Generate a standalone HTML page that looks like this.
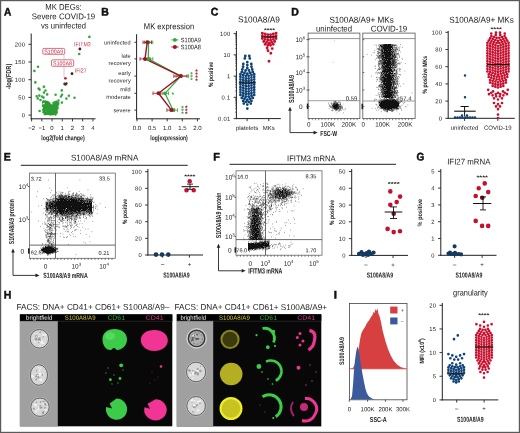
<!DOCTYPE html>
<html><head><meta charset="utf-8"><title>Figure</title>
<style>html,body{margin:0;padding:0;background:#fff;overflow:hidden}svg{display:block}text{font-family:"Liberation Sans",Arial,sans-serif}</style>
</head><body><svg width="520" height="433" viewBox="0 0 520 433" text-rendering="geometricPrecision" font-family="Liberation Sans, Arial, sans-serif" fill="#222"><text x="4" y="15.4" font-size="11" font-weight="bold" fill="#111" textLength="7.3" lengthAdjust="spacingAndGlyphs" transform="rotate(0.05 4 15.4)" stroke="#111" stroke-width="0.5">A</text><text x="63.5" y="9.8" font-size="8.3" text-anchor="middle" textLength="36.5" lengthAdjust="spacingAndGlyphs" transform="rotate(0.05 63.5 9.8)">MK DEGs:</text><text x="63.5" y="19.2" font-size="8.3" text-anchor="middle" textLength="63.5" lengthAdjust="spacingAndGlyphs" transform="rotate(0.05 63.5 19.2)">Severe COVID-19</text><text x="63.5" y="28.6" font-size="8.3" text-anchor="middle" textLength="45" lengthAdjust="spacingAndGlyphs" transform="rotate(0.05 63.5 28.6)">vs uninfected</text><line x1="31.2" y1="33.5" x2="31.2" y2="119.3" stroke="#222" stroke-width="1"/><line x1="28.4" y1="115.1" x2="31.2" y2="115.1" stroke="#222" stroke-width="0.9"/><text x="25.3" y="117.2" font-size="5.8" text-anchor="end" transform="rotate(0.05 25.3 117.2)" letter-spacing="0.3">0</text><line x1="28.4" y1="97.4" x2="31.2" y2="97.4" stroke="#222" stroke-width="0.9"/><text x="25.3" y="99.5" font-size="5.8" text-anchor="end" transform="rotate(0.05 25.3 99.5)" letter-spacing="0.3">50</text><line x1="28.4" y1="79.7" x2="31.2" y2="79.7" stroke="#222" stroke-width="0.9"/><text x="25.3" y="81.8" font-size="5.8" text-anchor="end" transform="rotate(0.05 25.3 81.8)" letter-spacing="0.3">100</text><line x1="28.4" y1="62" x2="31.2" y2="62" stroke="#222" stroke-width="0.9"/><text x="25.3" y="64.1" font-size="5.8" text-anchor="end" transform="rotate(0.05 25.3 64.1)" letter-spacing="0.3">150</text><line x1="28.4" y1="44.3" x2="31.2" y2="44.3" stroke="#222" stroke-width="0.9"/><text x="25.3" y="46.4" font-size="5.8" text-anchor="end" transform="rotate(0.05 25.3 46.4)" letter-spacing="0.3">200</text><line x1="30.7" y1="118.8" x2="95.5" y2="118.8" stroke="#222" stroke-width="1"/><line x1="31.6" y1="118.8" x2="31.6" y2="121.4" stroke="#222" stroke-width="0.9"/><text x="31.6" y="130" font-size="6.0" text-anchor="middle" transform="rotate(0.05 31.6 130)">−2</text><line x1="41.82" y1="118.8" x2="41.82" y2="121.4" stroke="#222" stroke-width="0.9"/><text x="41.82" y="130" font-size="6.0" text-anchor="middle" transform="rotate(0.05 41.82 130)">−1</text><line x1="52.04" y1="118.8" x2="52.04" y2="121.4" stroke="#222" stroke-width="0.9"/><text x="52.04" y="130" font-size="6.0" text-anchor="middle" transform="rotate(0.05 52.04 130)">0</text><line x1="62.26" y1="118.8" x2="62.26" y2="121.4" stroke="#222" stroke-width="0.9"/><text x="62.26" y="130" font-size="6.0" text-anchor="middle" transform="rotate(0.05 62.26 130)">1</text><line x1="72.48" y1="118.8" x2="72.48" y2="121.4" stroke="#222" stroke-width="0.9"/><text x="72.48" y="130" font-size="6.0" text-anchor="middle" transform="rotate(0.05 72.48 130)">2</text><line x1="82.7" y1="118.8" x2="82.7" y2="121.4" stroke="#222" stroke-width="0.9"/><text x="82.7" y="130" font-size="6.0" text-anchor="middle" transform="rotate(0.05 82.7 130)">3</text><line x1="92.92" y1="118.8" x2="92.92" y2="121.4" stroke="#222" stroke-width="0.9"/><text x="92.92" y="130" font-size="6.0" text-anchor="middle" transform="rotate(0.05 92.92 130)">4</text><text x="63" y="140.3" font-size="7.2" text-anchor="middle" font-weight="bold" textLength="43.3" lengthAdjust="spacingAndGlyphs" transform="rotate(0.05 63 140.3)">log2(fold change)</text><text x="11" y="76.5" font-size="7.2" text-anchor="middle" font-weight="bold" textLength="25.5" lengthAdjust="spacingAndGlyphs" transform="rotate(-90 11 76.5)">-log(FDR)</text><polygon points="42.2,100.8 48.3,101 49.6,102.5 51.8,105.5 53.8,102.5 55.2,101.6 58.8,102 58.3,106 57,112.5 55.5,114.6 44.5,114.6 43.3,112 42.6,106" fill="#34aa3a"/><path d="M52.88 114.3h0M55.74 103.22h0M46.7 113.91h0M56.14 107.22h0M46.76 104.09h0M45.84 106.84h0M50.59 108.63h0M45.09 102.14h0M52.96 107.98h0M54.15 102.81h0M56.77 102.05h0M46.08 114.03h0M50.69 113.48h0M53.15 111.74h0M50.65 113.88h0M47.86 109.37h0M47.14 101.98h0M56.51 105.76h0M52.5 110.03h0M49.37 103.45h0M53.76 104.46h0M51.82 105.71h0M48.81 103.45h0M49.89 108.54h0M47.12 111.9h0M49.14 108.14h0M57.58 105.18h0M52.22 110.78h0M47.75 108.07h0M55.54 114.5h0M56.4 101.76h0M48.96 112.95h0M56.07 107.96h0M54.79 103.24h0M44.77 105.49h0M44.41 105.21h0M47.46 103.98h0M50.9 114.29h0M55.11 109.08h0M49.11 113.99h0M45.77 112.8h0M53.85 111.33h0M47.32 106.07h0M52.47 107.41h0M52.3 110.38h0M49.85 109.86h0M55.52 112.95h0M57.68 108.13h0M45.8 103.6h0M44.56 108.86h0M44.15 110.68h0M56.42 110.36h0M47.43 104.75h0M43.14 109.84h0M56.15 104.68h0M43.45 112.15h0M57.77 102.76h0M51.9 110.04h0M53.56 109.93h0M56.65 112.76h0M47.22 111.41h0M48.21 103.67h0M49.67 110.34h0M42.92 105.78h0M43.54 110.43h0M56.78 105.72h0M48.06 108.4h0M45.09 103.58h0M47.27 107.05h0M43.49 101.7h0M58.22 103.94h0M46.82 113.24h0M49.26 114.08h0M48.13 111.23h0M55.75 113.13h0M53.81 105.62h0M55.39 102.65h0M46.06 108.35h0M55.22 114.29h0M43.39 102.54h0M56.19 110.13h0M55.77 106.02h0M55.43 112h0M54.7 106.84h0M48.19 106.43h0M51.31 105.89h0M51.41 111.41h0M48.25 113.21h0M43.62 112.05h0M54.54 113.12h0M43.22 102.42h0M51.92 106.86h0M55.26 102.64h0M58.37 103.08h0M46.96 104.65h0M54.68 107.01h0M45.68 106h0M45.32 101.56h0M43.34 102.41h0M57.35 107.49h0M44.49 110.55h0M46.05 108.19h0M46.38 108.02h0M52.94 108.35h0M48.52 112.55h0M57.6 102.46h0M43.59 101.37h0M44.95 107.86h0M50.45 114.6h0M45.49 107.17h0M56.75 112.06h0M54.45 113.52h0M53.95 111.64h0M46.73 102.27h0M55.37 102.24h0M43.95 107.99h0M51.93 112.76h0M46.36 112.73h0M54.35 110.12h0M48.89 110.92h0M56.87 105.03h0M53.72 102.95h0M51.48 112.19h0M49.9 106.25h0M54.69 108.13h0M51.69 108.71h0M49.6 109.91h0M44.72 114h0M44.76 107h0M55.26 111.17h0M51.52 112.82h0M49.85 109.74h0M56.56 110.69h0M53.19 106.2h0M51.61 106.04h0M55.14 105.78h0M49.87 111.97h0M50.57 105.08h0M56.71 105.79h0M49.5 111.26h0" stroke="#2e9c34" stroke-width="2.4" stroke-linecap="round"/><path d="M43.8 103.6h0" stroke="#fff" stroke-width="1.6" stroke-linecap="round"/><path d="M35.4 82.5h0M38.6 88.6h0M39.6 89.6h0M44 86.8h0M45.5 90.5h0M44 92.6h0M47.2 94.4h0M36.7 96.3h0M39.3 95.6h0M42 96.5h0M43.5 97.6h0M55.6 94.8h0M61.8 90.4h0M62 94.8h0M61 96.5h0M68.9 95.8h0M66.4 98.6h0M74.5 97.8h0M61.9 102.6h0M39.6 111h0M53.6 103h0M38 66.8h0M34.4 70.9h0M35.3 82.4h0M43.9 86.9h0M39 89h0M89.4 36.9h0M79.2 54h0M40.5 100h0M58.5 100.5h0M37.8 98.5h0" stroke="#35a83c" stroke-width="2.6" stroke-linecap="round"/><path d="M79.9 49h0M72 73.7h0" stroke="#5a0f18" stroke-width="2.8" stroke-linecap="round"/><path d="M65.4 78.3h0" stroke="#c0283a" stroke-width="2.8" stroke-linecap="round"/><path d="M64.6 83.9h0M66.4 83.6h0M65.5 84.4h0" stroke="#4a3010" stroke-width="2.6" stroke-linecap="round"/><line x1="64" y1="54.3" x2="64" y2="77" stroke="#aab" stroke-width="0.6"/><rect x="42.8" y="48.4" width="21.9" height="5.9" rx="1.2" fill="#fff" stroke="#c8324b" stroke-width="0.7"/><text x="53.75" y="53.4" font-size="5.6" text-anchor="middle" fill="#c8324b" textLength="19" lengthAdjust="spacingAndGlyphs" transform="rotate(0.05 53.75 53.4)">S100A9</text><rect x="51.5" y="59.8" width="22.2" height="6.5" rx="1.2" fill="#fff" stroke="#c8324b" stroke-width="0.7"/><text x="62.6" y="65.2" font-size="5.6" text-anchor="middle" fill="#c8324b" textLength="19" lengthAdjust="spacingAndGlyphs" transform="rotate(0.05 62.6 65.2)">S100A8</text><text x="74.1" y="46.2" font-size="6" fill="#c8324b" textLength="16.6" lengthAdjust="spacingAndGlyphs" transform="rotate(0.05 74.1 46.2)">IFITM3</text><text x="74.7" y="72.4" font-size="6" fill="#c8324b" textLength="11.9" lengthAdjust="spacingAndGlyphs" transform="rotate(0.05 74.7 72.4)">IFI27</text><text x="101.3" y="15.5" font-size="11" font-weight="bold" fill="#111" textLength="7.6" lengthAdjust="spacingAndGlyphs" transform="rotate(0.05 101.3 15.5)" stroke="#111" stroke-width="0.5">B</text><text x="169" y="29.2" font-size="8.6" text-anchor="middle" textLength="50.3" lengthAdjust="spacingAndGlyphs" transform="rotate(0.05 169 29.2)">MK expression</text><line x1="136.6" y1="34.2" x2="136.6" y2="119.3" stroke="#222" stroke-width="1"/><line x1="134.4" y1="42.3" x2="136.6" y2="42.3" stroke="#222" stroke-width="0.9"/><line x1="134.4" y1="58.9" x2="136.6" y2="58.9" stroke="#222" stroke-width="0.9"/><line x1="134.4" y1="76.1" x2="136.6" y2="76.1" stroke="#222" stroke-width="0.9"/><line x1="134.4" y1="93.3" x2="136.6" y2="93.3" stroke="#222" stroke-width="0.9"/><line x1="134.4" y1="110.1" x2="136.6" y2="110.1" stroke="#222" stroke-width="0.9"/><text x="130.8" y="44.5" font-size="5.6" text-anchor="end" transform="rotate(0.05 130.8 44.5)" letter-spacing="0.1">uninfected</text><text x="130.8" y="57.7" font-size="5.6" text-anchor="end" transform="rotate(0.05 130.8 57.7)" letter-spacing="0.1">late</text><text x="130.8" y="65.1" font-size="5.6" text-anchor="end" transform="rotate(0.05 130.8 65.1)" letter-spacing="0.1">recovery</text><text x="130.8" y="74.9" font-size="5.6" text-anchor="end" transform="rotate(0.05 130.8 74.9)" letter-spacing="0.1">early</text><text x="130.8" y="82.6" font-size="5.6" text-anchor="end" transform="rotate(0.05 130.8 82.6)" letter-spacing="0.1">recovery</text><text x="130.8" y="91.3" font-size="5.6" text-anchor="end" transform="rotate(0.05 130.8 91.3)" letter-spacing="0.1">mild</text><text x="130.8" y="98.9" font-size="5.6" text-anchor="end" transform="rotate(0.05 130.8 98.9)" letter-spacing="0.1">moderate</text><text x="130.8" y="112.3" font-size="5.6" text-anchor="end" transform="rotate(0.05 130.8 112.3)" letter-spacing="0.1">severe</text><line x1="136.1" y1="118.8" x2="200" y2="118.8" stroke="#222" stroke-width="1"/><line x1="137" y1="118.8" x2="137" y2="121.4" stroke="#222" stroke-width="0.9"/><text x="137" y="130" font-size="6.0" text-anchor="middle" transform="rotate(0.05 137 130)">0.0</text><line x1="152.1" y1="118.8" x2="152.1" y2="121.4" stroke="#222" stroke-width="0.9"/><text x="152.1" y="130" font-size="6.0" text-anchor="middle" transform="rotate(0.05 152.1 130)">0.5</text><line x1="167.2" y1="118.8" x2="167.2" y2="121.4" stroke="#222" stroke-width="0.9"/><text x="167.2" y="130" font-size="6.0" text-anchor="middle" transform="rotate(0.05 167.2 130)">1.0</text><line x1="182.3" y1="118.8" x2="182.3" y2="121.4" stroke="#222" stroke-width="0.9"/><text x="182.3" y="130" font-size="6.0" text-anchor="middle" transform="rotate(0.05 182.3 130)">1.5</text><line x1="197.4" y1="118.8" x2="197.4" y2="121.4" stroke="#222" stroke-width="0.9"/><text x="197.4" y="130" font-size="6.0" text-anchor="middle" transform="rotate(0.05 197.4 130)">2.0</text><text x="169" y="140.2" font-size="7.2" text-anchor="middle" font-weight="bold" textLength="37.5" lengthAdjust="spacingAndGlyphs" transform="rotate(0.05 169 140.2)">log(expression)</text><polyline points="148.5,42.3 148.3,58.9 180.8,76.1 165,93.3 173,110.1" fill="none" stroke="#35a83c" stroke-width="1.2"/><polyline points="147.2,42.3 145,58.9 180.8,76.1 158.5,93.3 171.5,110.1" fill="none" stroke="#a01226" stroke-width="1.4"/><line x1="144.5" y1="42.3" x2="152.8" y2="42.3" stroke="#35a83c" stroke-width="0.8"/><line x1="144.5" y1="40.5" x2="144.5" y2="44.1" stroke="#35a83c" stroke-width="0.8"/><line x1="152.8" y1="40.5" x2="152.8" y2="44.1" stroke="#35a83c" stroke-width="0.8"/><line x1="145" y1="58.9" x2="152.8" y2="58.9" stroke="#35a83c" stroke-width="0.8"/><line x1="145" y1="57.1" x2="145" y2="60.7" stroke="#35a83c" stroke-width="0.8"/><line x1="152.8" y1="57.1" x2="152.8" y2="60.7" stroke="#35a83c" stroke-width="0.8"/><line x1="176" y1="76.1" x2="188.5" y2="76.1" stroke="#35a83c" stroke-width="0.8"/><line x1="176" y1="74.3" x2="176" y2="77.9" stroke="#35a83c" stroke-width="0.8"/><line x1="188.5" y1="74.3" x2="188.5" y2="77.9" stroke="#35a83c" stroke-width="0.8"/><line x1="162.3" y1="93.3" x2="168.5" y2="93.3" stroke="#35a83c" stroke-width="0.8"/><line x1="162.3" y1="91.5" x2="162.3" y2="95.1" stroke="#35a83c" stroke-width="0.8"/><line x1="168.5" y1="91.5" x2="168.5" y2="95.1" stroke="#35a83c" stroke-width="0.8"/><line x1="170" y1="110.1" x2="177.5" y2="110.1" stroke="#35a83c" stroke-width="0.8"/><line x1="170" y1="108.3" x2="170" y2="111.9" stroke="#35a83c" stroke-width="0.8"/><line x1="177.5" y1="108.3" x2="177.5" y2="111.9" stroke="#35a83c" stroke-width="0.8"/><line x1="143" y1="42.3" x2="151.5" y2="42.3" stroke="#a01226" stroke-width="0.8"/><line x1="143" y1="40.5" x2="143" y2="44.1" stroke="#a01226" stroke-width="0.8"/><line x1="151.5" y1="40.5" x2="151.5" y2="44.1" stroke="#a01226" stroke-width="0.8"/><line x1="140" y1="58.9" x2="150" y2="58.9" stroke="#a01226" stroke-width="0.8"/><line x1="140" y1="57.1" x2="140" y2="60.7" stroke="#a01226" stroke-width="0.8"/><line x1="150" y1="57.1" x2="150" y2="60.7" stroke="#a01226" stroke-width="0.8"/><line x1="173.8" y1="76.1" x2="187" y2="76.1" stroke="#a01226" stroke-width="0.8"/><line x1="173.8" y1="74.3" x2="173.8" y2="77.9" stroke="#a01226" stroke-width="0.8"/><line x1="187" y1="74.3" x2="187" y2="77.9" stroke="#a01226" stroke-width="0.8"/><line x1="153" y1="93.3" x2="160.8" y2="93.3" stroke="#a01226" stroke-width="0.8"/><line x1="153" y1="91.5" x2="153" y2="95.1" stroke="#a01226" stroke-width="0.8"/><line x1="160.8" y1="91.5" x2="160.8" y2="95.1" stroke="#a01226" stroke-width="0.8"/><line x1="166.9" y1="110.1" x2="174.6" y2="110.1" stroke="#a01226" stroke-width="0.8"/><line x1="166.9" y1="108.3" x2="166.9" y2="111.9" stroke="#a01226" stroke-width="0.8"/><line x1="174.6" y1="108.3" x2="174.6" y2="111.9" stroke="#a01226" stroke-width="0.8"/><circle cx="148.5" cy="42.3" r="1.9" fill="#35a83c"/><circle cx="148.3" cy="58.9" r="1.9" fill="#35a83c"/><circle cx="180.8" cy="76.1" r="1.9" fill="#35a83c"/><circle cx="165" cy="93.3" r="1.9" fill="#35a83c"/><circle cx="173" cy="110.1" r="1.9" fill="#35a83c"/><circle cx="147.2" cy="42.3" r="2" fill="#a01226"/><circle cx="145" cy="58.9" r="2" fill="#a01226"/><circle cx="180.8" cy="76.1" r="2" fill="#a01226"/><circle cx="158.5" cy="93.3" r="2" fill="#a01226"/><circle cx="171.5" cy="110.1" r="2" fill="#a01226"/><text x="191.5" y="76.4" font-size="6.5" text-anchor="middle" font-weight="bold" fill="#35a83c" transform="rotate(0.05 191.5 76.4)">*</text><text x="191.5" y="79.3" font-size="6.5" text-anchor="middle" font-weight="bold" fill="#35a83c" transform="rotate(0.05 191.5 79.3)">*</text><text x="191.5" y="82.2" font-size="6.5" text-anchor="middle" font-weight="bold" fill="#35a83c" transform="rotate(0.05 191.5 82.2)">*</text><text x="196.5" y="73.65" font-size="6.5" text-anchor="middle" font-weight="bold" fill="#a01226" transform="rotate(0.05 196.5 73.65)">*</text><text x="196.5" y="76.75" font-size="6.5" text-anchor="middle" font-weight="bold" fill="#a01226" transform="rotate(0.05 196.5 76.75)">*</text><text x="196.5" y="79.85" font-size="6.5" text-anchor="middle" font-weight="bold" fill="#a01226" transform="rotate(0.05 196.5 79.85)">*</text><text x="196.5" y="82.95" font-size="6.5" text-anchor="middle" font-weight="bold" fill="#a01226" transform="rotate(0.05 196.5 82.95)">*</text><text x="182.4" y="110.2" font-size="6.5" text-anchor="middle" font-weight="bold" fill="#35a83c" transform="rotate(0.05 182.4 110.2)">*</text><text x="182.4" y="113.1" font-size="6.5" text-anchor="middle" font-weight="bold" fill="#35a83c" transform="rotate(0.05 182.4 113.1)">*</text><text x="182.4" y="116" font-size="6.5" text-anchor="middle" font-weight="bold" fill="#35a83c" transform="rotate(0.05 182.4 116)">*</text><text x="186.3" y="110.1" font-size="6.5" text-anchor="middle" font-weight="bold" fill="#a01226" transform="rotate(0.05 186.3 110.1)">*</text><text x="186.3" y="113.1" font-size="6.5" text-anchor="middle" font-weight="bold" fill="#a01226" transform="rotate(0.05 186.3 113.1)">*</text><text x="186.3" y="116.1" font-size="6.5" text-anchor="middle" font-weight="bold" fill="#a01226" transform="rotate(0.05 186.3 116.1)">*</text><text x="172.8" y="96.8" font-size="6.5" text-anchor="middle" font-weight="bold" fill="#35a83c" transform="rotate(0.05 172.8 96.8)">*</text><line x1="171.3" y1="39.9" x2="178.5" y2="39.9" stroke="#35a83c" stroke-width="0.9"/><circle cx="174.9" cy="39.9" r="1.9" fill="#35a83c"/><line x1="171.3" y1="47" x2="178.5" y2="47" stroke="#a01226" stroke-width="0.9"/><circle cx="174.9" cy="47" r="2" fill="#a01226"/><text x="180.8" y="42.2" font-size="6.4" textLength="20" lengthAdjust="spacingAndGlyphs" transform="rotate(0.05 180.8 42.2)">S100A9</text><text x="180.8" y="49.3" font-size="6.4" textLength="20" lengthAdjust="spacingAndGlyphs" transform="rotate(0.05 180.8 49.3)">S100A8</text><text x="210.8" y="15.5" font-size="11" font-weight="bold" fill="#111" textLength="7.6" lengthAdjust="spacingAndGlyphs" transform="rotate(0.05 210.8 15.5)" stroke="#111" stroke-width="0.5">C</text><text x="258.9" y="22.4" font-size="8.6" text-anchor="middle" textLength="42" lengthAdjust="spacingAndGlyphs" transform="rotate(0.05 258.9 22.4)">S100A8/A9</text><line x1="236.4" y1="31" x2="236.4" y2="119.1" stroke="#222" stroke-width="1"/><line x1="233.6" y1="118.6" x2="236.4" y2="118.6" stroke="#222" stroke-width="0.9"/><text x="230.5" y="120.7" font-size="5.8" text-anchor="end" transform="rotate(0.05 230.5 120.7)" letter-spacing="0.3">0.01</text><line x1="233.6" y1="97.35" x2="236.4" y2="97.35" stroke="#222" stroke-width="0.9"/><text x="230.5" y="99.45" font-size="5.8" text-anchor="end" transform="rotate(0.05 230.5 99.45)" letter-spacing="0.3">0.1</text><line x1="233.6" y1="76.1" x2="236.4" y2="76.1" stroke="#222" stroke-width="0.9"/><text x="230.5" y="78.2" font-size="5.8" text-anchor="end" transform="rotate(0.05 230.5 78.2)" letter-spacing="0.3">1</text><line x1="233.6" y1="54.85" x2="236.4" y2="54.85" stroke="#222" stroke-width="0.9"/><text x="230.5" y="56.95" font-size="5.8" text-anchor="end" transform="rotate(0.05 230.5 56.95)" letter-spacing="0.3">10</text><line x1="233.6" y1="33.6" x2="236.4" y2="33.6" stroke="#222" stroke-width="0.9"/><text x="230.5" y="35.7" font-size="5.8" text-anchor="end" transform="rotate(0.05 230.5 35.7)" letter-spacing="0.3">100</text><line x1="235.2" y1="112.2" x2="236.4" y2="112.2" stroke="#222" stroke-width="0.6"/><line x1="235.2" y1="108.46" x2="236.4" y2="108.46" stroke="#222" stroke-width="0.6"/><line x1="235.2" y1="105.81" x2="236.4" y2="105.81" stroke="#222" stroke-width="0.6"/><line x1="235.2" y1="103.75" x2="236.4" y2="103.75" stroke="#222" stroke-width="0.6"/><line x1="235.2" y1="102.06" x2="236.4" y2="102.06" stroke="#222" stroke-width="0.6"/><line x1="235.2" y1="100.64" x2="236.4" y2="100.64" stroke="#222" stroke-width="0.6"/><line x1="235.2" y1="99.41" x2="236.4" y2="99.41" stroke="#222" stroke-width="0.6"/><line x1="235.2" y1="98.32" x2="236.4" y2="98.32" stroke="#222" stroke-width="0.6"/><line x1="235.2" y1="90.95" x2="236.4" y2="90.95" stroke="#222" stroke-width="0.6"/><line x1="235.2" y1="87.21" x2="236.4" y2="87.21" stroke="#222" stroke-width="0.6"/><line x1="235.2" y1="84.56" x2="236.4" y2="84.56" stroke="#222" stroke-width="0.6"/><line x1="235.2" y1="82.5" x2="236.4" y2="82.5" stroke="#222" stroke-width="0.6"/><line x1="235.2" y1="80.81" x2="236.4" y2="80.81" stroke="#222" stroke-width="0.6"/><line x1="235.2" y1="79.39" x2="236.4" y2="79.39" stroke="#222" stroke-width="0.6"/><line x1="235.2" y1="78.16" x2="236.4" y2="78.16" stroke="#222" stroke-width="0.6"/><line x1="235.2" y1="77.07" x2="236.4" y2="77.07" stroke="#222" stroke-width="0.6"/><line x1="235.2" y1="69.7" x2="236.4" y2="69.7" stroke="#222" stroke-width="0.6"/><line x1="235.2" y1="65.96" x2="236.4" y2="65.96" stroke="#222" stroke-width="0.6"/><line x1="235.2" y1="63.31" x2="236.4" y2="63.31" stroke="#222" stroke-width="0.6"/><line x1="235.2" y1="61.25" x2="236.4" y2="61.25" stroke="#222" stroke-width="0.6"/><line x1="235.2" y1="59.56" x2="236.4" y2="59.56" stroke="#222" stroke-width="0.6"/><line x1="235.2" y1="58.14" x2="236.4" y2="58.14" stroke="#222" stroke-width="0.6"/><line x1="235.2" y1="56.91" x2="236.4" y2="56.91" stroke="#222" stroke-width="0.6"/><line x1="235.2" y1="55.82" x2="236.4" y2="55.82" stroke="#222" stroke-width="0.6"/><line x1="235.2" y1="48.45" x2="236.4" y2="48.45" stroke="#222" stroke-width="0.6"/><line x1="235.2" y1="44.71" x2="236.4" y2="44.71" stroke="#222" stroke-width="0.6"/><line x1="235.2" y1="42.06" x2="236.4" y2="42.06" stroke="#222" stroke-width="0.6"/><line x1="235.2" y1="40" x2="236.4" y2="40" stroke="#222" stroke-width="0.6"/><line x1="235.2" y1="38.31" x2="236.4" y2="38.31" stroke="#222" stroke-width="0.6"/><line x1="235.2" y1="36.89" x2="236.4" y2="36.89" stroke="#222" stroke-width="0.6"/><line x1="235.2" y1="35.66" x2="236.4" y2="35.66" stroke="#222" stroke-width="0.6"/><line x1="235.2" y1="34.57" x2="236.4" y2="34.57" stroke="#222" stroke-width="0.6"/><line x1="235.9" y1="118.6" x2="280.8" y2="118.6" stroke="#222" stroke-width="1"/><line x1="247.1" y1="118.6" x2="247.1" y2="121.2" stroke="#222" stroke-width="0.9"/><text x="247.1" y="130" font-size="6.0" text-anchor="middle" transform="rotate(0.05 247.1 130)">platelets</text><line x1="268.8" y1="118.6" x2="268.8" y2="121.2" stroke="#222" stroke-width="0.9"/><text x="268.8" y="130" font-size="6.0" text-anchor="middle" transform="rotate(0.05 268.8 130)">MKs</text><text x="212.8" y="74.4" font-size="6.4" text-anchor="middle" font-weight="bold" textLength="25" lengthAdjust="spacingAndGlyphs" transform="rotate(-90 212.8 74.4)">% positive</text><path d="M245.3 56h0M249.3 56h0M244.8 58.45h0M249.8 58.45h0M247.3 62.2h0M243.3 63.9h0M247.3 65.1h0M251.3 63.9h0M243.1 66.74h0M247.3 68h0M251.5 66.74h0M242.35 69.42h0M245.65 70.41h0M248.95 70.41h0M252.25 69.42h0M241.8 71.95h0M244.55 72.77h0M247.3 73.6h0M250.05 72.77h0M252.8 71.95h0M240.43 74.14h0M243.18 74.96h0M245.93 75.79h0M248.68 75.79h0M251.43 74.96h0M254.18 74.14h0M240.43 76.74h0M243.18 77.56h0M245.93 78.39h0M248.68 78.39h0M251.43 77.56h0M254.18 76.74h0M240.43 79.34h0M243.18 80.16h0M245.93 80.99h0M248.68 80.99h0M251.43 80.16h0M254.18 79.34h0M240.43 81.94h0M243.18 82.76h0M245.93 83.59h0M248.68 83.59h0M251.43 82.76h0M254.18 81.94h0M240.43 84.54h0M243.18 85.36h0M245.93 86.19h0M248.68 86.19h0M251.43 85.36h0M254.18 84.54h0M240.43 87.14h0M243.18 87.96h0M245.93 88.79h0M248.68 88.79h0M251.43 87.96h0M254.18 87.14h0M240.43 89.74h0M243.18 90.56h0M245.93 91.39h0M248.68 91.39h0M251.43 90.56h0M254.18 89.74h0M240.43 92.34h0M243.18 93.16h0M245.93 93.99h0M248.68 93.99h0M251.43 93.16h0M254.18 92.34h0M240.43 94.94h0M243.18 95.76h0M245.93 96.59h0M248.68 96.59h0M251.43 95.76h0M254.18 94.94h0M241.8 97.95h0M244.55 98.77h0M247.3 99.6h0M250.05 98.77h0M252.8 97.95h0M243.18 100.96h0M245.93 101.79h0M248.68 101.79h0M251.43 100.96h0M243.8 103.55h0M247.3 104.6h0M250.8 103.55h0M247.3 108.6h0" stroke="#0f4276" stroke-width="2.8" stroke-linecap="round"/><line x1="238.8" y1="82.9" x2="255.6" y2="82.9" stroke="#111" stroke-width="1.1"/><path d="M262.32 33.14h0M265.07 33.96h0M267.82 34.79h0M270.57 34.79h0M273.32 33.96h0M276.07 33.14h0M262.32 35.84h0M265.07 36.66h0M267.82 37.49h0M270.57 37.49h0M273.32 36.66h0M276.07 35.84h0M262.32 38.54h0M265.07 39.36h0M267.82 40.19h0M270.57 40.19h0M273.32 39.36h0M276.07 38.54h0M263.7 41.55h0M266.45 42.38h0M269.2 43.2h0M271.95 42.38h0M274.7 41.55h0M265.07 44.36h0M267.82 45.19h0M270.57 45.19h0M273.32 44.36h0M267.1 48h0M272.2 48.6h0M268 50.8h0M270.8 53.3h0M269 61.2h0" stroke="#c8102e" stroke-width="2.9" stroke-linecap="round"/><line x1="261.5" y1="36.9" x2="276.8" y2="36.9" stroke="#111" stroke-width="1.1"/><text x="269.4" y="32.2" font-size="6" text-anchor="middle" font-weight="bold" fill="#111" textLength="11" lengthAdjust="spacingAndGlyphs" transform="rotate(0.05 269.4 32.2)">****</text><text x="291.2" y="15.5" font-size="11" font-weight="bold" fill="#111" textLength="7.6" lengthAdjust="spacingAndGlyphs" transform="rotate(0.05 291.2 15.5)" stroke="#111" stroke-width="0.5">D</text><text x="361.6" y="22.8" font-size="8.6" text-anchor="middle" textLength="64.4" lengthAdjust="spacingAndGlyphs" transform="rotate(0.05 361.6 22.8)">S100A8/A9+ MKs</text><text x="334" y="31.6" font-size="8.3" text-anchor="middle" textLength="36" lengthAdjust="spacingAndGlyphs" transform="rotate(0.05 334 31.6)">uninfected</text><text x="389" y="31.6" font-size="8.3" text-anchor="middle" textLength="36.6" lengthAdjust="spacingAndGlyphs" transform="rotate(0.05 389 31.6)">COVID-19</text><rect x="308.1" y="33.1" width="51.8" height="85.5" fill="none" stroke="#555" stroke-width="0.8"/><line x1="308.1" y1="38.6" x2="359.9" y2="38.6" stroke="#777" stroke-width="0.8"/><line x1="308.1" y1="100.7" x2="359.9" y2="100.7" stroke="#888" stroke-width="0.8"/><line x1="308.1" y1="39.6" x2="309.6" y2="39.6" stroke="#333" stroke-width="0.7"/><line x1="308.1" y1="56.8" x2="309.6" y2="56.8" stroke="#333" stroke-width="0.7"/><line x1="308.1" y1="72.5" x2="309.6" y2="72.5" stroke="#333" stroke-width="0.7"/><line x1="308.1" y1="90" x2="309.6" y2="90" stroke="#333" stroke-width="0.7"/><line x1="308.1" y1="106.6" x2="309.6" y2="106.6" stroke="#333" stroke-width="0.7"/><rect x="362.8" y="33.1" width="52.3" height="85.5" fill="none" stroke="#555" stroke-width="0.8"/><line x1="362.8" y1="38.6" x2="415.1" y2="38.6" stroke="#777" stroke-width="0.8"/><line x1="362.8" y1="101" x2="415.1" y2="101" stroke="#888" stroke-width="0.8"/><line x1="362.8" y1="39.6" x2="364.3" y2="39.6" stroke="#333" stroke-width="0.7"/><line x1="362.8" y1="56.8" x2="364.3" y2="56.8" stroke="#333" stroke-width="0.7"/><line x1="362.8" y1="72.5" x2="364.3" y2="72.5" stroke="#333" stroke-width="0.7"/><line x1="362.8" y1="90" x2="364.3" y2="90" stroke="#333" stroke-width="0.7"/><line x1="362.8" y1="106.6" x2="364.3" y2="106.6" stroke="#333" stroke-width="0.7"/><text x="305.2" y="42" font-size="6.5" text-anchor="end" transform="rotate(0.05 305.2 42)">10<tspan dy="-2.7" font-size="4.4">6</tspan></text><line x1="306.5" y1="39.6" x2="308.1" y2="39.6" stroke="#333" stroke-width="0.8"/><text x="305.2" y="59.2" font-size="6.5" text-anchor="end" transform="rotate(0.05 305.2 59.2)">10<tspan dy="-2.7" font-size="4.4">5</tspan></text><line x1="306.5" y1="56.8" x2="308.1" y2="56.8" stroke="#333" stroke-width="0.8"/><text x="305.2" y="74.9" font-size="6.5" text-anchor="end" transform="rotate(0.05 305.2 74.9)">10<tspan dy="-2.7" font-size="4.4">4</tspan></text><line x1="306.5" y1="72.5" x2="308.1" y2="72.5" stroke="#333" stroke-width="0.8"/><text x="305.2" y="92.4" font-size="6.5" text-anchor="end" transform="rotate(0.05 305.2 92.4)">10<tspan dy="-2.7" font-size="4.4">3</tspan></text><line x1="306.5" y1="90" x2="308.1" y2="90" stroke="#333" stroke-width="0.8"/><text x="302.6" y="109" font-size="6.5" text-anchor="end" transform="rotate(0.05 302.6 109)">0</text><line x1="306.5" y1="106.6" x2="308.1" y2="106.6" stroke="#333" stroke-width="0.8"/><text x="308.7" y="126.4" font-size="6.3" text-anchor="middle" transform="rotate(0.05 308.7 126.4)">0</text><text x="327.9" y="126.4" font-size="6.3" text-anchor="middle" transform="rotate(0.05 327.9 126.4)">100K</text><text x="348.8" y="126.4" font-size="6.3" text-anchor="middle" transform="rotate(0.05 348.8 126.4)">200K</text><text x="363.3" y="126.4" font-size="6.3" text-anchor="middle" transform="rotate(0.05 363.3 126.4)">0</text><text x="382.7" y="126.4" font-size="6.3" text-anchor="middle" transform="rotate(0.05 382.7 126.4)">100K</text><text x="405" y="126.4" font-size="6.3" text-anchor="middle" transform="rotate(0.05 405 126.4)">200K</text><text x="351.5" y="100.4" font-size="6" text-anchor="middle" transform="rotate(0.05 351.5 100.4)">0.59</text><text x="405.7" y="100.4" font-size="6" text-anchor="middle" transform="rotate(0.05 405.7 100.4)">57.4</text><path d="M336 104h2v1h-2zM334 105h4v1h-4zM333 106h5v1h-5zM334 107h3v1h-3zM335 108h1v1h-1z" fill="#111"/><path d="M336.3 108.5h0.6M333.0 104.1h0.6M334.8 104.0h0.6M334.3 103.9h0.6M332.4 110.0h0.6M336.5 110.1h0.6M334.1 103.2h0.6M334.2 103.6h0.6M338.0 107.9h0.6M334.3 103.5h0.6M335.6 109.1h0.6M330.2 107.4h0.6M334.0 108.4h0.6M333.1 104.3h0.6M339.4 107.9h0.6M335.5 104.6h0.6M332.2 105.5h0.6M339.2 110.0h0.6M336.0 104.8h0.6M336.4 103.6h0.6M336.5 103.6h0.6M331.8 106.5h0.6M332.7 107.2h0.6M333.1 107.4h0.6M339.0 108.3h0.6M336.9 103.2h0.6M338.5 106.0h0.6M330.8 107.1h0.6M333.1 103.7h0.6M340.2 109.5h0.6M333.6 104.9h0.6M337.3 107.1h0.6M336.6 108.3h0.6M338.0 107.5h0.6M338.8 107.1h0.6M334.2 103.0h0.6M337.1 102.9h0.6M334.5 101.8h0.6M330.3 106.1h0.6M337.6 107.7h0.6M340.1 108.6h0.6M338.1 105.2h0.6M336.3 108.1h0.6M340.7 106.0h0.6M339.4 106.2h0.6M339.6 104.4h0.6M338.1 108.4h0.6M333.1 104.5h0.6M333.1 108.4h0.6M337.5 107.3h0.6M334.4 104.6h0.6M339.1 110.8h0.6M340.8 106.4h0.6M336.9 109.4h0.6M334.6 103.0h0.6M333.2 107.6h0.6M334.1 108.6h0.6M337.9 103.1h0.6M342.0 108.2h0.6M340.9 105.8h0.6M337.5 107.6h0.6M335.3 110.1h0.6M340.2 107.4h0.6M337.9 102.2h0.6M337.4 107.7h0.6M335.6 102.9h0.6M335.6 101.7h0.6M339.1 106.8h0.6M338.8 110.3h0.6M336.4 102.7h0.6M334.4 103.9h0.6M332.0 107.0h0.6M335.1 102.9h0.6M336.3 110.0h0.6M340.8 108.9h0.6M339.6 106.2h0.6M335.6 110.9h0.6M337.6 107.7h0.6M333.9 105.9h0.6M338.4 106.8h0.6M336.7 109.4h0.6M335.3 109.3h0.6M332.1 105.0h0.6M337.7 109.1h0.6M332.9 107.8h0.6M335.8 105.0h0.6M331.8 105.6h0.6M333.1 105.0h0.6M339.9 105.9h0.6M333.0 104.8h0.6M334.4 103.9h0.6M332.0 107.7h0.6M336.5 108.8h0.6M337.3 107.1h0.6M337.3 103.4h0.6M336.9 103.6h0.6M340.0 106.5h0.6M333.7 102.9h0.6M338.6 111.4h0.6M333.9 105.3h0.6M331.8 103.4h0.6M336.0 102.8h0.6M335.1 104.0h0.6M334.6 109.2h0.6M336.9 108.6h0.6M341.9 107.8h0.6M337.1 108.7h0.6M335.3 102.8h0.6M336.6 108.9h0.6M337.1 107.9h0.6M334.0 108.0h0.6M341.0 107.8h0.6M340.3 104.4h0.6M338.0 105.4h0.6M338.3 104.4h0.6M334.1 108.6h0.6M341.5 110.3h0.6M339.8 103.7h0.6M338.7 106.2h0.6M339.5 106.7h0.6M338.0 106.4h0.6M331.7 108.1h0.6M336.6 108.4h0.6M335.4 104.9h0.6M333.3 108.7h0.6M335.0 104.1h0.6M339.2 106.1h0.6M333.5 105.6h0.6M338.4 108.7h0.6M338.8 106.7h0.6M338.3 108.7h0.6M337.7 110.8h0.6M335.7 110.0h0.6M340.1 102.4h0.6M338.1 107.8h0.6M338.7 101.8h0.6M338.5 105.8h0.6M334.4 104.5h0.6M333.0 106.2h0.6M337.5 108.3h0.6M336.1 108.4h0.6M337.7 108.4h0.6M334.4 108.4h0.6M340.8 107.0h0.6M340.3 108.2h0.6M332.4 105.8h0.6M331.5 107.0h0.6M334.8 104.9h0.6M333.2 102.8h0.6M334.1 102.2h0.6M334.3 109.5h0.6M337.7 109.8h0.6M336.3 109.8h0.6M332.0 105.7h0.6M338.3 105.6h0.6M341.8 108.6h0.6M334.0 104.6h0.6M334.6 104.9h0.6M338.3 108.0h0.6M335.6 104.1h0.6M331.1 104.3h0.6M328.8 108.4h0.6M342.8 109.6h0.6M332.5 108.7h0.6M340.3 104.2h0.6M333.2 106.0h0.6M331.0 110.4h0.6M328.2 103.2h0.6M335.7 109.5h0.6M329.1 106.3h0.6M337.2 103.7h0.6M334.2 108.5h0.6M343.3 112.8h0.6M331.4 107.1h0.6M344.9 108.5h0.6M334.5 108.4h0.6M332.3 106.2h0.6M333.4 105.8h0.6M339.9 107.3h0.6M338.1 107.3h0.6M332.7 110.1h0.6M334.7 104.4h0.6M340.3 104.1h0.6M328.7 104.3h0.6M329.6 106.2h0.6M340.0 108.1h0.6M331.9 104.2h0.6M342.4 107.2h0.6M336.4 109.3h0.6M344.7 109.9h0.6M338.5 104.6h0.6M332.8 106.4h0.6M336.7 112.9h0.6M333.5 106.0h0.6M340.0 104.9h0.6M333.6 101.7h0.6M333.3 107.8h0.6M336.6 103.5h0.6M338.1 104.6h0.6M335.5 101.2h0.6M332.5 110.8h0.6M329.0 105.4h0.6M330.0 105.9h0.6M333.5 104.8h0.6M337.2 108.1h0.6M339.4 104.9h0.6M339.5 109.6h0.6M340.3 110.2h0.6M339.2 102.5h0.6M335.1 101.4h0.6M339.4 109.1h0.6M333.6 107.4h0.6M342.4 106.2h0.6M331.3 103.9h0.6M331.4 102.9h0.6M340.8 106.9h0.6" stroke="#111" stroke-width="0.6"/><path d="M334 41h0.6M332.7 62.3h0.6M330 103h0.6M341 108h0.6M343.5 104h0.6" stroke="#555" stroke-width="0.6"/><path d="M385 44h2v1h-2zM388 44h3v1h-3zM380 45h1v1h-1zM383 45h8v1h-8zM381 46h1v1h-1zM384 46h8v1h-8zM383 47h9v1h-9zM383 48h8v1h-8zM392 48h1v1h-1zM384 49h3v1h-3zM388 49h4v1h-4zM382 50h1v1h-1zM384 50h7v1h-7zM382 51h1v1h-1zM384 51h1v1h-1zM386 51h2v1h-2zM389 51h1v1h-1zM391 51h1v1h-1zM383 52h8v1h-8zM382 53h1v1h-1zM384 53h7v1h-7zM385 54h7v1h-7zM394 54h1v1h-1zM382 55h2v1h-2zM385 55h6v1h-6zM383 56h1v1h-1zM385 56h5v1h-5zM383 57h5v1h-5zM389 57h1v1h-1zM382 58h1v1h-1zM385 58h8v1h-8zM382 59h1v1h-1zM384 59h1v1h-1zM386 59h1v1h-1zM388 59h3v1h-3zM385 60h5v1h-5zM384 61h2v1h-2zM387 61h4v1h-4zM383 62h8v1h-8zM384 63h7v1h-7zM384 64h1v1h-1zM386 64h4v1h-4zM391 64h1v1h-1zM382 65h1v1h-1zM385 65h6v1h-6zM393 65h1v1h-1zM383 66h1v1h-1zM385 66h4v1h-4zM390 66h1v1h-1zM384 67h1v1h-1zM386 67h6v1h-6zM385 68h1v1h-1zM387 68h1v1h-1zM389 68h2v1h-2zM385 69h7v1h-7zM384 70h2v1h-2zM387 70h5v1h-5zM382 71h8v1h-8zM391 71h2v1h-2zM384 72h1v1h-1zM386 72h2v1h-2zM389 72h2v1h-2zM383 73h1v1h-1zM386 73h1v1h-1zM388 73h5v1h-5zM394 73h1v1h-1zM385 74h5v1h-5zM385 75h6v1h-6zM392 75h2v1h-2zM383 76h1v1h-1zM385 76h6v1h-6zM382 77h3v1h-3zM387 77h6v1h-6zM384 78h8v1h-8zM393 78h1v1h-1zM384 79h8v1h-8zM384 80h7v1h-7zM383 81h8v1h-8zM384 82h1v1h-1zM386 82h6v1h-6zM383 83h8v1h-8zM384 84h8v1h-8zM385 85h7v1h-7zM384 86h1v1h-1zM386 86h5v1h-5zM384 87h7v1h-7zM383 88h1v1h-1zM386 88h5v1h-5zM392 88h1v1h-1zM384 89h2v1h-2zM387 89h4v1h-4zM387 90h4v1h-4zM384 91h6v1h-6zM385 92h8v1h-8zM384 93h7v1h-7zM385 94h1v1h-1zM387 94h5v1h-5zM385 95h7v1h-7zM383 96h8v1h-8zM385 97h5v1h-5zM391 97h2v1h-2zM387 99h1v1h-1zM385 100h6v1h-6zM392 100h2v1h-2zM395 100h1v1h-1zM381 101h16v1h-16zM379 102h1v1h-1zM381 102h17v1h-17zM380 103h19v1h-19zM380 104h19v1h-19zM379 105h20v1h-20zM380 106h18v1h-18zM381 107h16v1h-16zM384 108h2v1h-2zM387 108h5v1h-5zM388 109h1v1h-1z" fill="#111"/><path d="M386.2 94.4h0.6M393.3 81.7h0.6M394.1 61.2h0.6M394.4 75.8h0.6M392.2 63.6h0.6M377.8 64.7h0.6M386.0 90.4h0.6M383.2 54.9h0.6M395.0 67.5h0.6M392.6 76.3h0.6M395.2 62.9h0.6M382.1 79.4h0.6M394.9 63.3h0.6M383.3 91.8h0.6M382.5 91.7h0.6M393.9 81.4h0.6M384.9 58.1h0.6M383.5 90.5h0.6M396.7 54.7h0.6M392.2 93.7h0.6M394.9 45.3h0.6M383.5 86.2h0.6M390.8 64.2h0.6M394.8 53.0h0.6M393.4 88.1h0.6M383.6 70.4h0.6M400.2 69.0h0.6M383.4 69.9h0.6M378.9 63.6h0.6M396.2 86.2h0.6M394.9 50.6h0.6M397.8 48.9h0.6M383.0 85.2h0.6M395.4 79.3h0.6M399.5 56.0h0.6M380.7 77.6h0.6M391.2 86.5h0.6M390.2 57.0h0.6M396.7 54.7h0.6M390.8 91.4h0.6M381.6 78.2h0.6M400.3 86.3h0.6M388.6 51.8h0.6M395.0 67.5h0.6M392.4 72.7h0.6M396.4 51.7h0.6M383.3 60.4h0.6M380.9 62.8h0.6M393.6 70.2h0.6M397.2 83.6h0.6M379.6 56.5h0.6M381.7 78.2h0.6M383.0 45.9h0.6M378.5 56.0h0.6M395.3 56.9h0.6M384.7 92.2h0.6M382.2 66.7h0.6M379.0 58.2h0.6M388.7 51.7h0.6M382.2 67.4h0.6M383.0 68.8h0.6M390.3 56.1h0.6M383.6 70.9h0.6M384.4 65.6h0.6M379.6 64.9h0.6M393.5 74.8h0.6M379.1 47.1h0.6M378.5 45.0h0.6M381.2 79.9h0.6M384.3 60.1h0.6M397.2 93.9h0.6M393.3 61.2h0.6M381.6 78.6h0.6M384.5 60.9h0.6M382.4 46.2h0.6M393.8 50.8h0.6M392.6 80.3h0.6M393.1 91.4h0.6M392.2 94.8h0.6M392.3 49.4h0.6M385.2 67.4h0.6M396.0 85.3h0.6M397.9 63.2h0.6M379.7 65.8h0.6M384.2 90.6h0.6M396.4 93.1h0.6M397.2 77.3h0.6M384.3 73.4h0.6M391.0 93.5h0.6M392.9 56.2h0.6M396.8 59.0h0.6M394.1 92.9h0.6M392.2 63.0h0.6M390.5 57.9h0.6M381.6 96.8h0.6M381.6 58.7h0.6M392.5 63.1h0.6M394.2 55.2h0.6M381.8 70.6h0.6M391.8 48.4h0.6M395.3 93.7h0.6M383.1 70.0h0.6M391.7 88.5h0.6M382.4 61.9h0.6M395.6 65.5h0.6M382.3 78.5h0.6M378.3 66.6h0.6M396.9 83.0h0.6M385.3 73.9h0.6M395.0 97.4h0.6M394.4 58.2h0.6M382.5 45.3h0.6M383.8 80.0h0.6M381.1 69.7h0.6M395.9 89.3h0.6M395.6 60.3h0.6M383.9 89.7h0.6M379.0 67.6h0.6M392.3 60.8h0.6M381.6 50.8h0.6M392.9 51.4h0.6M382.7 62.3h0.6M380.1 55.7h0.6M382.2 63.6h0.6M396.2 70.1h0.6M382.0 80.4h0.6M381.0 61.5h0.6M384.9 58.6h0.6M393.6 44.8h0.6M383.8 54.7h0.6M384.9 90.2h0.6M381.7 97.0h0.6M398.0 60.6h0.6M382.9 80.8h0.6M394.1 83.2h0.6M381.1 84.8h0.6M385.5 86.8h0.6M397.2 69.1h0.6M394.3 60.6h0.6M392.1 45.2h0.6M391.3 52.3h0.6M382.4 93.7h0.6M386.7 77.9h0.6M393.9 81.5h0.6M372.8 52.5h0.6M381.1 84.1h0.6M393.0 56.6h0.6M394.3 92.1h0.6M390.3 97.8h0.6M382.7 67.5h0.6M384.0 84.4h0.6M392.0 55.5h0.6M392.0 67.9h0.6M375.8 95.5h0.6M391.0 90.4h0.6M394.4 58.0h0.6M383.5 93.3h0.6M385.4 86.2h0.6M385.1 64.3h0.6M390.9 91.1h0.6M394.0 53.3h0.6M396.2 93.4h0.6M392.7 54.7h0.6M380.5 87.0h0.6M380.4 78.6h0.6M394.7 44.9h0.6M393.8 89.5h0.6M396.6 95.4h0.6M381.5 56.9h0.6M383.7 54.6h0.6M381.0 82.6h0.6M393.0 70.2h0.6M391.4 93.4h0.6M396.5 87.4h0.6M382.7 69.0h0.6M393.1 62.9h0.6M392.2 95.0h0.6M393.0 52.9h0.6M394.6 56.0h0.6M393.8 68.4h0.6M376.0 45.2h0.6M392.8 66.1h0.6M383.7 68.2h0.6M381.7 60.4h0.6M392.6 74.8h0.6M385.6 51.2h0.6M384.1 96.0h0.6M382.5 70.8h0.6M398.7 47.6h0.6M393.9 47.9h0.6M391.2 88.3h0.6M392.7 57.4h0.6M397.3 80.2h0.6M382.4 88.8h0.6M383.4 68.0h0.6M391.8 81.5h0.6M383.9 51.7h0.6M392.7 94.0h0.6M384.9 55.4h0.6M392.3 59.7h0.6M396.3 72.9h0.6M383.8 69.0h0.6M385.2 73.8h0.6M380.5 58.2h0.6M382.9 75.6h0.6M393.8 93.3h0.6M383.6 74.3h0.6M379.0 55.5h0.6M384.6 95.2h0.6M383.9 63.9h0.6M396.1 76.8h0.6M393.7 48.5h0.6M393.6 84.5h0.6M391.7 76.2h0.6M382.9 49.0h0.6M392.7 63.0h0.6M377.2 53.6h0.6M384.4 76.3h0.6M390.8 57.1h0.6M383.4 85.7h0.6M393.0 91.9h0.6M379.7 62.7h0.6M394.5 69.5h0.6M384.6 55.6h0.6M394.8 79.4h0.6M379.2 97.5h0.6M400.9 62.6h0.6M392.5 87.2h0.6M393.2 68.2h0.6M394.4 76.6h0.6M393.2 93.6h0.6M381.1 62.8h0.6M396.5 90.8h0.6M392.4 70.3h0.6M390.1 51.9h0.6M381.4 85.2h0.6M382.5 88.4h0.6M380.1 79.1h0.6M386.6 89.0h0.6M384.2 75.4h0.6M392.5 61.0h0.6M391.1 50.5h0.6M392.1 56.3h0.6M391.7 88.5h0.6M379.4 96.6h0.6M397.7 82.1h0.6M391.4 83.6h0.6M383.3 63.1h0.6M392.9 82.5h0.6M388.4 57.4h0.6M378.7 62.0h0.6M382.5 46.8h0.6M390.8 97.2h0.6M392.8 45.8h0.6M392.5 66.1h0.6M377.2 79.1h0.6M377.4 53.9h0.6M392.3 59.8h0.6M382.6 52.9h0.6M383.6 64.2h0.6M384.1 55.7h0.6M393.8 81.9h0.6M384.0 50.3h0.6M392.4 52.5h0.6M393.2 96.1h0.6M395.8 84.8h0.6M383.8 64.1h0.6M391.7 88.9h0.6M382.0 60.5h0.6M393.6 59.9h0.6M381.9 87.5h0.6M382.4 62.2h0.6M393.9 83.0h0.6M394.3 90.5h0.6M395.3 88.3h0.6M385.5 90.0h0.6M397.4 53.7h0.6M392.6 68.8h0.6M394.5 92.7h0.6M379.8 46.8h0.6M382.3 72.6h0.6M379.8 61.5h0.6M381.5 72.6h0.6M381.1 74.9h0.6M396.3 71.6h0.6M379.6 78.2h0.6M394.4 60.3h0.6M381.9 56.6h0.6M384.3 55.0h0.6M392.2 91.1h0.6M396.6 64.6h0.6M393.6 67.4h0.6M384.5 76.3h0.6M380.4 86.5h0.6M393.1 51.2h0.6M382.2 57.0h0.6M394.4 62.0h0.6M387.4 73.7h0.6M401.7 58.3h0.6M377.4 55.6h0.6M381.1 58.2h0.6M391.8 58.0h0.6M383.5 61.2h0.6M385.2 59.4h0.6M393.1 59.3h0.6M394.3 64.7h0.6M392.1 48.0h0.6M397.0 53.8h0.6M399.1 56.3h0.6M394.3 55.5h0.6M388.0 59.5h0.6M393.0 95.3h0.6M397.9 53.7h0.6M392.6 84.3h0.6M383.7 61.8h0.6M383.9 62.0h0.6M381.7 68.0h0.6M383.5 51.2h0.6M384.9 65.6h0.6M386.7 61.9h0.6M378.1 87.9h0.6M395.5 75.4h0.6M384.8 69.3h0.6M381.9 81.2h0.6M392.7 53.5h0.6M395.6 71.1h0.6M381.4 86.8h0.6M383.2 70.4h0.6M381.1 45.0h0.6M393.3 56.3h0.6M384.0 60.6h0.6M383.4 90.2h0.6M394.3 61.5h0.6M381.2 57.9h0.6M383.8 51.4h0.6M393.8 62.1h0.6M380.6 62.0h0.6M380.5 88.4h0.6M379.9 67.2h0.6M385.3 67.0h0.6M384.3 97.0h0.6M383.5 87.5h0.6M392.4 46.4h0.6M382.4 82.0h0.6M384.2 58.6h0.6M397.7 78.2h0.6M379.6 52.6h0.6M393.9 89.0h0.6M382.7 68.5h0.6M394.5 88.8h0.6M393.5 62.0h0.6M383.0 89.7h0.6M395.0 92.1h0.6M391.7 90.7h0.6M392.2 47.2h0.6M382.3 44.6h0.6M392.0 91.8h0.6M379.7 68.9h0.6M383.0 47.0h0.6M378.5 68.8h0.6M393.4 58.7h0.6M391.2 62.5h0.6M385.8 59.2h0.6M381.6 45.5h0.6M381.6 50.8h0.6M380.9 89.7h0.6M379.1 60.6h0.6M392.7 79.2h0.6M393.1 64.2h0.6M376.6 87.2h0.6M379.8 57.9h0.6M391.8 55.5h0.6M383.1 89.3h0.6M384.3 65.7h0.6M384.3 44.6h0.6M395.6 92.0h0.6M380.8 56.4h0.6M392.3 47.1h0.6M391.1 57.1h0.6M383.9 49.5h0.6M383.5 94.0h0.6M393.7 73.4h0.6M383.2 59.0h0.6M397.2 58.4h0.6M383.9 46.5h0.6M391.3 53.3h0.6M394.0 47.3h0.6M381.0 56.8h0.6M392.4 55.5h0.6M396.1 67.1h0.6M392.8 63.0h0.6M397.3 79.8h0.6M379.3 69.0h0.6M397.8 84.2h0.6M381.9 72.1h0.6M384.0 91.3h0.6M381.6 64.3h0.6M380.1 60.5h0.6M378.1 62.2h0.6M396.3 71.4h0.6M383.2 59.5h0.6M392.1 95.0h0.6M396.7 96.9h0.6M379.4 81.1h0.6M378.7 66.3h0.6M392.3 78.8h0.6M381.5 66.1h0.6M395.3 73.3h0.6M380.3 46.7h0.6M395.5 61.9h0.6M385.6 73.2h0.6M379.2 86.9h0.6M381.8 97.5h0.6M384.4 92.9h0.6M379.4 63.5h0.6M395.2 77.6h0.6M383.7 72.2h0.6M383.7 44.6h0.6M382.3 94.1h0.6M394.4 90.0h0.6M392.5 55.2h0.6M383.1 81.0h0.6M385.6 51.2h0.6M391.0 60.4h0.6M383.6 93.0h0.6M391.6 96.9h0.6M391.3 76.3h0.6M386.5 89.7h0.6M385.2 78.0h0.6M382.1 47.5h0.6M391.9 57.4h0.6M392.8 76.8h0.6M382.4 44.8h0.6M380.2 60.9h0.6M382.4 81.9h0.6M391.1 80.9h0.6M379.5 55.7h0.6M396.9 78.5h0.6M394.0 96.1h0.6M397.0 84.8h0.6M383.5 58.1h0.6M380.9 51.6h0.6M391.8 44.6h0.6M398.0 79.2h0.6M382.5 68.8h0.6M394.4 81.8h0.6M392.7 54.9h0.6M391.9 72.0h0.6M385.2 73.0h0.6M395.5 83.6h0.6M395.0 64.0h0.6M383.7 86.4h0.6M380.3 68.6h0.6M392.5 89.8h0.6M384.5 55.4h0.6M379.9 96.2h0.6M391.9 68.7h0.6M390.5 71.5h0.6M384.9 85.8h0.6M394.5 52.3h0.6M390.1 64.5h0.6M395.3 88.1h0.6M391.4 88.3h0.6M394.3 92.4h0.6M391.7 61.6h0.6M395.9 56.6h0.6M395.0 55.6h0.6M388.6 57.5h0.6M394.1 46.3h0.6M397.5 53.6h0.6M392.9 76.1h0.6M393.4 49.6h0.6M385.1 87.0h0.6M386.2 70.6h0.6M383.4 60.1h0.6M392.8 64.9h0.6M389.7 66.3h0.6M393.5 88.9h0.6M375.1 66.0h0.6M382.0 95.6h0.6M394.1 70.0h0.6M384.7 60.4h0.6M396.9 57.5h0.6M392.1 70.9h0.6M393.7 60.8h0.6M385.3 67.7h0.6M384.9 76.7h0.6M393.4 86.6h0.6M383.7 79.4h0.6M383.1 80.5h0.6M383.4 70.8h0.6M378.7 85.6h0.6M383.9 89.2h0.6M390.6 97.0h0.6M382.9 96.2h0.6M397.0 73.5h0.6M381.2 73.9h0.6M380.9 47.8h0.6M394.8 62.4h0.6M381.6 87.2h0.6M386.8 77.7h0.6M392.1 67.0h0.6M391.4 62.3h0.6M382.3 56.9h0.6M378.4 54.2h0.6M387.0 77.5h0.6M395.4 48.8h0.6M376.4 77.6h0.6M395.0 87.5h0.6M378.6 89.5h0.6M391.6 65.9h0.6M396.0 45.1h0.6M390.2 51.0h0.6M382.6 97.8h0.6M380.9 66.9h0.6M394.2 95.5h0.6M382.2 68.9h0.6M382.5 78.8h0.6M393.5 47.4h0.6M397.2 88.1h0.6M383.9 69.5h0.6M383.5 58.3h0.6M394.6 95.8h0.6M391.8 83.8h0.6M379.7 46.0h0.6M379.7 44.6h0.6M381.4 75.9h0.6M392.7 82.2h0.6M379.8 55.4h0.6M381.4 51.9h0.6M395.2 53.4h0.6M383.8 78.4h0.6M381.3 77.7h0.6M394.7 84.3h0.6M392.4 52.9h0.6M381.5 73.3h0.6M379.9 84.5h0.6M380.3 55.2h0.6M393.1 51.6h0.6M384.9 55.3h0.6M395.1 59.6h0.6M394.7 97.7h0.6M395.7 67.3h0.6M395.4 45.2h0.6M390.4 71.9h0.6M382.0 77.2h0.6M380.6 76.2h0.6M381.2 80.6h0.6M394.6 65.3h0.6M395.9 81.2h0.6M391.0 74.9h0.6M383.2 73.0h0.6M387.1 44.9h0.6M383.9 86.3h0.6M397.2 63.5h0.6M382.7 63.4h0.6M379.5 69.7h0.6M395.0 91.7h0.6M393.5 71.4h0.6M392.3 90.1h0.6M384.8 92.9h0.6M395.6 80.5h0.6M397.1 78.1h0.6M393.3 84.7h0.6M391.5 61.9h0.6M384.7 74.6h0.6M394.3 57.3h0.6M375.4 68.5h0.6M392.9 59.8h0.6M391.1 89.9h0.6M382.0 92.4h0.6M384.0 66.4h0.6M395.1 56.8h0.6M391.7 76.8h0.6M393.8 68.7h0.6M392.0 82.4h0.6M395.9 78.3h0.6M379.0 61.3h0.6M375.1 72.9h0.6M381.7 46.0h0.6M383.9 44.7h0.6M384.7 88.8h0.6M392.2 53.7h0.6M382.9 82.5h0.6M393.0 64.2h0.6M395.2 66.2h0.6M382.9 80.0h0.6M391.7 80.6h0.6M393.0 84.4h0.6M392.5 50.8h0.6M378.1 49.7h0.6M397.7 95.8h0.6M393.4 95.0h0.6M391.6 63.1h0.6M378.1 48.5h0.6M393.9 88.4h0.6M383.1 69.9h0.6M393.0 56.3h0.6M395.0 77.2h0.6M376.8 73.9h0.6M382.5 90.8h0.6M383.4 67.4h0.6M383.2 53.8h0.6M382.7 87.4h0.6M396.0 76.0h0.6M384.1 74.7h0.6M378.7 55.6h0.6M380.6 61.8h0.6M397.4 95.2h0.6M391.0 57.3h0.6M382.1 74.6h0.6M394.0 92.9h0.6M386.7 89.5h0.6M383.3 59.0h0.6M381.5 52.6h0.6M381.8 74.9h0.6M394.9 97.1h0.6M385.0 73.1h0.6M387.7 59.2h0.6M378.8 81.6h0.6M392.3 50.4h0.6M381.7 88.0h0.6M390.4 64.4h0.6M384.4 75.7h0.6M391.5 75.6h0.6M392.9 49.4h0.6M384.6 44.9h0.6M394.1 70.4h0.6M394.5 66.3h0.6M381.1 67.6h0.6M380.6 79.6h0.6M382.3 54.6h0.6M380.5 81.8h0.6M391.2 80.2h0.6M394.7 87.3h0.6M392.2 96.2h0.6M383.9 94.0h0.6M393.0 74.6h0.6M383.5 44.8h0.6M381.5 72.6h0.6M392.2 57.0h0.6M395.5 80.0h0.6M393.0 64.2h0.6M395.4 57.4h0.6M382.3 47.1h0.6M384.8 92.4h0.6M383.1 67.0h0.6M380.3 86.1h0.6M381.2 64.3h0.6M380.6 57.0h0.6M379.4 85.0h0.6M379.4 50.2h0.6M382.5 52.5h0.6M384.5 68.8h0.6M399.2 48.9h0.6M392.2 56.5h0.6M382.6 57.2h0.6M395.2 49.5h0.6M393.5 49.2h0.6M380.5 77.1h0.6M379.9 54.8h0.6M379.4 79.4h0.6M386.4 94.1h0.6M392.7 83.8h0.6M382.0 63.2h0.6M393.1 63.4h0.6M382.9 80.8h0.6M396.9 90.9h0.6M381.6 86.4h0.6M390.3 51.6h0.6M383.1 85.2h0.6M399.3 83.6h0.6M393.7 88.8h0.6M382.9 77.0h0.6M391.6 53.4h0.6M380.5 94.2h0.6M386.3 70.8h0.6M386.0 90.0h0.6M382.5 64.6h0.6M388.5 68.7h0.6M383.7 63.1h0.6M394.0 69.7h0.6M383.8 67.8h0.6M393.2 61.4h0.6M384.0 79.0h0.6M383.0 60.7h0.6M385.7 90.7h0.6M394.4 63.4h0.6M393.9 58.9h0.6M394.6 70.4h0.6M394.9 60.2h0.6M379.2 57.5h0.6M395.0 74.1h0.6M381.9 48.9h0.6M387.4 49.8h0.6M392.1 87.5h0.6M394.8 56.8h0.6M386.4 68.2h0.6M391.7 91.4h0.6M394.5 60.7h0.6M380.9 73.3h0.6M381.7 63.4h0.6M384.7 73.1h0.6M377.5 48.6h0.6M393.0 54.1h0.6M382.6 62.2h0.6M391.4 55.2h0.6M377.9 68.7h0.6M394.0 93.8h0.6M390.9 74.5h0.6M381.5 51.8h0.6M387.6 59.3h0.6M394.0 80.9h0.6M382.6 46.5h0.6M392.1 96.3h0.6M382.6 75.2h0.6M382.3 93.6h0.6M381.3 53.7h0.6M393.4 63.7h0.6M385.3 72.6h0.6M381.8 94.7h0.6M383.3 91.4h0.6M384.8 90.2h0.6M383.1 46.5h0.6M380.5 58.0h0.6M384.6 90.8h0.6M384.1 97.4h0.6M394.6 59.2h0.6M385.1 77.1h0.6M383.0 87.8h0.6M382.0 66.4h0.6M378.6 92.3h0.6M382.3 92.2h0.6M395.3 45.2h0.6M379.0 55.4h0.6M390.9 71.2h0.6M398.1 51.0h0.6M385.9 86.6h0.6M383.2 59.7h0.6M392.5 89.1h0.6M381.2 57.0h0.6M387.4 49.5h0.6M392.2 65.2h0.6M395.8 62.4h0.6M384.9 69.7h0.6M383.7 67.6h0.6M394.5 55.6h0.6M381.0 74.7h0.6M385.6 51.7h0.6M384.5 98.0h0.6M380.3 74.6h0.6M397.0 90.8h0.6M384.4 54.0h0.6M392.3 74.7h0.6M384.2 73.1h0.6M383.0 46.0h0.6M391.5 89.6h0.6M390.2 71.0h0.6M391.4 96.3h0.6M391.0 45.0h0.6M379.4 86.7h0.6M395.7 49.4h0.6M391.0 80.6h0.6M393.6 68.0h0.6M381.1 47.1h0.6M393.9 87.7h0.6M394.0 70.0h0.6M394.9 96.8h0.6M395.3 91.6h0.6M383.7 93.8h0.6M393.9 86.7h0.6M383.2 82.8h0.6M392.0 96.9h0.6M383.9 50.8h0.6M394.2 81.8h0.6M381.4 67.8h0.6M385.3 87.0h0.6M395.5 86.8h0.6M391.0 80.7h0.6M399.5 74.5h0.6M378.8 85.7h0.6M380.1 79.1h0.6M381.8 96.8h0.6M383.9 84.5h0.6M383.1 87.6h0.6M395.9 83.2h0.6M394.7 57.6h0.6M382.0 86.6h0.6M392.9 65.0h0.6M392.5 69.1h0.6M378.8 61.2h0.6M382.0 74.5h0.6M393.4 77.9h0.6M392.4 62.0h0.6M383.6 46.2h0.6M393.2 92.8h0.6M393.2 97.7h0.6M392.8 85.9h0.6M392.6 95.0h0.6M395.4 54.6h0.6M390.2 60.4h0.6M393.9 95.1h0.6M393.4 95.4h0.6M385.9 51.0h0.6M388.3 72.8h0.6M395.3 75.9h0.6M397.5 83.9h0.6M381.6 96.4h0.6M391.2 63.8h0.6M382.5 85.0h0.6M394.1 76.4h0.6M392.3 64.6h0.6M394.9 68.0h0.6M397.4 90.9h0.6M392.2 68.3h0.6M392.8 91.9h0.6M394.9 65.1h0.6M394.1 70.0h0.6M385.9 90.9h0.6M392.4 63.5h0.6M402.1 59.4h0.6M394.9 95.7h0.6M393.9 59.2h0.6M382.1 88.9h0.6M392.6 55.9h0.6M392.1 64.1h0.6M390.0 74.8h0.6M380.8 88.3h0.6M381.1 45.0h0.6M383.4 50.2h0.6M391.7 74.1h0.6M385.3 82.6h0.6M382.6 49.3h0.6M379.1 59.3h0.6M392.2 65.5h0.6M381.1 50.8h0.6M392.6 90.5h0.6M383.7 53.2h0.6M377.8 52.1h0.6M383.7 64.1h0.6M382.3 46.1h0.6M382.3 48.9h0.6M381.8 70.1h0.6M385.2 64.7h0.6M391.4 91.7h0.6M383.0 63.6h0.6M393.3 60.8h0.6M384.9 44.7h0.6M382.6 90.8h0.6M377.9 56.5h0.6M393.7 70.7h0.6M381.8 60.6h0.6M391.8 59.7h0.6M383.5 94.8h0.6M382.2 87.7h0.6M391.1 96.5h0.6M396.8 50.7h0.6M382.9 70.0h0.6M382.0 81.2h0.6M391.3 91.0h0.6M389.3 66.4h0.6M378.4 69.3h0.6M392.5 45.4h0.6M377.9 57.3h0.6M395.8 61.6h0.6M381.6 80.1h0.6M382.8 63.0h0.6M379.4 48.0h0.6M382.8 78.3h0.6M378.2 63.5h0.6M395.9 93.1h0.6M396.7 92.4h0.6M381.1 45.6h0.6M393.0 94.6h0.6M386.9 90.6h0.6M393.5 94.3h0.6M381.6 54.5h0.6M398.7 81.2h0.6M393.3 84.2h0.6M379.7 55.3h0.6M383.3 78.4h0.6M393.7 86.7h0.6M396.3 74.5h0.6M388.2 57.6h0.6M381.7 73.8h0.6M383.2 69.0h0.6M383.4 58.0h0.6M376.0 55.4h0.6M392.3 87.8h0.6M392.4 81.3h0.6M381.8 56.3h0.6M382.7 64.9h0.6M382.9 66.4h0.6M394.3 79.6h0.6M402.2 47.4h0.6M387.8 49.7h0.6M382.3 90.1h0.6M390.3 51.8h0.6M383.9 91.1h0.6M386.0 73.4h0.6M383.0 45.2h0.6M382.0 89.5h0.6M374.6 45.0h0.6M382.9 64.0h0.6M385.9 88.0h0.6M391.7 87.3h0.6M382.0 94.1h0.6M379.5 44.8h0.6M393.2 84.5h0.6M382.1 48.4h0.6M376.5 49.2h0.6M394.3 87.6h0.6M393.4 82.1h0.6M399.9 51.9h0.6M383.3 80.2h0.6M393.5 85.6h0.6M381.4 89.7h0.6M383.1 64.1h0.6M382.0 81.0h0.6M393.7 46.9h0.6M382.9 73.4h0.6M392.1 83.7h0.6M386.4 70.2h0.6M382.1 84.4h0.6M378.8 94.8h0.6M382.5 84.4h0.6M381.5 78.8h0.6M382.0 59.1h0.6M381.0 54.1h0.6M382.7 94.6h0.6M391.2 52.9h0.6M391.8 44.7h0.6M384.9 85.2h0.6M384.0 69.3h0.6M392.2 81.1h0.6M386.8 90.4h0.6M394.9 92.0h0.6M394.4 92.9h0.6M384.2 54.0h0.6M393.7 64.2h0.6M382.0 74.2h0.6M381.6 89.4h0.6M381.6 59.5h0.6M379.0 64.2h0.6M391.8 55.1h0.6M385.0 94.6h0.6M392.7 86.9h0.6M380.2 63.9h0.6M383.8 97.0h0.6M393.9 81.8h0.6M383.6 75.7h0.6M392.6 86.1h0.6M391.8 45.5h0.6M383.6 63.6h0.6M395.9 47.7h0.6M394.2 55.4h0.6M396.2 70.5h0.6M395.4 94.7h0.6M385.7 88.8h0.6M400.4 75.0h0.6M382.5 80.4h0.6M378.5 57.9h0.6M381.2 55.6h0.6M380.6 93.1h0.6M383.7 92.7h0.6M393.8 94.5h0.6M392.2 45.3h0.6M392.5 62.0h0.6M399.8 69.4h0.6M384.3 66.5h0.6M394.5 50.6h0.6M380.6 72.5h0.6M384.1 92.7h0.6M384.9 85.2h0.6M380.2 52.7h0.6M380.6 84.6h0.6M394.2 89.6h0.6M392.3 54.7h0.6M395.1 73.7h0.6M390.6 91.4h0.6M383.7 82.3h0.6M396.3 64.0h0.6M384.3 55.1h0.6M392.0 82.5h0.6M380.1 50.7h0.6M395.1 77.8h0.6M392.7 51.5h0.6M394.3 83.4h0.6M383.1 58.9h0.6M391.9 75.9h0.6M396.1 53.1h0.6M383.4 49.2h0.6M381.7 44.9h0.6M398.7 70.4h0.6M393.2 44.8h0.6M394.4 89.6h0.6M394.6 74.9h0.6M394.8 70.3h0.6M392.2 56.0h0.6M394.4 91.2h0.6M383.2 67.4h0.6M380.8 53.9h0.6M396.7 72.6h0.6M383.6 73.0h0.6M397.3 81.8h0.6M385.0 58.1h0.6M384.2 92.9h0.6M392.9 49.8h0.6M393.1 97.7h0.6M384.8 58.6h0.6M394.5 65.6h0.6M381.1 75.2h0.6M394.9 65.1h0.6M397.2 91.1h0.6M382.1 69.1h0.6M394.3 45.5h0.6M393.2 83.2h0.6M390.7 56.5h0.6M392.9 85.5h0.6M384.9 66.7h0.6M383.3 89.9h0.6M398.6 63.0h0.6M383.8 94.3h0.6M394.2 90.8h0.6M382.4 61.9h0.6M392.5 76.3h0.6M394.5 82.4h0.6M386.2 78.0h0.6M397.3 49.3h0.6M377.7 95.1h0.6M396.2 80.0h0.6M391.2 63.0h0.6M381.9 86.5h0.6M396.4 73.0h0.6M383.9 84.1h0.6M379.2 49.8h0.6M384.3 88.1h0.6M388.9 51.8h0.6M394.7 89.8h0.6M396.8 69.9h0.6M386.6 90.9h0.6M391.3 83.4h0.6M378.6 69.5h0.6M395.7 83.4h0.6M393.9 88.5h0.6M392.2 46.4h0.6M391.2 57.3h0.6M379.9 78.8h0.6M381.4 60.5h0.6M390.5 60.1h0.6M380.0 50.3h0.6M378.4 49.1h0.6M380.9 82.0h0.6M392.5 61.8h0.6M397.3 49.3h0.6M391.3 65.6h0.6M382.6 81.5h0.6M392.7 64.9h0.6M378.7 56.9h0.6M392.4 47.4h0.6M383.7 78.6h0.6M380.7 57.4h0.6M386.1 68.2h0.6M391.5 87.1h0.6M393.1 92.6h0.6M384.9 60.3h0.6M381.1 60.4h0.6M381.3 54.9h0.6M381.9 74.8h0.6M381.9 48.0h0.6M383.6 84.4h0.6M379.9 44.9h0.6M387.6 49.1h0.6M381.1 49.7h0.6M393.7 87.3h0.6M383.9 95.1h0.6M381.3 76.4h0.6M383.6 87.5h0.6M390.2 92.0h0.6M390.7 60.7h0.6M394.3 67.7h0.6M395.3 51.1h0.6M394.3 55.9h0.6M381.9 76.4h0.6M395.5 47.6h0.6M393.6 57.1h0.6M391.8 91.2h0.6M391.9 80.4h0.6M395.0 88.1h0.6M383.2 95.1h0.6M381.6 57.8h0.6M393.7 82.3h0.6M378.8 62.1h0.6M393.5 89.7h0.6M383.4 72.1h0.6M392.6 92.0h0.6M394.1 66.8h0.6M393.8 53.2h0.6M395.8 75.3h0.6M381.6 77.7h0.6M380.1 60.0h0.6M381.9 82.1h0.6M394.0 57.1h0.6M381.2 54.6h0.6M394.5 84.7h0.6M382.1 86.1h0.6M383.9 49.6h0.6M383.8 86.0h0.6M378.4 53.7h0.6M392.2 80.4h0.6M404.6 71.1h0.6M395.8 87.7h0.6M392.6 79.4h0.6M382.5 85.4h0.6M396.4 82.8h0.6M385.3 51.4h0.6M383.5 93.4h0.6M399.6 63.0h0.6M385.8 59.5h0.6M395.5 88.1h0.6M379.9 90.3h0.6M381.3 48.3h0.6M380.4 64.0h0.6M386.0 67.3h0.6M383.8 53.6h0.6M396.2 76.2h0.6M381.3 91.5h0.6M393.4 70.3h0.6M393.7 62.7h0.6M384.4 95.4h0.6M391.8 75.9h0.6M391.2 90.2h0.6M388.7 69.0h0.6M393.0 56.2h0.6M381.9 91.7h0.6M392.0 55.6h0.6M398.8 50.3h0.6M395.2 55.4h0.6M379.6 49.9h0.6M382.7 92.2h0.6M399.3 68.4h0.6M383.6 79.7h0.6M388.3 57.5h0.6M381.8 61.9h0.6M397.4 81.9h0.6M379.1 96.3h0.6M393.2 82.4h0.6M390.4 91.9h0.6M381.9 47.3h0.6M385.3 77.8h0.6M383.3 53.7h0.6M392.1 93.8h0.6M388.0 68.3h0.6M395.8 57.6h0.6M393.7 92.2h0.6M382.0 79.7h0.6M396.0 79.5h0.6M392.5 51.4h0.6M392.3 79.9h0.6M380.8 50.3h0.6M390.7 74.2h0.6M392.0 56.0h0.6M385.4 72.1h0.6M383.8 86.9h0.6M374.4 52.9h0.6M393.4 67.1h0.6M394.6 67.2h0.6M379.9 56.8h0.6M392.8 55.0h0.6M391.9 48.9h0.6M392.4 91.3h0.6M384.1 68.5h0.6M392.3 48.0h0.6M392.1 96.7h0.6M382.1 75.8h0.6M383.9 49.2h0.6M394.6 61.9h0.6M399.0 69.7h0.6M383.4 51.8h0.6M386.0 64.1h0.6M394.3 52.8h0.6M383.7 74.6h0.6M394.1 45.2h0.6M396.0 81.5h0.6M380.4 80.4h0.6M395.5 72.8h0.6M379.1 73.0h0.6M391.6 81.6h0.6M381.3 72.9h0.6M386.0 94.6h0.6M391.8 90.8h0.6M383.5 60.5h0.6M390.8 64.6h0.6M382.3 93.6h0.6M393.3 59.2h0.6M380.9 79.9h0.6M386.6 70.6h0.6M392.7 67.3h0.6M396.7 49.0h0.6M385.7 73.5h0.6M379.2 60.0h0.6M380.0 72.1h0.6M377.1 70.3h0.6M382.1 86.4h0.6M381.7 53.8h0.6M379.3 48.8h0.6M383.8 87.0h0.6M391.3 60.2h0.6M382.2 47.3h0.6M382.8 49.2h0.6M376.2 72.1h0.6M393.7 79.3h0.6M383.8 44.9h0.6M396.2 92.3h0.6M390.5 56.4h0.6M383.8 92.7h0.6M382.3 92.9h0.6M383.1 85.4h0.6M385.0 68.3h0.6M382.4 86.5h0.6M380.7 71.7h0.6M392.0 66.0h0.6M393.0 83.6h0.6M382.7 97.1h0.6M396.1 77.8h0.6M385.0 66.7h0.6M390.4 64.9h0.6M392.5 50.3h0.6M393.1 56.1h0.6M385.0 88.6h0.6M393.1 60.7h0.6M380.5 46.0h0.6M378.9 73.6h0.6M395.9 55.1h0.6M395.0 90.8h0.6M391.9 45.5h0.6M383.7 50.5h0.6M390.8 60.9h0.6M382.4 56.5h0.6M388.5 68.3h0.6M395.6 52.0h0.6M382.3 85.0h0.6M381.0 55.2h0.6M383.3 84.6h0.6M384.3 85.9h0.6M392.1 82.4h0.6M394.6 63.1h0.6M394.4 49.3h0.6M384.0 58.2h0.6M382.8 47.6h0.6M381.0 50.8h0.6M391.7 56.1h0.6M380.9 75.9h0.6M390.6 74.1h0.6M386.0 59.6h0.6M383.5 92.6h0.6M383.8 79.6h0.6M383.8 97.1h0.6M382.3 94.3h0.6M382.2 64.8h0.6M398.7 54.9h0.6M383.5 82.3h0.6M391.5 90.4h0.6M383.9 84.3h0.6M392.5 59.9h0.6M382.1 72.6h0.6M381.8 92.5h0.6M393.7 49.8h0.6M391.2 72.9h0.6M378.5 51.6h0.6M393.8 81.1h0.6M393.5 80.9h0.6M392.0 75.8h0.6M392.1 60.3h0.6M383.1 82.6h0.6M392.6 51.5h0.6M381.6 94.7h0.6M378.7 49.5h0.6M380.2 75.8h0.6M378.4 52.6h0.6M381.3 56.6h0.6M393.0 89.9h0.6M392.7 79.7h0.6M378.4 86.5h0.6M384.0 85.5h0.6M395.2 77.6h0.6M384.5 74.5h0.6M395.7 66.3h0.6M394.1 53.7h0.6M378.1 65.3h0.6M394.1 63.9h0.6M383.0 70.3h0.6M391.5 87.1h0.6M380.4 48.5h0.6M380.2 54.1h0.6M395.7 73.2h0.6M384.6 88.1h0.6M381.9 70.8h0.6M397.2 92.6h0.6M379.0 49.0h0.6M383.0 95.5h0.6M384.7 74.9h0.6M382.0 82.8h0.6M380.2 49.8h0.6M383.6 79.4h0.6M378.7 48.1h0.6M382.3 49.2h0.6M392.1 61.2h0.6M379.4 58.4h0.6M381.0 86.5h0.6M379.4 85.4h0.6M393.2 95.4h0.6M391.4 93.2h0.6M395.1 50.6h0.6M379.6 85.7h0.6M386.9 94.8h0.6M394.4 64.5h0.6M392.2 79.5h0.6M391.1 45.9h0.6M395.4 84.5h0.6M382.6 72.8h0.6M381.7 49.0h0.6M390.4 57.7h0.6M383.1 65.1h0.6M394.7 63.0h0.6M395.3 57.6h0.6M382.7 49.7h0.6M382.8 55.0h0.6M394.3 90.8h0.6M381.4 45.9h0.6M382.4 67.6h0.6M381.4 63.7h0.6M379.3 52.7h0.6M376.6 58.5h0.6M376.7 79.6h0.6M381.9 86.0h0.6M382.2 54.1h0.6M392.7 93.8h0.6M383.4 64.7h0.6M381.1 89.8h0.6M397.6 76.7h0.6M396.1 48.7h0.6M397.7 63.9h0.6M394.5 65.3h0.6M394.4 74.6h0.6M382.6 66.3h0.6M392.5 80.3h0.6M381.5 93.0h0.6M392.2 57.5h0.6M387.2 44.5h0.6M396.4 86.7h0.6M386.2 77.5h0.6M391.3 62.2h0.6M382.8 63.0h0.6M381.1 79.6h0.6M395.8 69.8h0.6M398.2 76.4h0.6M393.9 88.6h0.6M385.6 59.6h0.6M391.9 89.0h0.6M382.9 64.0h0.6M383.9 75.9h0.6M384.3 73.9h0.6M394.0 88.5h0.6M383.3 65.1h0.6M388.1 72.5h0.6M393.1 85.7h0.6M392.1 53.0h0.6M384.8 88.8h0.6M379.1 94.9h0.6M396.6 93.4h0.6M382.4 56.3h0.6M391.8 56.3h0.6M395.8 48.8h0.6M394.5 77.0h0.6M382.8 60.8h0.6M383.3 69.0h0.6M392.1 63.8h0.6M384.5 56.5h0.6M385.2 82.7h0.6M380.6 63.7h0.6M391.6 65.2h0.6M391.9 52.5h0.6M386.9 89.3h0.6M393.2 62.1h0.6M383.8 93.8h0.6M381.4 84.9h0.6M395.5 81.1h0.6M391.5 59.4h0.6M396.6 56.2h0.6M398.9 57.5h0.6M392.0 86.8h0.6M391.0 93.3h0.6M391.3 76.5h0.6M391.9 67.0h0.6M392.1 93.1h0.6M396.8 71.4h0.6M378.1 58.3h0.6M386.0 89.0h0.6M392.5 95.9h0.6M385.8 82.7h0.6M392.9 51.4h0.6M392.1 91.5h0.6M383.7 92.7h0.6M388.9 57.7h0.6M381.4 65.1h0.6M390.3 57.5h0.6M395.3 56.6h0.6M395.2 96.8h0.6M382.8 56.4h0.6M381.9 52.1h0.6M383.7 80.3h0.6M392.5 47.7h0.6M386.6 61.1h0.6M383.6 51.2h0.6M379.7 69.3h0.6M381.6 61.4h0.6M391.2 68.1h0.6M393.4 79.3h0.6M390.0 56.3h0.6M385.2 51.7h0.6M383.4 78.8h0.6M391.1 74.1h0.6M390.4 56.4h0.6M381.9 90.5h0.6M391.7 68.7h0.6M381.1 77.3h0.6M382.9 46.5h0.6M380.7 57.4h0.6M393.0 61.4h0.6M393.2 61.2h0.6M386.9 70.1h0.6M390.2 64.6h0.6M394.8 62.8h0.6M391.1 83.2h0.6M381.2 68.1h0.6M385.7 72.2h0.6M393.0 62.8h0.6M387.7 49.8h0.6M395.7 71.0h0.6M387.8 59.9h0.6M386.5 70.6h0.6M393.3 74.8h0.6M394.2 57.4h0.6M377.8 60.9h0.6M392.4 62.9h0.6M394.2 96.3h0.6M384.4 60.6h0.6M378.4 89.4h0.6M378.3 50.1h0.6M392.0 87.4h0.6M382.2 45.9h0.6M383.6 63.2h0.6M381.8 63.1h0.6M380.9 72.8h0.6M385.8 73.7h0.6M396.6 64.1h0.6M391.4 59.4h0.6M384.9 56.6h0.6M392.6 57.2h0.6M388.5 51.7h0.6M392.1 79.6h0.6M393.3 80.9h0.6M383.3 78.7h0.6M379.0 52.7h0.6M392.3 52.5h0.6M396.0 62.2h0.6M394.3 78.9h0.6M393.8 86.5h0.6M382.8 79.8h0.6M395.8 64.6h0.6M394.5 45.6h0.6M389.2 66.2h0.6M377.2 56.2h0.6M393.7 71.5h0.6M390.2 71.8h0.6M381.0 49.2h0.6M381.2 82.3h0.6M383.7 90.8h0.6M393.4 94.5h0.6M380.2 77.0h0.6M383.4 58.8h0.6M392.1 53.0h0.6M381.1 51.8h0.6M396.5 62.0h0.6M392.4 52.4h0.6M382.3 57.6h0.6M385.4 88.4h0.6M390.4 91.1h0.6M383.5 89.3h0.6M393.5 60.6h0.6M380.2 77.1h0.6M380.4 87.0h0.6M380.7 73.7h0.6M384.6 44.5h0.6M389.0 68.8h0.6M392.8 45.5h0.6M377.1 80.1h0.6M384.0 75.7h0.6M395.4 82.1h0.6M383.4 53.0h0.6M396.7 81.2h0.6M396.6 45.6h0.6M392.4 57.8h0.6M395.7 90.8h0.6M392.4 67.5h0.6M384.6 58.9h0.6M395.5 50.8h0.6M394.4 75.9h0.6M393.2 50.9h0.6M392.1 84.7h0.6M383.2 94.8h0.6M381.9 91.1h0.6M381.6 89.7h0.6M377.5 70.4h0.6M393.2 91.8h0.6M391.3 59.3h0.6M397.7 47.6h0.6M392.8 67.3h0.6M392.6 85.7h0.6M383.2 75.2h0.6M381.6 49.7h0.6M381.2 95.2h0.6M393.4 45.8h0.6M394.5 51.4h0.6M392.0 87.8h0.6M386.2 89.6h0.6M377.9 52.0h0.6M393.3 59.4h0.6M392.1 93.1h0.6M392.4 59.8h0.6M393.5 73.2h0.6M391.9 96.5h0.6M387.9 73.2h0.6M380.8 91.2h0.6M392.6 80.9h0.6M392.9 62.7h0.6M391.5 76.4h0.6M381.2 73.4h0.6M391.3 66.1h0.6M392.1 87.5h0.6M390.1 51.4h0.6M381.2 52.2h0.6M379.2 77.7h0.6M394.4 84.8h0.6M392.9 51.9h0.6M392.9 81.8h0.6M392.3 78.7h0.6M380.7 83.3h0.6M393.0 71.7h0.6M391.7 50.8h0.6M392.2 63.0h0.6M396.1 72.9h0.6M393.1 62.5h0.6M382.5 52.7h0.6M391.3 45.2h0.6M390.3 60.3h0.6M380.8 49.9h0.6M395.8 65.6h0.6M385.1 67.5h0.6M392.0 87.5h0.6M379.6 56.6h0.6M382.4 87.5h0.6M399.1 63.9h0.6M376.9 51.5h0.6M390.2 57.7h0.6M381.3 73.3h0.6M394.6 61.0h0.6M385.7 59.6h0.6M393.1 57.5h0.6M383.0 82.5h0.6M397.7 74.4h0.6M382.6 66.8h0.6M385.1 86.9h0.6M381.6 50.0h0.6M381.1 78.5h0.6M396.5 59.4h0.6M395.0 97.2h0.6M383.2 90.3h0.6M382.0 46.5h0.6M381.4 92.5h0.6M384.3 69.5h0.6M396.0 74.6h0.6M392.5 70.3h0.6M395.5 87.2h0.6M380.2 85.8h0.6M384.6 66.3h0.6M396.5 51.0h0.6M394.8 52.2h0.6M387.0 68.7h0.6M393.0 81.8h0.6M392.5 87.7h0.6M392.1 60.8h0.6M382.1 75.9h0.6M381.9 68.7h0.6M389.5 66.7h0.6M393.0 78.0h0.6M396.2 49.5h0.6M392.9 72.6h0.6M391.5 83.5h0.6M384.5 74.8h0.6M383.5 68.4h0.6M383.8 44.6h0.6M392.1 66.8h0.6M391.3 91.3h0.6M391.5 93.3h0.6M384.1 66.5h0.6M379.6 69.4h0.6M383.9 54.2h0.6M393.7 80.0h0.6M381.6 51.1h0.6M380.1 62.3h0.6M383.1 91.2h0.6M395.4 75.2h0.6M382.5 79.9h0.6M382.4 74.8h0.6M376.8 87.4h0.6M377.9 93.8h0.6M394.0 91.3h0.6M383.0 60.6h0.6M381.7 49.9h0.6M381.3 66.9h0.6M379.7 52.8h0.6M379.9 52.0h0.6M376.3 81.6h0.6M393.9 85.3h0.6M383.9 50.3h0.6M382.3 52.6h0.6M378.5 53.9h0.6M380.0 89.9h0.6M386.4 90.8h0.6M393.7 79.9h0.6M380.6 79.7h0.6M393.1 77.5h0.6M395.5 78.0h0.6M384.9 68.9h0.6M397.7 68.5h0.6M376.6 47.0h0.6M382.2 56.3h0.6M382.1 80.7h0.6M388.5 51.5h0.6M391.3 53.8h0.6M383.5 44.6h0.6M393.0 52.6h0.6M380.8 47.3h0.6M392.0 61.6h0.6M390.2 74.6h0.6M396.2 47.3h0.6M384.9 69.0h0.6M398.0 86.0h0.6M383.9 61.2h0.6M393.6 51.6h0.6M381.9 65.6h0.6M384.6 74.9h0.6M394.1 82.8h0.6M391.4 93.9h0.6M384.3 56.9h0.6M386.0 61.5h0.6M394.0 58.6h0.6M384.0 69.2h0.6M384.2 95.8h0.6M383.0 84.6h0.6M385.1 90.3h0.6M381.7 82.1h0.6M384.4 68.7h0.6M392.6 64.4h0.6M383.1 73.0h0.6M387.0 44.7h0.6M380.9 84.5h0.6M395.4 87.3h0.6M395.2 49.6h0.6M381.5 86.3h0.6M384.8 57.0h0.6M383.6 65.4h0.6M394.7 82.5h0.6M380.5 61.1h0.6M379.1 46.8h0.6M377.4 72.9h0.6M398.7 63.9h0.6M387.6 73.7h0.6M395.0 56.3h0.6M380.8 83.8h0.6M379.0 64.3h0.6M395.5 57.8h0.6M391.1 87.6h0.6M391.1 63.4h0.6M383.3 61.1h0.6M392.2 54.2h0.6M383.9 78.7h0.6M394.8 93.3h0.6M392.9 83.6h0.6M385.9 67.7h0.6M391.8 52.5h0.6M391.6 52.5h0.6M392.3 76.0h0.6M392.1 72.2h0.6M395.7 67.9h0.6M385.4 77.6h0.6M387.4 49.3h0.6M381.4 90.3h0.6M387.5 59.1h0.6M393.8 56.8h0.6M386.1 94.3h0.6M396.3 87.5h0.6M393.0 96.9h0.6M393.5 55.8h0.6M380.4 54.0h0.6M381.4 82.4h0.6M384.0 65.0h0.6M393.8 76.9h0.6M378.4 63.9h0.6M395.6 59.7h0.6M393.5 83.4h0.6M395.4 79.6h0.6M379.5 85.3h0.6M384.7 95.4h0.6M399.7 74.6h0.6M393.9 91.5h0.6M381.2 53.5h0.6M386.8 68.7h0.6M396.4 88.3h0.6M394.6 59.3h0.6M399.2 77.3h0.6M394.7 67.0h0.6M383.8 54.5h0.6M398.3 86.0h0.6M392.5 61.8h0.6M386.0 89.4h0.6M393.7 69.3h0.6M394.1 97.2h0.6M384.0 54.5h0.6M391.3 44.7h0.6M390.9 51.2h0.6M380.3 60.6h0.6M378.5 45.9h0.6M392.4 56.1h0.6M387.5 44.6h0.6M391.8 72.6h0.6M382.6 66.8h0.6M393.0 76.7h0.6M394.8 90.1h0.6M392.1 45.0h0.6M381.9 87.6h0.6M393.7 79.6h0.6M382.3 88.5h0.6M399.0 50.3h0.6M382.0 50.3h0.6M392.6 86.5h0.6M385.9 82.5h0.6M381.6 55.6h0.6M381.9 86.2h0.6M391.0 86.6h0.6M393.3 63.9h0.6M392.2 75.0h0.6M383.9 63.4h0.6M383.2 70.9h0.6M393.8 59.6h0.6M388.5 51.6h0.6M381.7 49.0h0.6M391.6 48.3h0.6M388.2 68.8h0.6M381.9 63.7h0.6M383.3 80.4h0.6M382.8 95.9h0.6M386.2 77.3h0.6M394.8 83.2h0.6M376.6 77.1h0.6M380.5 46.7h0.6M382.5 54.6h0.6M391.1 55.8h0.6M377.9 57.5h0.6M381.7 47.5h0.6M395.2 61.3h0.6M397.0 84.1h0.6M388.3 72.9h0.6M383.3 53.6h0.6M381.3 75.5h0.6M398.3 92.5h0.6M391.5 83.4h0.6M393.8 63.8h0.6M399.7 71.6h0.6M377.5 57.7h0.6M400.1 44.5h0.6M396.7 60.0h0.6M378.1 72.7h0.6M398.0 54.8h0.6M382.9 67.6h0.6M391.2 75.7h0.6M394.2 70.2h0.6M377.9 77.7h0.6M380.5 92.6h0.6M395.7 54.4h0.6M395.0 93.4h0.6M404.8 63.5h0.6M392.7 54.0h0.6M396.0 53.5h0.6M377.5 49.0h0.6M398.2 53.1h0.6M381.0 91.2h0.6M371.3 76.2h0.6M397.0 65.9h0.6M396.8 80.8h0.6M396.5 66.0h0.6M411.7 93.0h0.6M381.2 79.9h0.6M391.7 63.3h0.6M403.6 83.9h0.6M380.6 62.6h0.6M396.8 60.4h0.6M378.6 65.1h0.6M391.6 57.9h0.6M381.5 87.3h0.6M381.1 95.9h0.6M399.8 63.9h0.6M392.2 96.2h0.6M383.2 93.0h0.6M374.2 50.6h0.6M375.1 59.7h0.6M379.4 67.7h0.6M383.3 60.9h0.6M395.7 84.2h0.6M382.0 88.7h0.6M386.0 68.3h0.6M371.4 55.1h0.6M396.7 95.4h0.6M387.6 59.4h0.6M378.6 72.7h0.6M376.3 58.1h0.6M377.0 51.8h0.6M395.1 47.3h0.6M392.7 61.8h0.6M396.1 66.8h0.6M396.7 46.5h0.6M393.2 83.2h0.6M394.4 92.6h0.6M399.7 46.9h0.6M374.6 66.2h0.6M396.3 94.4h0.6M395.1 84.0h0.6M392.2 86.6h0.6M366.8 54.4h0.6M383.7 74.1h0.6M377.8 56.7h0.6M392.3 72.5h0.6M383.3 108.5h0.6M389.5 109.2h0.6M398.4 97.2h0.6M386.3 99.9h0.6M397.5 108.8h0.6M389.7 109.3h0.6M396.0 108.5h0.6M384.7 100.3h0.6M382.4 100.3h0.6M388.5 100.0h0.6M396.6 110.9h0.6M386.2 108.8h0.6M379.4 101.3h0.6M380.9 103.0h0.6M385.4 109.1h0.6M393.9 108.4h0.6M389.6 110.2h0.6M390.9 109.3h0.6M388.6 99.3h0.6M380.2 102.5h0.6M381.6 99.5h0.6M392.4 109.3h0.6M391.5 110.3h0.6M394.6 100.1h0.6M392.7 99.1h0.6M383.4 108.0h0.6M392.7 108.6h0.6M397.0 107.2h0.6M394.3 100.0h0.6M384.7 110.5h0.6M396.4 109.6h0.6M392.2 110.9h0.6M394.3 100.6h0.6M391.9 98.8h0.6M385.0 109.1h0.6M386.5 111.8h0.6M391.1 99.2h0.6M398.9 107.3h0.6M396.1 108.1h0.6M389.6 98.3h0.6M392.4 99.4h0.6M398.3 101.2h0.6M389.0 99.2h0.6M395.8 108.6h0.6M397.9 107.1h0.6M397.6 108.3h0.6M386.3 108.5h0.6M398.6 106.7h0.6M396.4 108.1h0.6M391.4 100.7h0.6M392.0 100.5h0.6M379.6 104.7h0.6M386.8 99.4h0.6M385.5 99.3h0.6M397.9 99.5h0.6M388.0 109.2h0.6M398.0 102.3h0.6M386.4 109.3h0.6M379.9 103.5h0.6M390.3 110.5h0.6M395.9 99.0h0.6M383.0 108.1h0.6M386.8 108.2h0.6M382.8 100.8h0.6M387.2 111.2h0.6M390.5 110.2h0.6M389.3 109.1h0.6M381.8 108.4h0.6M383.3 108.4h0.6M387.1 109.2h0.6M391.9 100.5h0.6M388.3 99.7h0.6M395.7 99.5h0.6M393.7 110.4h0.6M384.1 110.9h0.6M391.5 111.5h0.6M397.2 98.5h0.6M387.4 109.1h0.6M397.3 99.7h0.6M380.1 107.1h0.6M396.1 100.5h0.6M391.4 109.4h0.6M384.4 100.6h0.6M397.7 102.0h0.6M380.1 108.3h0.6M397.2 107.1h0.6M392.4 110.8h0.6M389.6 98.8h0.6M380.5 108.2h0.6M390.9 99.0h0.6M390.0 99.5h0.6M385.5 109.4h0.6M398.2 102.6h0.6M384.1 100.4h0.6M380.7 102.0h0.6M381.0 108.9h0.6M393.4 99.8h0.6M394.5 99.6h0.6M392.9 108.6h0.6M381.4 108.0h0.6M379.6 104.0h0.6M393.7 98.1h0.6M398.6 108.6h0.6M391.9 111.2h0.6M388.3 100.0h0.6M385.5 99.5h0.6M391.0 109.2h0.6M390.6 98.4h0.6M381.9 101.0h0.6M386.2 99.9h0.6M379.3 104.0h0.6M395.8 108.2h0.6M392.9 110.2h0.6M381.6 108.5h0.6M394.4 108.5h0.6M394.4 108.7h0.6M393.2 108.2h0.6M397.4 101.6h0.6M392.9 109.2h0.6M379.4 107.7h0.6M391.7 111.3h0.6M387.0 109.4h0.6M391.1 110.5h0.6M384.9 100.6h0.6M386.7 109.0h0.6M394.1 109.0h0.6M382.6 108.6h0.6M390.2 99.1h0.6M386.4 100.0h0.6M394.5 100.3h0.6M393.8 99.7h0.6M391.5 100.5h0.6M386.4 99.6h0.6M392.5 98.6h0.6M393.7 99.0h0.6M387.5 109.3h0.6M386.3 108.2h0.6M389.0 110.2h0.6M389.4 98.1h0.6M382.9 110.1h0.6M379.9 106.7h0.6M398.1 106.6h0.6M390.7 97.5h0.6M389.6 99.1h0.6M383.0 99.2h0.6M388.3 99.1h0.6M382.9 108.1h0.6M380.5 101.5h0.6M395.2 109.0h0.6M381.4 100.0h0.6M391.2 99.4h0.6M392.0 99.5h0.6M382.8 109.3h0.6M383.8 100.4h0.6M398.7 102.2h0.6M380.6 102.9h0.6M394.5 100.8h0.6M386.3 98.7h0.6M382.7 108.2h0.6M386.6 109.7h0.6M382.0 108.2h0.6M380.9 101.9h0.6M380.8 101.7h0.6M392.5 98.1h0.6M397.3 108.0h0.6M393.5 108.9h0.6M393.7 108.0h0.6M392.9 110.4h0.6M382.2 100.1h0.6M379.9 107.1h0.6M397.7 108.9h0.6M391.1 109.1h0.6M379.6 104.9h0.6M381.0 101.6h0.6M389.7 109.5h0.6M396.2 99.9h0.6M394.3 99.9h0.6M390.8 109.0h0.6M379.3 104.3h0.6M382.9 100.5h0.6M398.1 106.2h0.6M393.5 108.1h0.6M383.9 100.6h0.6M385.6 98.4h0.6M386.7 110.6h0.6M398.0 102.8h0.6M382.0 108.1h0.6M386.9 110.1h0.6M385.2 99.6h0.6M389.2 99.9h0.6M388.6 110.1h0.6M395.4 108.4h0.6M399.1 102.5h0.6M399.1 103.3h0.6M380.5 102.5h0.6M398.8 101.3h0.6M384.9 109.5h0.6M386.1 110.8h0.6M394.1 108.8h0.6M398.8 99.4h0.6M384.5 109.3h0.6M380.5 102.5h0.6M387.7 110.3h0.6M383.1 109.3h0.6M397.7 108.5h0.6M382.7 100.7h0.6M386.4 98.7h0.6M380.0 100.7h0.6M395.3 109.1h0.6M386.4 108.2h0.6M383.7 110.2h0.6M389.3 110.1h0.6M397.3 101.3h0.6M396.8 99.7h0.6M397.3 108.2h0.6M381.3 100.9h0.6M390.5 110.5h0.6M386.2 109.5h0.6M395.7 108.1h0.6M391.2 100.2h0.6M378.3 103.0h0.6M405.5 106.4h0.6M391.3 98.6h0.6M391.7 99.5h0.6M378.9 100.6h0.6M379.6 108.9h0.6M386.0 109.3h0.6M389.2 110.0h0.6M399.3 106.5h0.6M397.0 100.1h0.6M378.6 104.0h0.6M376.3 99.5h0.6M390.2 99.4h0.6M392.3 95.9h0.6M379.9 99.1h0.6M376.1 110.2h0.6M400.5 108.4h0.6M387.0 109.2h0.6M392.7 110.7h0.6M394.3 99.9h0.6M375.3 108.4h0.6M396.4 108.5h0.6M399.1 103.6h0.6M377.8 106.5h0.6M400.3 107.7h0.6M392.5 108.1h0.6M396.0 108.8h0.6M394.6 99.6h0.6M381.0 108.1h0.6M398.2 98.8h0.6M397.2 107.3h0.6M383.1 100.6h0.6M403.7 102.8h0.6M379.0 101.3h0.6M384.1 99.7h0.6M396.7 97.8h0.6M377.6 107.7h0.6M385.4 110.0h0.6M400.8 101.1h0.6M405.7 106.9h0.6M391.8 99.6h0.6M397.2 108.4h0.6M378.5 106.2h0.6M387.6 110.6h0.6M374.1 99.7h0.6M384.1 98.9h0.6M376.1 105.0h0.6M401.7 105.1h0.6M397.5 109.4h0.6M388.8 98.8h0.6M401.5 100.1h0.6M384.7 110.6h0.6M403.0 103.8h0.6M389.4 98.9h0.6M399.2 114.0h0.6M384.3 109.4h0.6M389.0 98.2h0.6M399.2 105.6h0.6M387.4 111.9h0.6M380.4 98.7h0.6M392.8 99.1h0.6M392.2 108.5h0.6M387.7 110.0h0.6M397.3 100.7h0.6M381.3 100.4h0.6M393.4 99.5h0.6M391.3 98.3h0.6M379.2 104.3h0.6M377.5 108.1h0.6M383.2 99.4h0.6M393.7 109.2h0.6M384.3 100.5h0.6M398.4 101.5h0.6M392.1 109.1h0.6M391.2 109.4h0.6M392.8 99.8h0.6M401.1 110.4h0.6M400.4 102.4h0.6M379.2 103.8h0.6M378.1 110.2h0.6M399.7 101.8h0.6M378.4 101.6h0.6M378.0 102.3h0.6M376.8 104.9h0.6M396.0 108.8h0.6M381.8 100.0h0.6M401.8 97.7h0.6M384.2 99.6h0.6M398.8 97.6h0.6M401.8 101.9h0.6M379.9 106.1h0.6M387.3 111.0h0.6M383.5 109.5h0.6M383.4 100.5h0.6M398.6 98.1h0.6M400.6 106.0h0.6M407.6 104.9h0.6M383.7 99.2h0.6M373.9 100.6h0.6M391.0 99.3h0.6M384.0 98.8h0.6M401.3 101.5h0.6M398.6 108.6h0.6M391.3 100.7h0.6M398.5 102.2h0.6M378.0 107.2h0.6M380.9 111.6h0.6M380.4 100.9h0.6M387.0 111.7h0.6M398.4 109.1h0.6M389.8 98.9h0.6M371.8 108.2h0.6M401.1 109.1h0.6M378.8 99.6h0.6M400.6 101.7h0.6M385.5 111.1h0.6M390.7 98.1h0.6M375.1 99.0h0.6M393.7 99.9h0.6M404.4 102.3h0.6M392.3 109.8h0.6M399.9 106.8h0.6M375.7 104.3h0.6M386.5 111.4h0.6M384.9 109.5h0.6" stroke="#111" stroke-width="0.6"/><line x1="290" y1="109.8" x2="290" y2="132.6" stroke="#222" stroke-width="0.9"/><line x1="290" y1="132.6" x2="314.6" y2="132.6" stroke="#222" stroke-width="0.9"/><path d="M290 106.8l-1.8 4h3.6zM317.6 132.6l-4 -1.8v3.6z" fill="#222"/><text x="328.7" y="136.1" font-size="7.2" text-anchor="middle" font-weight="bold" textLength="16.9" lengthAdjust="spacingAndGlyphs" transform="rotate(0.05 328.7 136.1)">FSC-W</text><text x="293.8" y="89" font-size="7.4" text-anchor="middle" font-weight="bold" textLength="28.2" lengthAdjust="spacingAndGlyphs" transform="rotate(-90 293.8 89)">S100A8/A9</text><line x1="448.2" y1="31" x2="448.2" y2="118.8" stroke="#222" stroke-width="1"/><line x1="445.4" y1="118.3" x2="448.2" y2="118.3" stroke="#222" stroke-width="0.9"/><text x="442.3" y="120.4" font-size="5.8" text-anchor="end" transform="rotate(0.05 442.3 120.4)" letter-spacing="0.3">0</text><line x1="445.4" y1="101.1" x2="448.2" y2="101.1" stroke="#222" stroke-width="0.9"/><text x="442.3" y="103.2" font-size="5.8" text-anchor="end" transform="rotate(0.05 442.3 103.2)" letter-spacing="0.3">20</text><line x1="445.4" y1="83.9" x2="448.2" y2="83.9" stroke="#222" stroke-width="0.9"/><text x="442.3" y="86" font-size="5.8" text-anchor="end" transform="rotate(0.05 442.3 86)" letter-spacing="0.3">40</text><line x1="445.4" y1="66.7" x2="448.2" y2="66.7" stroke="#222" stroke-width="0.9"/><text x="442.3" y="68.8" font-size="5.8" text-anchor="end" transform="rotate(0.05 442.3 68.8)" letter-spacing="0.3">60</text><line x1="445.4" y1="49.5" x2="448.2" y2="49.5" stroke="#222" stroke-width="0.9"/><text x="442.3" y="51.6" font-size="5.8" text-anchor="end" transform="rotate(0.05 442.3 51.6)" letter-spacing="0.3">80</text><line x1="445.4" y1="32.3" x2="448.2" y2="32.3" stroke="#222" stroke-width="0.9"/><text x="442.3" y="34.4" font-size="5.8" text-anchor="end" transform="rotate(0.05 442.3 34.4)" letter-spacing="0.3">100</text><line x1="447.7" y1="118.3" x2="514.8" y2="118.3" stroke="#222" stroke-width="1"/><line x1="464.6" y1="118.3" x2="464.6" y2="120.9" stroke="#222" stroke-width="0.9"/><text x="464.6" y="129.8" font-size="6.0" text-anchor="middle" transform="rotate(0.05 464.6 129.8)">uninfected</text><line x1="497.8" y1="118.3" x2="497.8" y2="120.9" stroke="#222" stroke-width="0.9"/><text x="497.8" y="129.8" font-size="6.0" text-anchor="middle" transform="rotate(0.05 497.8 129.8)">COVID-19</text><text x="481.6" y="22.7" font-size="8.6" text-anchor="middle" textLength="64.5" lengthAdjust="spacingAndGlyphs" transform="rotate(0.05 481.6 22.7)">S100A8/A9+ MKs</text><text x="427" y="74.7" font-size="6.4" text-anchor="middle" font-weight="bold" textLength="37.5" lengthAdjust="spacingAndGlyphs" transform="rotate(-90 427 74.7)">% positive MKs</text><path d="M496 32.6h0M500 32.6h0M491.25 33.58h0M495.75 34.93h0M500.25 34.93h0M504.75 33.58h0M491.38 36.21h0M494.02 37.01h0M496.68 37.8h0M499.32 37.8h0M501.98 37.01h0M504.62 36.21h0M490.05 38.41h0M492.7 39.21h0M495.35 40h0M498 40.8h0M500.65 40h0M503.3 39.21h0M505.95 38.41h0M488.73 40.62h0M491.38 41.41h0M494.02 42.21h0M496.68 43h0M499.32 43h0M501.98 42.21h0M504.62 41.41h0M507.27 40.62h0M487.4 42.82h0M490.05 43.62h0M492.7 44.41h0M495.35 45.2h0M498 46h0M500.65 45.2h0M503.3 44.41h0M505.95 43.62h0M508.6 42.82h0M487.4 45.42h0M490.05 46.22h0M492.7 47.01h0M495.35 47.8h0M498 48.6h0M500.65 47.8h0M503.3 47.01h0M505.95 46.22h0M508.6 45.42h0M487.4 48.02h0M490.05 48.82h0M492.7 49.61h0M495.35 50.41h0M498 51.2h0M500.65 50.41h0M503.3 49.61h0M505.95 48.82h0M508.6 48.02h0M487.4 50.62h0M490.05 51.41h0M492.7 52.21h0M495.35 53h0M498 53.8h0M500.65 53h0M503.3 52.21h0M505.95 51.41h0M508.6 50.62h0M487.4 53.22h0M490.05 54.02h0M492.7 54.81h0M495.35 55.6h0M498 56.4h0M500.65 55.6h0M503.3 54.81h0M505.95 54.02h0M508.6 53.22h0M487.4 55.82h0M490.05 56.62h0M492.7 57.41h0M495.35 58.2h0M498 59h0M500.65 58.2h0M503.3 57.41h0M505.95 56.62h0M508.6 55.82h0M487.4 58.42h0M490.05 59.22h0M492.7 60.01h0M495.35 60.8h0M498 61.6h0M500.65 60.8h0M503.3 60.01h0M505.95 59.22h0M508.6 58.42h0M487.4 61.02h0M490.05 61.82h0M492.7 62.61h0M495.35 63.41h0M498 64.2h0M500.65 63.41h0M503.3 62.61h0M505.95 61.82h0M508.6 61.02h0M487.4 63.62h0M490.05 64.41h0M492.7 65.21h0M495.35 66h0M498 66.8h0M500.65 66h0M503.3 65.21h0M505.95 64.41h0M508.6 63.62h0M487.4 66.22h0M490.05 67.02h0M492.7 67.81h0M495.35 68.61h0M498 69.4h0M500.65 68.61h0M503.3 67.81h0M505.95 67.02h0M508.6 66.22h0M487.4 68.82h0M490.05 69.61h0M492.7 70.41h0M495.35 71.2h0M498 72h0M500.65 71.2h0M503.3 70.41h0M505.95 69.61h0M508.6 68.82h0M487.4 71.42h0M490.05 72.21h0M492.7 73.01h0M495.35 73.8h0M498 74.6h0M500.65 73.8h0M503.3 73.01h0M505.95 72.21h0M508.6 71.42h0M488.73 74.42h0M491.38 75.21h0M494.02 76.01h0M496.68 76.8h0M499.32 76.8h0M501.98 76.01h0M504.62 75.21h0M507.27 74.42h0M488.73 77.02h0M491.38 77.81h0M494.02 78.61h0M496.68 79.4h0M499.32 79.4h0M501.98 78.61h0M504.62 77.81h0M507.27 77.02h0M490.05 80.02h0M492.7 80.81h0M495.35 81.61h0M498 82.4h0M500.65 81.61h0M503.3 80.81h0M505.95 80.02h0M490.05 82.61h0M492.7 83.41h0M495.35 84.2h0M498 85h0M500.65 84.2h0M503.3 83.41h0M505.95 82.61h0M492.7 85.91h0M495.35 86.7h0M498 87.5h0M500.65 86.7h0M503.3 85.91h0M488.2 89.86h0M493.1 91.33h0M498 92.8h0M502.9 91.33h0M507.8 89.86h0M491.25 92.77h0M495.75 94.12h0M500.25 94.12h0M504.75 92.77h0M489 94.2h0M492.6 95.28h0M496.2 96.36h0M499.8 96.36h0M503.4 95.28h0M507 94.2h0M494 98.3h0M498 99.5h0M502 98.3h0M494 103h0M498 104.2h0M502 103h0M496 106.4h0M500 106.4h0M498 109.2h0M498 114.6h0M498 118h0" stroke="#c8102e" stroke-width="2.7" stroke-linecap="round"/><line x1="487" y1="64.5" x2="509.6" y2="64.5" stroke="#111" stroke-width="1.2"/><text x="496.2" y="31.2" font-size="6" text-anchor="middle" font-weight="bold" fill="#111" textLength="11.3" lengthAdjust="spacingAndGlyphs" transform="rotate(0.05 496.2 31.2)">****</text><line x1="454.2" y1="111.2" x2="475.7" y2="111.2" stroke="#111" stroke-width="1.1"/><line x1="464.6" y1="106.5" x2="464.6" y2="116" stroke="#111" stroke-width="1"/><line x1="460.5" y1="106.5" x2="468.7" y2="106.5" stroke="#111" stroke-width="1"/><path d="M465 75.6h0M465 97.2h0M455 117.6h0M457.5 117.6h0M460 117.6h0M462.5 117.6h0M465 117.6h0M467.5 117.6h0M470 117.6h0M472.5 117.6h0M475 117.6h0M462 115.6h0M467 115.6h0" stroke="#0f4276" stroke-width="2.5" stroke-linecap="round"/><text x="3.7" y="160.5" font-size="11" font-weight="bold" fill="#111" textLength="7" lengthAdjust="spacingAndGlyphs" transform="rotate(0.05 3.7 160.5)" stroke="#111" stroke-width="0.5">E</text><text x="104.7" y="160.6" font-size="8.3" text-anchor="middle" textLength="67.5" lengthAdjust="spacingAndGlyphs" transform="rotate(0.05 104.7 160.6)">S100A8/A9 mRNA</text><line x1="20.8" y1="165.3" x2="187.7" y2="165.3" stroke="#222" stroke-width="1"/><rect x="29.4" y="173.1" width="85.9" height="85.2" fill="none" stroke="#666" stroke-width="0.8"/><line x1="55.5" y1="173.1" x2="55.5" y2="258.3" stroke="#444" stroke-width="0.8"/><line x1="29.4" y1="245.1" x2="115.3" y2="245.1" stroke="#444" stroke-width="0.8"/><text x="36.3" y="180.8" font-size="5.6" text-anchor="middle" transform="rotate(0.05 36.3 180.8)">3.72</text><text x="104.4" y="180.6" font-size="5.6" text-anchor="middle" transform="rotate(0.05 104.4 180.6)">33.5</text><text x="36.3" y="254.6" font-size="5.6" text-anchor="middle" transform="rotate(0.05 36.3 254.6)">62.6</text><text x="104" y="255" font-size="5.6" text-anchor="middle" transform="rotate(0.05 104 255)">0.21</text><text x="28.3" y="188.9" font-size="6.5" text-anchor="end" transform="rotate(0.05 28.3 188.9)">10<tspan dy="-2.7" font-size="4.4">4</tspan></text><line x1="28" y1="186.5" x2="29.4" y2="186.5" stroke="#333" stroke-width="0.8"/><text x="28.3" y="221.9" font-size="6.5" text-anchor="end" transform="rotate(0.05 28.3 221.9)">10<tspan dy="-2.7" font-size="4.4">3</tspan></text><line x1="28" y1="219.5" x2="29.4" y2="219.5" stroke="#333" stroke-width="0.8"/><text x="24" y="253.4" font-size="6.5" text-anchor="end" transform="rotate(0.05 24 253.4)">0</text><line x1="28" y1="251" x2="29.4" y2="251" stroke="#333" stroke-width="0.8"/><text x="45.5" y="268.5" font-size="6.5" text-anchor="middle" transform="rotate(0.05 45.5 268.5)">0</text><text x="76.3" y="268.5" font-size="6.5" text-anchor="middle" transform="rotate(0.05 76.3 268.5)">10<tspan dy="-2.7" font-size="4.4">3</tspan></text><text x="104" y="268.5" font-size="6.5" text-anchor="middle" transform="rotate(0.05 104 268.5)">10<tspan dy="-2.7" font-size="4.4">4</tspan></text><line x1="13" y1="251.5" x2="13" y2="275.4" stroke="#222" stroke-width="0.9"/><line x1="13" y1="275.4" x2="36.5" y2="275.4" stroke="#222" stroke-width="0.9"/><path d="M13 248.5l-1.8 4h3.6zM39.5 275.4l-4 -1.8v3.6z" fill="#222"/><text x="65.5" y="277.9" font-size="7.2" text-anchor="middle" font-weight="bold" textLength="44.3" lengthAdjust="spacingAndGlyphs" transform="rotate(0.05 65.5 277.9)">S100A8/A9 mRNA</text><text x="14.4" y="221.7" font-size="7.2" text-anchor="middle" font-weight="bold" textLength="45" lengthAdjust="spacingAndGlyphs" transform="rotate(-90 14.4 221.7)">S100A8/A9 protein</text><path d="M68 196h2v1h-2zM60 198h4v1h-4zM71 198h1v1h-1zM57 199h9v1h-9zM67 199h1v1h-1zM70 199h5v1h-5zM76 199h1v1h-1zM79 199h1v1h-1zM55 200h1v1h-1zM58 200h1v1h-1zM60 200h3v1h-3zM64 200h3v1h-3zM69 200h1v1h-1zM71 200h6v1h-6zM78 200h1v1h-1zM80 200h3v1h-3zM53 201h1v1h-1zM57 201h21v1h-21zM81 201h1v1h-1zM83 201h1v1h-1zM87 201h1v1h-1zM89 201h2v1h-2zM54 202h1v1h-1zM56 202h27v1h-27zM84 202h1v1h-1zM89 202h1v1h-1zM91 202h1v1h-1zM47 203h1v1h-1zM51 203h2v1h-2zM56 203h26v1h-26zM83 203h9v1h-9zM46 204h1v1h-1zM51 204h2v1h-2zM55 204h34v1h-34zM90 204h2v1h-2zM49 205h2v1h-2zM52 205h1v1h-1zM54 205h30v1h-30zM85 205h2v1h-2zM88 205h1v1h-1zM90 205h2v1h-2zM50 206h3v1h-3zM54 206h2v1h-2zM57 206h14v1h-14zM72 206h9v1h-9zM82 206h5v1h-5zM88 206h4v1h-4zM50 207h1v1h-1zM55 207h1v1h-1zM57 207h35v1h-35zM47 208h1v1h-1zM50 208h1v1h-1zM54 208h2v1h-2zM57 208h9v1h-9zM67 208h21v1h-21zM89 208h3v1h-3zM47 209h1v1h-1zM55 209h1v1h-1zM58 209h5v1h-5zM64 209h1v1h-1zM66 209h2v1h-2zM69 209h4v1h-4zM74 209h7v1h-7zM83 209h4v1h-4zM88 209h4v1h-4zM54 210h1v1h-1zM58 210h7v1h-7zM66 210h3v1h-3zM70 210h6v1h-6zM77 210h3v1h-3zM81 210h5v1h-5zM90 210h2v1h-2zM57 211h1v1h-1zM59 211h5v1h-5zM65 211h3v1h-3zM71 211h1v1h-1zM74 211h2v1h-2zM78 211h2v1h-2zM86 211h1v1h-1zM91 211h1v1h-1zM60 212h2v1h-2zM63 212h1v1h-1zM66 212h1v1h-1zM68 212h1v1h-1zM72 212h1v1h-1zM76 212h1v1h-1zM56 213h1v1h-1zM60 213h2v1h-2zM63 213h1v1h-1zM65 213h1v1h-1zM71 213h1v1h-1zM89 213h1v1h-1zM77 214h1v1h-1zM45 247h7v1h-7zM43 248h11v1h-11zM41 249h14v1h-14zM42 250h14v1h-14zM43 251h11v1h-11zM45 252h8v1h-8zM48 253h1v1h-1z" fill="#111"/><path d="M62.7 212.0h0.6M75.2 213.5h0.6M66.7 198.7h0.6M52.8 214.8h0.6M80.1 210.2h0.6M47.5 211.3h0.6M50.4 192.7h0.6M88.6 211.3h0.6M88.4 210.2h0.6M49.0 204.4h0.6M80.0 198.8h0.6M46.8 203.0h0.6M85.7 200.0h0.6M60.3 193.7h0.6M88.8 202.6h0.6M91.8 212.7h0.6M54.6 198.5h0.6M49.9 203.4h0.6M71.0 212.3h0.6M79.1 212.3h0.6M86.4 202.5h0.6M89.9 200.6h0.6M63.0 200.4h0.6M91.6 213.7h0.6M59.4 213.6h0.6M69.5 211.7h0.6M45.7 203.4h0.6M56.7 198.5h0.6M69.4 210.3h0.6M91.4 201.2h0.6M90.1 199.5h0.6M81.3 206.2h0.6M49.1 202.2h0.6M59.8 200.7h0.6M83.7 199.2h0.6M60.0 200.2h0.6M76.1 193.8h0.6M83.7 214.4h0.6M89.6 205.9h0.6M57.9 198.4h0.6M57.3 200.7h0.6M53.2 211.9h0.6M85.2 200.6h0.6M57.1 210.7h0.6M89.9 200.0h0.6M50.2 212.6h0.6M87.5 203.0h0.6M83.8 199.1h0.6M83.9 200.6h0.6M52.9 209.8h0.6M50.1 209.2h0.6M87.1 202.1h0.6M46.3 209.2h0.6M63.5 197.6h0.6M65.0 211.1h0.6M71.3 216.2h0.6M56.4 198.8h0.6M49.2 204.4h0.6M75.1 217.0h0.6M75.8 215.9h0.6M66.7 197.1h0.6M87.4 206.9h0.6M52.9 209.1h0.6M31.5 211.8h0.6M64.9 195.9h0.6M71.4 217.1h0.6M70.2 200.0h0.6M48.5 206.3h0.6M68.6 200.8h0.6M64.4 211.8h0.6M79.7 201.9h0.6M49.1 207.1h0.6M65.6 195.0h0.6M78.0 215.6h0.6M73.7 214.3h0.6M87.2 200.2h0.6M68.1 200.1h0.6M56.8 199.0h0.6M51.0 202.0h0.6M89.8 204.4h0.6M53.5 207.4h0.6M73.1 209.7h0.6M60.2 197.2h0.6M59.9 215.0h0.6M88.9 201.2h0.6M88.2 211.5h0.6M71.0 198.9h0.6M52.4 199.6h0.6M77.8 198.2h0.6M86.6 199.0h0.6M54.9 203.2h0.6M84.1 205.4h0.6M51.6 202.2h0.6M93.0 209.0h0.6M79.3 200.5h0.6M89.1 211.1h0.6M66.4 196.1h0.6M86.8 202.1h0.6M89.0 204.3h0.6M85.2 212.7h0.6M71.0 197.8h0.6M47.0 202.5h0.6M92.9 209.1h0.6M82.8 213.5h0.6M54.4 201.7h0.6M49.4 204.6h0.6M70.4 212.0h0.6M79.1 197.2h0.6M64.8 212.4h0.6M56.8 211.8h0.6M87.0 200.6h0.6M81.7 211.7h0.6M45.8 214.8h0.6M50.5 211.7h0.6M61.7 196.1h0.6M71.5 215.9h0.6M83.0 213.1h0.6M85.0 198.1h0.6M84.0 202.5h0.6M75.2 212.9h0.6M80.6 213.4h0.6M77.2 200.6h0.6M89.6 204.2h0.6M74.8 197.5h0.6M56.0 192.3h0.6M61.3 197.0h0.6M60.8 197.3h0.6M56.7 199.8h0.6M83.6 199.4h0.6M88.3 199.6h0.6M65.7 196.1h0.6M81.1 198.2h0.6M92.4 207.4h0.6M51.9 208.1h0.6M79.0 198.6h0.6M53.1 204.3h0.6M76.7 196.5h0.6M55.7 199.4h0.6M48.5 206.2h0.6M91.7 199.5h0.6M88.0 211.0h0.6M88.9 202.7h0.6M85.8 200.8h0.6M49.9 205.0h0.6M73.2 198.9h0.6M80.9 199.4h0.6M63.4 197.1h0.6M91.9 212.4h0.6M69.3 199.4h0.6M78.0 195.3h0.6M56.4 198.5h0.6M50.6 204.7h0.6M85.2 201.6h0.6M53.3 203.5h0.6M74.4 212.1h0.6M68.3 199.8h0.6M76.6 198.0h0.6M61.6 214.1h0.6M45.4 206.0h0.6M71.0 196.4h0.6M58.9 195.9h0.6M73.7 197.1h0.6M83.4 198.6h0.6M82.7 212.0h0.6M51.6 210.2h0.6M89.8 210.7h0.6M62.7 195.9h0.6M69.5 198.8h0.6M53.6 205.5h0.6M87.3 205.0h0.6M71.2 206.8h0.6M47.5 210.2h0.6M48.7 206.9h0.6M64.6 196.3h0.6M61.7 219.4h0.6M61.1 196.7h0.6M74.1 197.9h0.6M77.8 197.2h0.6M74.8 195.8h0.6M51.8 210.3h0.6M105.4 207.6h0.6M91.5 212.3h0.6M46.2 207.5h0.6M78.4 199.8h0.6M63.2 209.2h0.6M55.7 211.3h0.6M48.7 208.9h0.6M65.8 209.6h0.6M84.4 214.2h0.6M60.4 197.4h0.6M54.3 213.3h0.6M56.2 208.3h0.6M56.4 197.8h0.6M53.8 204.7h0.6M89.1 212.2h0.6M53.3 209.6h0.6M53.4 211.5h0.6M46.8 203.9h0.6M88.4 200.5h0.6M50.1 197.7h0.6M48.7 200.8h0.6M68.4 211.9h0.6M50.2 212.1h0.6M69.9 197.9h0.6M81.7 199.4h0.6M83.4 214.7h0.6M49.0 206.5h0.6M81.9 198.3h0.6M77.2 199.9h0.6M64.0 197.4h0.6M59.0 214.1h0.6M73.2 195.7h0.6M52.7 201.2h0.6M46.3 207.9h0.6M46.1 206.1h0.6M80.0 197.9h0.6M84.7 195.4h0.6M89.9 217.0h0.6M53.9 211.5h0.6M79.2 212.2h0.6M66.1 199.1h0.6M54.4 204.4h0.6M65.7 198.6h0.6M80.4 196.4h0.6M61.0 214.5h0.6M57.5 198.0h0.6M48.9 208.5h0.6M69.5 211.5h0.6M75.7 194.6h0.6M87.0 212.2h0.6M76.3 210.3h0.6M56.0 202.7h0.6M83.5 213.6h0.6M75.4 198.0h0.6M79.0 198.7h0.6M81.9 197.8h0.6M51.8 210.4h0.6M80.2 210.3h0.6M74.9 212.7h0.6M62.1 215.7h0.6M87.1 210.6h0.6M51.3 208.6h0.6M89.2 215.4h0.6M56.2 196.1h0.6M81.7 198.0h0.6M55.7 210.0h0.6M54.9 204.3h0.6M62.4 196.1h0.6M70.4 211.9h0.6M76.1 192.8h0.6M45.7 204.1h0.6M47.6 204.5h0.6M82.7 203.2h0.6M76.6 211.0h0.6M83.3 211.8h0.6M57.4 213.7h0.6M47.9 214.1h0.6M51.1 209.0h0.6M78.5 198.3h0.6M83.0 198.5h0.6M68.3 211.5h0.6M53.2 203.1h0.6M52.0 202.7h0.6M53.4 209.7h0.6M51.3 199.6h0.6M48.2 208.7h0.6M88.8 211.0h0.6M50.0 202.3h0.6M66.2 213.2h0.6M52.3 209.1h0.6M53.8 207.7h0.6M92.0 207.6h0.6M78.3 212.9h0.6M56.2 212.8h0.6M75.8 199.4h0.6M50.9 203.0h0.6M72.9 213.1h0.6M49.2 212.9h0.6M67.5 200.3h0.6M59.0 195.7h0.6M85.5 202.6h0.6M87.3 198.9h0.6M82.3 198.6h0.6M64.2 196.0h0.6M49.5 207.7h0.6M49.8 206.7h0.6M78.9 191.6h0.6M93.1 210.8h0.6M46.4 210.1h0.6M82.8 214.8h0.6M70.4 214.9h0.6M56.9 209.8h0.6M67.4 198.5h0.6M52.8 209.6h0.6M61.9 192.8h0.6M75.5 199.1h0.6M47.6 205.0h0.6M52.1 210.4h0.6M78.1 199.7h0.6M66.6 199.7h0.6M72.5 193.7h0.6M66.1 195.7h0.6M76.1 211.0h0.6M59.1 197.0h0.6M60.4 195.2h0.6M68.6 210.0h0.6M48.8 203.1h0.6M83.0 195.8h0.6M51.1 205.5h0.6M54.7 203.3h0.6M73.6 209.9h0.6M80.0 198.5h0.6M52.5 202.6h0.6M65.4 212.1h0.6M75.0 212.8h0.6M80.1 211.9h0.6M79.3 200.0h0.6M55.4 211.7h0.6M64.4 212.1h0.6M82.8 212.1h0.6M56.4 209.4h0.6M85.5 201.4h0.6M45.8 201.3h0.6M50.2 201.3h0.6M77.4 193.8h0.6M55.3 197.0h0.6M68.9 198.5h0.6M72.1 213.1h0.6M76.4 193.8h0.6M64.6 213.2h0.6M80.8 213.2h0.6M95.3 208.7h0.6M62.4 197.7h0.6M81.4 195.0h0.6M68.3 209.1h0.6M62.2 212.5h0.6M69.5 199.7h0.6M86.9 215.0h0.6M65.7 210.7h0.6M83.3 200.8h0.6M50.1 209.9h0.6M72.4 194.3h0.6M49.9 208.1h0.6M66.5 198.7h0.6M53.2 205.8h0.6M68.6 198.9h0.6M53.7 200.7h0.6M64.1 215.3h0.6M83.4 199.1h0.6M68.5 194.9h0.6M93.1 206.0h0.6M58.7 191.8h0.6M87.9 211.1h0.6M80.2 198.0h0.6M55.4 198.1h0.6M70.0 213.7h0.6M51.4 196.8h0.6M53.0 206.1h0.6M57.2 213.3h0.6M62.2 196.8h0.6M46.0 202.3h0.6M75.8 200.0h0.6M83.2 216.7h0.6M88.8 212.1h0.6M47.1 211.0h0.6M62.6 214.3h0.6M48.2 207.3h0.6M68.4 197.7h0.6M86.7 212.1h0.6M50.4 203.2h0.6M68.0 197.5h0.6M52.9 199.2h0.6M52.6 207.5h0.6M90.5 211.4h0.6M53.9 205.2h0.6M48.1 209.1h0.6M51.5 207.6h0.6M82.0 201.5h0.6M55.4 215.4h0.6M54.8 207.2h0.6M88.4 199.5h0.6M53.0 212.7h0.6M60.1 196.4h0.6M89.2 205.1h0.6M62.5 197.6h0.6M59.4 196.7h0.6M80.4 212.9h0.6M81.5 198.6h0.6M77.0 211.6h0.6M87.9 205.6h0.6M47.5 207.5h0.6M56.2 206.3h0.6M67.9 200.7h0.6M67.7 218.1h0.6M47.0 210.7h0.6M76.1 211.3h0.6M70.9 200.3h0.6M65.8 197.2h0.6M77.7 197.2h0.6M86.6 199.3h0.6M80.4 201.6h0.6M53.7 194.5h0.6M45.6 206.8h0.6M71.5 212.2h0.6M56.9 215.1h0.6M87.3 206.8h0.6M61.3 194.9h0.6M78.9 201.4h0.6M52.4 207.5h0.6M46.9 209.5h0.6M62.1 213.8h0.6M85.1 200.7h0.6M88.4 201.1h0.6M58.0 212.2h0.6M68.2 197.1h0.6M79.4 194.8h0.6M81.5 213.2h0.6M83.2 214.3h0.6M54.9 213.6h0.6M83.2 214.4h0.6M88.0 199.3h0.6M82.7 201.9h0.6M92.5 212.2h0.6M81.0 201.1h0.6M87.2 209.1h0.6M72.0 211.7h0.6M89.6 210.7h0.6M83.7 200.3h0.6M89.1 205.2h0.6M53.2 218.7h0.6M55.9 199.0h0.6M56.3 208.7h0.6M56.3 211.6h0.6M78.1 199.5h0.6M90.6 202.9h0.6M88.7 213.1h0.6M45.7 207.7h0.6M55.8 204.0h0.6M56.6 209.5h0.6M52.0 202.9h0.6M69.0 210.0h0.6M53.7 195.8h0.6M86.7 210.3h0.6M71.8 196.3h0.6M77.4 198.6h0.6M51.2 212.0h0.6M68.3 199.8h0.6M57.8 197.2h0.6M90.0 211.0h0.6M73.3 211.2h0.6M48.8 210.2h0.6M53.6 197.3h0.6M83.0 200.7h0.6M65.7 209.6h0.6M66.2 198.7h0.6M91.5 212.8h0.6M46.9 206.2h0.6M71.0 200.9h0.6M65.3 217.8h0.6M67.8 213.5h0.6M61.3 195.5h0.6M85.4 201.3h0.6M55.5 201.4h0.6M59.0 196.0h0.6M82.0 213.6h0.6M48.8 204.9h0.6M41.3 205.6h0.6M65.5 215.8h0.6M88.2 201.8h0.6M85.6 201.1h0.6M87.2 206.3h0.6M53.8 206.9h0.6M51.9 208.2h0.6M62.9 214.3h0.6M53.4 202.5h0.6M89.5 205.1h0.6M86.5 199.1h0.6M46.1 203.6h0.6M78.2 196.9h0.6M86.8 198.3h0.6M86.8 202.8h0.6M52.9 200.3h0.6M64.7 197.3h0.6M90.9 212.6h0.6M81.3 199.3h0.6M52.2 207.4h0.6M70.7 200.7h0.6M56.4 206.6h0.6M46.1 205.8h0.6M58.6 212.9h0.6M50.4 202.5h0.6M52.9 210.5h0.6M57.9 197.9h0.6M72.0 198.8h0.6M57.1 214.1h0.6M67.6 200.4h0.6M60.1 196.5h0.6M54.0 208.3h0.6M64.4 198.8h0.6M46.8 202.5h0.6M91.8 198.3h0.6M75.6 196.2h0.6M73.7 213.9h0.6M87.7 205.1h0.6M46.2 209.7h0.6M82.0 200.0h0.6M85.3 200.9h0.6M74.0 212.4h0.6M65.6 198.8h0.6M56.4 200.7h0.6M50.0 199.2h0.6M51.2 209.1h0.6M73.1 197.9h0.6M50.0 204.6h0.6M45.8 209.7h0.6M87.2 206.1h0.6M78.4 201.9h0.6M52.3 207.5h0.6M87.8 209.4h0.6M56.4 206.7h0.6M77.5 213.6h0.6M46.3 205.7h0.6M72.3 214.0h0.6M81.4 206.2h0.6M86.5 200.2h0.6M77.2 196.1h0.6M84.9 216.4h0.6M95.2 207.9h0.6M85.1 212.0h0.6M91.8 214.9h0.6M99.7 203.7h0.6M69.5 193.9h0.6M86.7 201.4h0.6M53.0 210.9h0.6M85.8 211.2h0.6M53.8 202.5h0.6M54.9 208.0h0.6M70.5 196.2h0.6M51.5 202.6h0.6M84.1 201.2h0.6M86.7 201.1h0.6M48.9 203.0h0.6M62.7 212.6h0.6M84.8 211.9h0.6M88.9 210.3h0.6M90.4 202.9h0.6M43.7 208.6h0.6M86.8 210.8h0.6M57.5 213.6h0.6M49.6 206.2h0.6M62.4 192.7h0.6M70.7 211.2h0.6M65.2 198.2h0.6M69.4 198.9h0.6M72.3 197.1h0.6M61.3 197.7h0.6M58.2 194.1h0.6M56.4 201.8h0.6M67.7 200.3h0.6M79.2 198.6h0.6M85.5 198.6h0.6M68.1 197.2h0.6M51.6 208.4h0.6M49.6 200.1h0.6M75.5 195.8h0.6M89.7 204.4h0.6M47.0 203.5h0.6M82.3 209.8h0.6M68.0 200.4h0.6M49.0 213.2h0.6M51.9 207.1h0.6M69.2 199.8h0.6M52.2 202.6h0.6M56.6 207.7h0.6M52.9 198.9h0.6M70.7 197.8h0.6M72.3 211.2h0.6M59.9 197.6h0.6M49.1 208.2h0.6M88.9 200.7h0.6M87.6 209.7h0.6M56.1 207.8h0.6M56.7 211.0h0.6M55.6 203.8h0.6M91.5 213.5h0.6M65.6 214.9h0.6M76.8 213.1h0.6M66.3 199.3h0.6M85.4 199.8h0.6M74.5 198.0h0.6M56.1 208.1h0.6M68.4 209.7h0.6M90.9 212.8h0.6M69.2 213.2h0.6M55.3 202.9h0.6M68.2 193.3h0.6M53.2 206.0h0.6M46.4 203.3h0.6M47.8 201.9h0.6M82.1 199.0h0.6M59.3 196.2h0.6M56.0 201.5h0.6M70.5 212.8h0.6M57.1 195.6h0.6M57.7 212.5h0.6M79.6 201.8h0.6M47.6 205.5h0.6M65.7 209.6h0.6M76.6 194.7h0.6M60.9 195.9h0.6M56.2 206.5h0.6M54.8 207.9h0.6M79.0 213.0h0.6M84.5 201.5h0.6M49.2 206.5h0.6M68.6 198.4h0.6M90.4 213.9h0.6M64.5 197.8h0.6M70.9 196.2h0.6M46.6 198.5h0.6M87.4 197.3h0.6M84.2 205.4h0.6M70.1 198.1h0.6M70.4 196.4h0.6M54.0 202.2h0.6M88.6 211.0h0.6M71.2 212.7h0.6M71.5 197.7h0.6M57.6 215.1h0.6M52.8 208.5h0.6M57.0 198.6h0.6M71.8 206.7h0.6M56.8 199.6h0.6M80.9 199.8h0.6M46.8 206.8h0.6M71.9 215.3h0.6M65.7 215.1h0.6M81.1 207.0h0.6M64.2 212.8h0.6M57.5 209.8h0.6M47.2 200.2h0.6M88.0 212.7h0.6M76.2 216.4h0.6M80.6 214.7h0.6M45.7 211.2h0.6M55.3 216.1h0.6M55.3 203.6h0.6M90.4 194.8h0.6M76.0 198.7h0.6M46.3 208.9h0.6M78.9 198.3h0.6M90.9 202.9h0.6M55.7 210.4h0.6M50.1 200.9h0.6M89.6 199.0h0.6M91.6 201.6h0.6M87.8 206.9h0.6M75.4 197.6h0.6M83.8 212.3h0.6M87.2 210.6h0.6M68.3 200.6h0.6M50.3 203.0h0.6M47.1 199.8h0.6M48.8 206.4h0.6M72.0 195.1h0.6M55.9 198.8h0.6M58.7 213.2h0.6M77.9 215.6h0.6M61.7 197.5h0.6M72.8 198.8h0.6M59.9 213.9h0.6M52.8 201.5h0.6M73.1 215.4h0.6M91.4 199.5h0.6M69.7 210.1h0.6M75.4 197.6h0.6M78.8 201.5h0.6M92.0 198.3h0.6M77.1 197.9h0.6M62.5 218.5h0.6M62.3 214.4h0.6M59.3 200.4h0.6M54.6 209.5h0.6M78.0 198.7h0.6M91.1 200.9h0.6M66.2 214.9h0.6M94.9 206.5h0.6M57.4 212.5h0.6M76.5 195.4h0.6M57.7 210.3h0.6M65.5 196.7h0.6M91.9 199.4h0.6M67.5 212.2h0.6M75.2 199.4h0.6M71.3 215.1h0.6M56.4 208.3h0.6M84.2 212.2h0.6M78.6 199.6h0.6M67.9 214.7h0.6M87.5 206.0h0.6M59.5 200.7h0.6M53.8 200.1h0.6M60.6 216.1h0.6M53.3 207.2h0.6M88.1 208.7h0.6M50.7 202.5h0.6M81.4 196.3h0.6M87.9 210.2h0.6M79.5 217.7h0.6M70.3 212.6h0.6M53.1 203.9h0.6M83.3 200.6h0.6M52.2 212.5h0.6M56.3 198.6h0.6M65.6 196.5h0.6M53.9 204.4h0.6M58.7 195.9h0.6M52.7 196.0h0.6M54.7 201.8h0.6M87.9 211.5h0.6M49.2 203.7h0.6M55.1 202.1h0.6M66.4 197.3h0.6M51.4 207.5h0.6M89.5 199.4h0.6M62.8 192.8h0.6M53.8 208.1h0.6M71.3 197.1h0.6M48.3 203.7h0.6M45.8 208.5h0.6M88.9 200.2h0.6M90.8 200.8h0.6M51.6 208.0h0.6M89.0 214.2h0.6M61.5 216.4h0.6M72.2 215.7h0.6M75.4 199.9h0.6M90.0 211.2h0.6M53.5 205.5h0.6M46.0 203.1h0.6M46.4 208.2h0.6M81.2 206.4h0.6M69.1 199.4h0.6M46.6 210.3h0.6M82.3 201.6h0.6M80.6 211.6h0.6M81.2 211.3h0.6M85.6 215.0h0.6M45.5 214.4h0.6M59.3 197.6h0.6M66.0 215.1h0.6M87.2 211.2h0.6M73.1 193.0h0.6M55.5 202.9h0.6M73.4 195.3h0.6M76.3 197.6h0.6M74.3 197.0h0.6M47.2 202.2h0.6M60.1 214.4h0.6M88.0 202.6h0.6M56.9 208.8h0.6M81.1 194.1h0.6M87.2 210.8h0.6M79.2 200.0h0.6M81.0 214.5h0.6M63.4 197.4h0.6M70.3 200.8h0.6M91.5 213.5h0.6M62.6 215.6h0.6M76.9 198.9h0.6M85.3 202.9h0.6M58.5 196.8h0.6M82.0 198.5h0.6M44.6 208.5h0.6M71.1 196.8h0.6M78.1 199.0h0.6M47.1 204.8h0.6M50.3 209.1h0.6M54.2 212.8h0.6M88.9 211.5h0.6M48.7 202.9h0.6M63.7 200.2h0.6M72.0 212.8h0.6M50.3 211.8h0.6M46.5 206.8h0.6M45.5 210.8h0.6M80.3 215.7h0.6M48.7 208.9h0.6M60.8 196.5h0.6M81.4 209.2h0.6M84.2 201.8h0.6M86.5 212.3h0.6M88.6 214.4h0.6M59.8 212.9h0.6M47.8 210.2h0.6M66.3 196.1h0.6M55.6 201.9h0.6M56.7 201.1h0.6M80.0 193.7h0.6M67.4 215.1h0.6M75.8 214.5h0.6M49.8 204.1h0.6M56.5 210.3h0.6M65.2 193.2h0.6M64.6 195.9h0.6M52.9 209.8h0.6M65.6 198.5h0.6M86.5 201.1h0.6M81.2 211.6h0.6M53.8 205.6h0.6M45.6 206.5h0.6M49.4 203.0h0.6M82.1 212.9h0.6M70.1 212.4h0.6M73.7 197.2h0.6M46.7 208.8h0.6M91.1 197.2h0.6M71.0 198.5h0.6M85.7 213.4h0.6M78.2 201.7h0.6M46.0 202.5h0.6M75.7 198.3h0.6M67.3 212.7h0.6M56.1 212.6h0.6M66.9 187.8h0.6M46.4 205.9h0.6M68.8 199.9h0.6M63.2 214.0h0.6M87.6 212.9h0.6M57.1 210.8h0.6M69.1 197.4h0.6M84.7 206.0h0.6M54.4 199.1h0.6M82.3 201.8h0.6M86.8 201.6h0.6M49.2 200.8h0.6M77.1 200.7h0.6M79.7 198.0h0.6M87.2 212.8h0.6M53.9 206.3h0.6M63.8 215.5h0.6M67.4 197.4h0.6M56.7 209.9h0.6M65.5 210.6h0.6M51.7 201.1h0.6M47.5 207.6h0.6M67.5 214.4h0.6M72.3 195.9h0.6M86.8 202.4h0.6M55.7 213.4h0.6M56.1 206.9h0.6M84.2 200.5h0.6M78.8 213.0h0.6M81.9 211.0h0.6M81.3 199.0h0.6M89.2 212.5h0.6M46.9 202.0h0.6M66.9 217.6h0.6M78.3 198.5h0.6M49.0 203.2h0.6M66.4 199.2h0.6M92.1 213.0h0.6M80.5 201.4h0.6M51.9 205.9h0.6M82.4 214.1h0.6M81.8 209.2h0.6M90.8 201.0h0.6M53.7 202.3h0.6M55.2 198.1h0.6M82.1 209.7h0.6M49.3 203.5h0.6M74.2 198.1h0.6M89.7 211.0h0.6M66.6 213.6h0.6M69.2 212.3h0.6M89.5 200.4h0.6M77.2 212.5h0.6M49.3 206.1h0.6M51.5 207.0h0.6M45.6 210.9h0.6M51.5 205.0h0.6M76.0 213.4h0.6M71.8 197.7h0.6M76.6 210.2h0.6M87.2 200.5h0.6M84.3 205.5h0.6M68.6 199.1h0.6M49.5 203.8h0.6M49.6 211.2h0.6M79.9 201.7h0.6M82.2 203.0h0.6M70.5 212.7h0.6M49.2 204.6h0.6M68.3 194.5h0.6M54.4 211.4h0.6M54.9 199.9h0.6M87.6 214.0h0.6M75.1 195.3h0.6M54.7 207.1h0.6M58.3 197.7h0.6M52.3 208.2h0.6M89.9 199.6h0.6M46.7 199.8h0.6M88.0 214.5h0.6M60.3 195.6h0.6M73.6 198.9h0.6M63.6 197.1h0.6M60.5 196.8h0.6M59.4 198.6h0.6M86.9 210.8h0.6M56.9 199.7h0.6M64.8 198.2h0.6M67.7 216.2h0.6M68.1 199.0h0.6M84.0 201.8h0.6M71.9 214.3h0.6M59.9 200.5h0.6M50.7 203.7h0.6M57.3 211.0h0.6M91.2 200.3h0.6M53.2 198.5h0.6M53.9 201.0h0.6M60.6 197.8h0.6M54.9 212.8h0.6M81.9 210.0h0.6M81.8 209.9h0.6M83.3 202.5h0.6M56.7 209.9h0.6M69.7 214.3h0.6M77.3 216.3h0.6M57.0 215.6h0.6M69.8 214.1h0.6M63.2 209.2h0.6M87.6 209.8h0.6M88.9 202.8h0.6M72.9 198.6h0.6M63.6 196.6h0.6M80.2 210.7h0.6M93.4 206.7h0.6M85.7 202.1h0.6M52.9 201.3h0.6M65.4 197.9h0.6M86.4 213.1h0.6M48.6 213.3h0.6M81.1 206.3h0.6M90.9 215.2h0.6M45.7 203.9h0.6M95.5 204.5h0.6M73.3 195.1h0.6M90.4 202.9h0.6M52.3 208.6h0.6M52.7 211.6h0.6M61.2 198.0h0.6M48.7 199.8h0.6M62.0 196.8h0.6M63.7 209.1h0.6M96.8 205.6h0.6M52.7 209.6h0.6M73.4 213.1h0.6M70.3 200.2h0.6M65.6 196.2h0.6M81.1 197.4h0.6M88.7 201.0h0.6M90.4 214.4h0.6M49.5 209.1h0.6M56.0 206.4h0.6M51.0 205.1h0.6M72.0 197.3h0.6M72.4 197.6h0.6M46.7 206.1h0.6M83.4 202.9h0.6M94.0 202.0h0.6M78.6 195.2h0.6M78.6 201.7h0.6M51.9 207.0h0.6M69.0 216.3h0.6M53.3 212.1h0.6M83.9 211.6h0.6M68.4 209.8h0.6M76.2 198.1h0.6M85.8 212.5h0.6M48.6 207.0h0.6M81.2 199.3h0.6M74.3 213.7h0.6M53.9 213.0h0.6M48.9 208.4h0.6M83.3 212.5h0.6M51.0 211.0h0.6M90.5 212.7h0.6M69.6 198.5h0.6M68.0 197.3h0.6M89.4 210.3h0.6M82.1 209.8h0.6M92.0 201.7h0.6M71.6 206.3h0.6M69.7 199.1h0.6M50.9 210.7h0.6M88.0 210.2h0.6M74.5 198.1h0.6M53.1 206.3h0.6M61.8 218.9h0.6M53.5 207.0h0.6M86.2 210.6h0.6M52.3 198.7h0.6M72.1 197.9h0.6M80.7 215.6h0.6M88.8 212.7h0.6M47.9 207.9h0.6M66.5 198.5h0.6M90.0 199.3h0.6M82.8 198.6h0.6M68.7 191.6h0.6M80.4 213.5h0.6M66.9 195.0h0.6M84.8 205.4h0.6M54.6 207.7h0.6M68.5 211.9h0.6M46.5 212.2h0.6M79.9 214.5h0.6M53.3 204.5h0.6M56.2 208.4h0.6M76.7 198.9h0.6M78.0 201.0h0.6M75.0 195.6h0.6M61.5 195.4h0.6M68.4 211.9h0.6M83.3 195.2h0.6M65.2 198.4h0.6M54.7 209.9h0.6M58.2 212.5h0.6M48.5 199.6h0.6M78.1 212.0h0.6M61.2 221.3h0.6M45.7 205.0h0.6M80.1 196.8h0.6M64.0 209.4h0.6M47.7 210.4h0.6M49.2 200.5h0.6M68.4 195.6h0.6M84.5 200.6h0.6M91.0 213.5h0.6M48.0 205.2h0.6M83.2 215.3h0.6M73.5 213.9h0.6M60.8 195.6h0.6M89.4 199.4h0.6M47.0 205.0h0.6M68.9 214.1h0.6M45.8 206.5h0.6M50.9 204.4h0.6M64.5 214.5h0.6M66.3 198.4h0.6M67.1 198.8h0.6M92.8 206.8h0.6M75.6 199.7h0.6M57.2 212.1h0.6M58.9 196.9h0.6M51.9 201.3h0.6M47.3 205.1h0.6M49.6 214.3h0.6M50.6 210.3h0.6M87.7 198.2h0.6M68.1 197.7h0.6M66.7 199.3h0.6M90.5 199.9h0.6M72.9 198.1h0.6M83.9 198.7h0.6M48.2 205.2h0.6M79.5 200.0h0.6M83.6 202.8h0.6M47.3 207.6h0.6M56.7 212.9h0.6M51.5 213.2h0.6M69.4 210.0h0.6M55.7 211.2h0.6M80.0 200.0h0.6M46.8 202.6h0.6M81.2 198.8h0.6M47.5 204.9h0.6M67.6 200.6h0.6M64.5 211.2h0.6M90.8 211.6h0.6M50.7 204.7h0.6M54.1 204.2h0.6M81.3 196.5h0.6M56.3 210.4h0.6M78.0 214.6h0.6M48.4 200.8h0.6M68.7 199.6h0.6M68.7 200.3h0.6M74.8 198.7h0.6M76.9 195.8h0.6M59.7 197.0h0.6M46.2 207.9h0.6M71.1 206.3h0.6M55.5 210.2h0.6M67.4 214.3h0.6M52.5 211.8h0.6M91.8 212.7h0.6M63.4 200.9h0.6M52.3 208.9h0.6M75.1 194.3h0.6M66.7 198.9h0.6M76.2 195.6h0.6M70.9 213.2h0.6M46.8 209.1h0.6M56.8 201.1h0.6M67.2 195.4h0.6M76.7 213.3h0.6M65.6 210.1h0.6M50.9 199.4h0.6M76.6 213.3h0.6M70.1 198.9h0.6M68.0 198.6h0.6M56.6 214.3h0.6M50.9 212.2h0.6M63.1 209.4h0.6M59.9 197.3h0.6M64.8 195.1h0.6M86.4 200.3h0.6M62.0 214.6h0.6M88.8 208.8h0.6M74.8 198.8h0.6M56.9 208.0h0.6M68.9 200.7h0.6M73.5 192.8h0.6M64.8 218.1h0.6M50.8 201.1h0.6M84.3 211.8h0.6M77.6 217.7h0.6M70.1 214.8h0.6M69.1 197.7h0.6M57.8 200.3h0.6M66.2 208.1h0.6M46.2 208.3h0.6M62.0 196.0h0.6M50.6 211.3h0.6M53.4 203.7h0.6M65.2 212.7h0.6M82.6 203.0h0.6M92.9 198.0h0.6M72.1 197.2h0.6M84.2 201.0h0.6M68.1 209.3h0.6M56.7 193.2h0.6M73.3 209.3h0.6M58.6 196.3h0.6M75.1 212.1h0.6M91.6 199.9h0.6M59.9 192.9h0.6M88.8 208.2h0.6M86.6 210.0h0.6M79.2 217.7h0.6M57.9 198.8h0.6M86.2 213.7h0.6M52.7 201.6h0.6M86.5 199.3h0.6M48.7 205.6h0.6M58.8 211.0h0.6M53.5 211.6h0.6M53.4 204.9h0.6M87.2 200.2h0.6M82.8 199.8h0.6M76.7 211.3h0.6M87.3 198.6h0.6M73.2 209.8h0.6M48.4 213.1h0.6M55.3 201.2h0.6M63.5 197.4h0.6M79.6 200.3h0.6M81.4 209.3h0.6M78.2 197.0h0.6M53.4 211.4h0.6M47.2 212.3h0.6M59.2 212.4h0.6M87.5 206.1h0.6M57.9 210.9h0.6M89.6 204.4h0.6M48.6 199.9h0.6M51.1 201.4h0.6M54.9 210.0h0.6M50.2 210.9h0.6M89.0 205.3h0.6M49.2 212.8h0.6M67.8 216.2h0.6M64.5 213.9h0.6M76.1 211.2h0.6M59.7 198.9h0.6M63.7 200.2h0.6M70.7 199.0h0.6M71.3 195.1h0.6M67.0 216.6h0.6M59.1 195.0h0.6M58.2 195.9h0.6M64.5 212.0h0.6M59.4 198.5h0.6M89.8 205.8h0.6M90.9 213.9h0.6M97.1 209.4h0.6M82.5 201.1h0.6M52.8 208.4h0.6M53.1 210.6h0.6M53.6 205.9h0.6M48.6 210.4h0.6M55.6 211.1h0.6M59.4 212.6h0.6M93.2 210.9h0.6M89.1 199.7h0.6M93.3 202.5h0.6M45.5 202.3h0.6M53.4 206.0h0.6M86.3 198.6h0.6M71.8 206.9h0.6M66.7 214.8h0.6M62.3 217.5h0.6M66.3 199.2h0.6M80.0 200.9h0.6M83.3 211.0h0.6M69.2 210.2h0.6M91.7 201.1h0.6M80.5 211.9h0.6M73.4 197.8h0.6M83.2 197.9h0.6M66.7 197.9h0.6M55.5 197.0h0.6M58.4 212.1h0.6M84.0 212.9h0.6M82.7 194.2h0.6M87.3 199.5h0.6M78.3 212.8h0.6M47.8 207.3h0.6M76.6 211.1h0.6M50.4 202.9h0.6M79.1 213.4h0.6M46.5 212.6h0.6M58.2 214.9h0.6M66.5 195.9h0.6M71.6 206.3h0.6M69.8 198.3h0.6M69.0 200.9h0.6M73.1 198.4h0.6M81.7 196.8h0.6M46.7 209.9h0.6M64.5 197.8h0.6M89.8 216.1h0.6M87.9 215.6h0.6M90.0 198.0h0.6M61.4 192.2h0.6M70.7 214.2h0.6M56.7 214.1h0.6M54.1 204.3h0.6M51.4 209.4h0.6M73.3 212.0h0.6M82.1 209.8h0.6M63.3 196.9h0.6M80.4 201.7h0.6M56.4 200.8h0.6M56.6 211.3h0.6M68.2 209.7h0.6M46.5 206.2h0.6M65.8 197.9h0.6M84.4 205.9h0.6M65.4 209.1h0.6M46.1 207.1h0.6M80.9 201.3h0.6M80.1 199.7h0.6M88.8 212.5h0.6M46.9 209.4h0.6M56.6 199.8h0.6M62.3 195.2h0.6M84.8 200.7h0.6M80.6 196.9h0.6M52.9 208.1h0.6M77.2 200.5h0.6M93.1 205.2h0.6M59.8 198.1h0.6M82.9 203.2h0.6M64.6 198.7h0.6M51.6 209.5h0.6M50.5 202.3h0.6M64.1 197.6h0.6M62.7 218.1h0.6M66.3 197.4h0.6M65.8 209.2h0.6M56.9 211.1h0.6M87.5 202.4h0.6M55.6 198.5h0.6M55.7 200.0h0.6M58.6 211.8h0.6M55.5 211.7h0.6M71.3 215.2h0.6M87.9 212.1h0.6M78.9 195.0h0.6M77.5 213.6h0.6M76.3 210.8h0.6M57.3 200.9h0.6M78.6 201.7h0.6M77.5 215.2h0.6M81.9 211.2h0.6M72.4 198.2h0.6M79.4 198.9h0.6M52.1 195.1h0.6M96.6 206.8h0.6M42.9 213.2h0.6M54.2 201.9h0.6M79.1 212.8h0.6M68.3 197.6h0.6M49.6 208.0h0.6M48.6 205.9h0.6M82.8 203.6h0.6M88.4 202.7h0.6M82.2 212.8h0.6M49.8 210.3h0.6M87.8 205.4h0.6M63.8 209.3h0.6M63.4 200.3h0.6M93.1 207.7h0.6M80.3 198.9h0.6M61.6 196.7h0.6M46.4 207.9h0.6M53.4 209.0h0.6M75.9 196.5h0.6M81.1 199.3h0.6M49.0 212.8h0.6M47.2 199.4h0.6M63.5 197.0h0.6M83.5 213.5h0.6M49.4 202.0h0.6M85.7 214.0h0.6M54.6 201.4h0.6M69.0 196.0h0.6M50.3 201.6h0.6M90.3 202.1h0.6M60.5 194.5h0.6M82.6 199.5h0.6M55.0 209.3h0.6M91.8 201.1h0.6M53.8 207.9h0.6M51.3 214.9h0.6M61.4 194.2h0.6M90.8 212.7h0.6M70.8 197.1h0.6M82.6 203.1h0.6M77.9 195.4h0.6M76.1 210.3h0.6M50.1 203.7h0.6M73.7 198.5h0.6M82.8 201.6h0.6M51.7 213.0h0.6M59.1 197.7h0.6M49.8 199.5h0.6M48.3 212.1h0.6M79.8 196.0h0.6M49.9 211.9h0.6M55.7 204.0h0.6M90.1 211.6h0.6M52.1 201.0h0.6M69.5 210.6h0.6M67.3 197.5h0.6M81.8 206.6h0.6M49.9 205.0h0.6M53.3 203.6h0.6M75.0 197.7h0.6M69.2 194.5h0.6M50.9 214.0h0.6M77.5 199.3h0.6M77.6 199.8h0.6M75.1 212.3h0.6M87.9 209.1h0.6M50.3 211.7h0.6M51.1 210.5h0.6M53.3 202.7h0.6M88.3 208.4h0.6M53.7 204.2h0.6M47.0 204.8h0.6M52.3 200.6h0.6M62.4 195.9h0.6M73.7 195.4h0.6M68.1 192.2h0.6M82.1 209.7h0.6M91.6 199.7h0.6M47.0 208.5h0.6M72.8 193.7h0.6M65.0 196.4h0.6M89.9 197.1h0.6M90.2 211.2h0.6M82.3 195.5h0.6M48.2 205.2h0.6M73.2 213.6h0.6M53.4 207.3h0.6M59.2 212.1h0.6M48.2 202.8h0.6M51.3 208.7h0.6M69.5 214.8h0.6M84.3 196.3h0.6M73.6 211.5h0.6M88.7 200.1h0.6M62.1 219.3h0.6M67.1 197.3h0.6M48.5 208.8h0.6M53.2 208.2h0.6M89.5 212.1h0.6M80.5 212.1h0.6M83.8 211.3h0.6M88.5 198.9h0.6M64.0 196.5h0.6M58.7 212.1h0.6M53.8 210.7h0.6M52.8 201.1h0.6M90.1 212.6h0.6M96.8 213.7h0.6M54.5 203.4h0.6M48.9 207.1h0.6M48.5 201.8h0.6M64.8 195.1h0.6M77.8 199.1h0.6M62.6 195.0h0.6M73.5 209.6h0.6M49.6 210.7h0.6M75.4 198.3h0.6M78.0 199.0h0.6M89.4 215.9h0.6M49.7 201.7h0.6M70.5 198.5h0.6M55.2 203.1h0.6M93.3 207.6h0.6M56.7 196.2h0.6M56.9 201.9h0.6M49.9 216.2h0.6M62.6 195.8h0.6M92.0 216.3h0.6M56.7 207.8h0.6M54.2 201.4h0.6M86.7 202.8h0.6M73.5 216.0h0.6M63.0 200.6h0.6M84.6 214.4h0.6M90.9 202.2h0.6M54.7 204.5h0.6M81.7 198.0h0.6M57.0 213.3h0.6M49.4 207.4h0.6M56.3 215.2h0.6M54.8 201.8h0.6M61.9 215.0h0.6M62.7 213.1h0.6M46.4 198.5h0.6M57.0 200.0h0.6M75.6 198.4h0.6M70.0 213.2h0.6M45.7 215.7h0.6M54.3 211.2h0.6M65.8 216.9h0.6M66.7 217.6h0.6M74.5 223.6h0.6M64.1 216.3h0.6M66.5 215.6h0.6M67.8 213.0h0.6M71.1 218.5h0.6M50.7 212.3h0.6M67.5 225.5h0.6M79.2 216.3h0.6M68.8 219.2h0.6M53.4 213.2h0.6M75.8 219.2h0.6M69.9 225.8h0.6M84.4 213.8h0.6M56.3 211.5h0.6M76.2 216.0h0.6M73.4 212.1h0.6M87.2 212.0h0.6M59.3 218.6h0.6M65.8 217.9h0.6M69.7 211.4h0.6M75.6 215.9h0.6M68.0 225.8h0.6M74.7 221.6h0.6M70.7 222.1h0.6M74.4 218.2h0.6M65.3 226.6h0.6M63.6 228.9h0.6M66.8 226.8h0.6M57.4 224.8h0.6M61.6 215.3h0.6M78.7 227.2h0.6M72.1 214.5h0.6M64.2 215.3h0.6M82.9 214.1h0.6M72.6 234.0h0.6M74.1 213.1h0.6M63.8 214.0h0.6M74.7 220.1h0.6M64.3 214.8h0.6M73.2 220.1h0.6M70.6 223.0h0.6M69.2 222.7h0.6M58.7 219.6h0.6M69.5 216.6h0.6M76.9 215.0h0.6M71.2 220.8h0.6M57.9 215.2h0.6M58.9 217.0h0.6M57.7 212.6h0.6M58.6 224.7h0.6M75.2 236.6h0.6M65.7 215.5h0.6M60.3 233.4h0.6M69.0 214.0h0.6M58.7 226.9h0.6M62.4 223.2h0.6M73.4 211.6h0.6M54.9 211.2h0.6M74.7 221.6h0.6M65.1 227.2h0.6M53.7 226.4h0.6M72.1 225.2h0.6M70.0 235.5h0.6M66.6 216.5h0.6M49.8 217.4h0.6M59.0 218.4h0.6M59.3 222.7h0.6M73.8 223.0h0.6M59.0 211.1h0.6M65.4 217.1h0.6M62.2 219.5h0.6M66.8 237.1h0.6M68.5 214.0h0.6M68.7 217.0h0.6M85.8 211.5h0.6M63.4 226.1h0.6M62.2 217.9h0.6M67.1 214.4h0.6M62.5 215.1h0.6M75.2 221.5h0.6M76.4 224.5h0.6M69.3 217.9h0.6M70.1 222.5h0.6M75.4 220.9h0.6M77.9 213.5h0.6M69.5 217.9h0.6M51.7 220.3h0.6M68.0 217.1h0.6M69.0 213.8h0.6M79.4 213.3h0.6M59.7 217.6h0.6M67.7 232.2h0.6M67.3 220.5h0.6M62.4 217.4h0.6M67.5 219.8h0.6M75.9 215.2h0.6M86.5 219.0h0.6M66.8 217.7h0.6M75.8 222.2h0.6M62.1 212.2h0.6M69.8 218.4h0.6M66.5 230.0h0.6M57.7 217.7h0.6M76.4 217.1h0.6M54.4 228.4h0.6M53.7 211.3h0.6M66.3 213.6h0.6M67.7 212.9h0.6M78.7 212.8h0.6M73.4 211.2h0.6M58.0 216.7h0.6M51.3 213.3h0.6M79.3 215.0h0.6M71.3 219.8h0.6M76.3 215.5h0.6M81.3 213.8h0.6M63.4 216.0h0.6M75.8 215.1h0.6M62.2 212.1h0.6M74.6 219.3h0.6M62.2 213.7h0.6M64.9 216.0h0.6M68.6 213.7h0.6M68.4 213.4h0.6M70.5 225.3h0.6M61.9 220.6h0.6M62.9 218.5h0.6M67.9 229.7h0.6M51.9 213.1h0.6M59.0 212.5h0.6M74.2 219.1h0.6M71.4 214.5h0.6M58.8 224.0h0.6M66.3 216.1h0.6M69.1 211.6h0.6M65.0 217.2h0.6M54.6 211.9h0.6M62.2 226.0h0.6M71.8 213.0h0.6M76.6 217.8h0.6M57.4 212.8h0.6M56.7 214.8h0.6M57.7 216.9h0.6M67.4 216.5h0.6M53.2 217.9h0.6M82.2 227.3h0.6M67.3 216.5h0.6M73.0 218.1h0.6M67.3 236.5h0.6M63.9 214.0h0.6M72.5 219.4h0.6M68.9 211.6h0.6M70.2 216.8h0.6M53.7 224.4h0.6M76.4 215.8h0.6M45.0 214.1h0.6M56.8 215.7h0.6M65.1 218.1h0.6M72.7 211.4h0.6M70.9 212.7h0.6M77.9 213.1h0.6M75.4 222.4h0.6M66.9 231.5h0.6M74.2 218.0h0.6M67.5 212.6h0.6M73.4 213.2h0.6M66.9 214.3h0.6M77.5 217.9h0.6M64.9 225.6h0.6M72.7 211.2h0.6M90.2 212.2h0.6M66.4 213.4h0.6M65.6 218.5h0.6M64.0 214.0h0.6M76.3 215.7h0.6M80.4 212.2h0.6M56.2 214.0h0.6M74.9 229.3h0.6M71.4 219.2h0.6M66.9 223.4h0.6M63.2 220.6h0.6M83.4 217.5h0.6M67.0 219.9h0.6M63.9 229.5h0.6M63.7 227.0h0.6M83.4 214.8h0.6M60.6 216.4h0.6M51.7 214.4h0.6M68.1 214.2h0.6M67.5 216.4h0.6M84.8 218.5h0.6M67.0 213.8h0.6M70.6 211.3h0.6M79.5 223.9h0.6M58.6 222.4h0.6M62.0 217.8h0.6M76.4 217.0h0.6M83.2 211.9h0.6M59.7 218.3h0.6M74.4 216.2h0.6M71.4 225.8h0.6M81.8 223.6h0.6M62.4 214.9h0.6M60.5 215.9h0.6M86.2 217.5h0.6M70.8 212.9h0.6M68.5 213.3h0.6M61.4 214.4h0.6M59.4 212.8h0.6M58.5 211.3h0.6M59.9 219.6h0.6M86.0 218.1h0.6M71.2 227.4h0.6M74.5 212.6h0.6M75.5 218.9h0.6M92.2 221.5h0.6M77.4 226.5h0.6M70.1 225.7h0.6M52.9 212.2h0.6M67.9 231.5h0.6M91.6 231.7h0.6M63.4 237.1h0.6M69.8 211.5h0.6M64.3 211.1h0.6M62.0 219.8h0.6M70.4 213.1h0.6M66.3 226.3h0.6M61.4 221.3h0.6M62.7 216.1h0.6M75.9 215.5h0.6M65.4 217.6h0.6M88.6 211.6h0.6M64.3 212.3h0.6M49.8 218.7h0.6M77.2 212.8h0.6M62.7 213.0h0.6M62.8 213.1h0.6M71.3 223.1h0.6M47.0 221.1h0.6M79.8 213.5h0.6M59.9 236.3h0.6M56.2 216.8h0.6M73.4 213.8h0.6M62.5 214.4h0.6M64.6 212.4h0.6M64.3 220.2h0.6M84.0 221.2h0.6M72.7 211.6h0.6M74.9 216.9h0.6M53.8 215.3h0.6M61.5 214.3h0.6M66.2 237.4h0.6M75.6 223.4h0.6M78.9 213.7h0.6M64.1 214.0h0.6M73.2 227.6h0.6M68.3 219.1h0.6M60.7 214.6h0.6M74.2 215.1h0.6M71.4 216.9h0.6M67.8 212.4h0.6M75.7 254.7h0.6M74.9 213.1h0.6M60.3 220.9h0.6M73.0 214.3h0.6M62.5 212.8h0.6M72.6 215.1h0.6M66.1 227.3h0.6M58.7 219.5h0.6M67.2 222.1h0.6M77.7 212.3h0.6M63.2 222.9h0.6M79.6 213.0h0.6M71.7 219.3h0.6M69.2 215.9h0.6M62.7 219.2h0.6M70.1 211.2h0.6M63.0 218.9h0.6M59.0 214.3h0.6M70.7 227.2h0.6M66.4 214.7h0.6M75.5 225.4h0.6M56.4 213.0h0.6M73.2 216.8h0.6M75.8 212.1h0.6M70.2 218.4h0.6M74.2 217.0h0.6M69.4 212.4h0.6M71.3 218.8h0.6M68.7 216.8h0.6M69.6 214.2h0.6M80.2 233.5h0.6M76.1 219.7h0.6M72.1 231.5h0.6M47.0 231.0h0.6M72.1 215.2h0.6M64.2 214.3h0.6M80.1 218.0h0.6M78.5 213.1h0.6M77.4 224.2h0.6M67.1 217.6h0.6M74.6 222.9h0.6M65.2 214.1h0.6M60.9 217.7h0.6M75.4 215.7h0.6M64.3 237.5h0.6M80.1 218.0h0.6M75.4 213.6h0.6M72.7 213.5h0.6M75.3 216.9h0.6M60.8 220.5h0.6M69.7 218.3h0.6M67.0 214.9h0.6M65.4 222.6h0.6M69.4 234.2h0.6M69.5 220.5h0.6M67.0 220.1h0.6M68.9 219.8h0.6M74.0 230.3h0.6M55.7 212.9h0.6M67.1 228.9h0.6M52.0 213.4h0.6M69.2 224.2h0.6M57.2 221.2h0.6M61.4 215.0h0.6M76.2 219.0h0.6M66.8 219.9h0.6M65.1 212.9h0.6M66.9 218.1h0.6M77.1 212.6h0.6M69.1 214.6h0.6M73.7 221.8h0.6M72.6 211.2h0.6M69.0 211.7h0.6M71.9 212.8h0.6M72.6 216.4h0.6M58.8 215.6h0.6M65.7 221.1h0.6M68.8 214.1h0.6M68.4 215.6h0.6M80.4 220.8h0.6M64.2 211.5h0.6M69.8 213.3h0.6M67.6 213.2h0.6M69.6 213.6h0.6M79.5 215.8h0.6M56.9 212.6h0.6M75.4 221.4h0.6M84.9 229.0h0.6M53.0 211.4h0.6M76.9 212.0h0.6M80.5 211.3h0.6M51.9 211.2h0.6M75.2 230.4h0.6M68.5 215.1h0.6M56.5 214.5h0.6M76.0 229.5h0.6M79.5 212.0h0.6M68.8 221.6h0.6M65.4 215.3h0.6M84.2 214.0h0.6M56.8 212.8h0.6M45.3 214.8h0.6M78.4 221.2h0.6M80.1 214.8h0.6M67.0 224.8h0.6M71.9 215.3h0.6M66.6 227.0h0.6M50.8 212.8h0.6M79.6 213.3h0.6M70.4 216.9h0.6M64.6 211.4h0.6M80.3 211.5h0.6M52.0 214.2h0.6M62.0 221.5h0.6M63.8 226.4h0.6M58.3 211.2h0.6M56.1 216.3h0.6M74.3 226.7h0.6M76.3 225.6h0.6M64.9 231.4h0.6M71.4 232.5h0.6M59.3 227.4h0.6M74.0 220.2h0.6M71.5 224.8h0.6M72.4 218.0h0.6M71.0 220.0h0.6M84.6 214.9h0.6M65.1 212.8h0.6M63.1 215.6h0.6M55.4 215.7h0.6M71.6 216.3h0.6M78.8 218.3h0.6M75.1 219.2h0.6M62.4 214.4h0.6M70.9 216.7h0.6M51.4 220.9h0.6M72.3 213.1h0.6M73.1 211.3h0.6M57.2 217.1h0.6M71.5 218.0h0.6M49.8 231.0h0.6M51.5 233.2h0.6M50.6 214.4h0.6M50.7 234.8h0.6M51.6 237.7h0.6M49.5 238.2h0.6M50.9 218.2h0.6M45.5 223.9h0.6M48.3 236.5h0.6M51.0 217.7h0.6M50.9 230.8h0.6M51.2 244.5h0.6M50.1 224.2h0.6M50.2 228.2h0.6M51.1 234.3h0.6M49.0 228.8h0.6M55.1 233.8h0.6M47.2 244.8h0.6M49.5 226.1h0.6M50.3 223.1h0.6M45.6 224.0h0.6M51.9 217.2h0.6M51.1 232.6h0.6M45.7 234.5h0.6M51.4 220.7h0.6M45.5 229.5h0.6M45.6 236.1h0.6M48.2 245.1h0.6M49.6 238.0h0.6M53.9 233.4h0.6M54.9 235.0h0.6M51.3 230.0h0.6M50.0 236.2h0.6M51.0 239.4h0.6M53.5 245.0h0.6M47.4 234.9h0.6M51.4 219.0h0.6M47.1 233.8h0.6M53.7 216.2h0.6M48.2 229.3h0.6M48.6 235.9h0.6M47.7 219.0h0.6M49.2 242.7h0.6M49.7 238.0h0.6M51.4 226.2h0.6M49.5 236.7h0.6M48.1 233.1h0.6M49.5 240.2h0.6M49.2 218.5h0.6M50.6 225.5h0.6M49.6 224.9h0.6M46.9 232.7h0.6M47.9 218.9h0.6M51.0 232.4h0.6M52.9 224.4h0.6M50.6 243.8h0.6M48.7 219.2h0.6M50.8 217.5h0.6M54.8 229.1h0.6M45.9 217.1h0.6M59.0 219.7h0.6M49.2 230.7h0.6M48.9 242.9h0.6M48.9 224.7h0.6M48.5 239.1h0.6M49.8 217.4h0.6M54.1 234.2h0.6M51.8 236.4h0.6M46.8 233.4h0.6M48.6 241.5h0.6M46.3 237.8h0.6M45.8 230.5h0.6M48.6 240.5h0.6M50.1 242.6h0.6M51.1 222.2h0.6M48.0 240.1h0.6M48.2 246.0h0.6M42.5 243.7h0.6M47.0 241.4h0.6M51.7 226.1h0.6M55.4 215.1h0.6M47.1 241.5h0.6M53.3 242.4h0.6M51.2 241.1h0.6M43.6 228.7h0.6M51.8 230.9h0.6M50.8 228.6h0.6M53.3 225.0h0.6M49.1 227.5h0.6M50.1 224.5h0.6M47.1 220.3h0.6M50.2 235.0h0.6M49.1 228.3h0.6M49.6 243.6h0.6M47.4 224.0h0.6M48.4 241.6h0.6M47.4 226.1h0.6M46.2 232.5h0.6M50.7 243.2h0.6M56.2 226.0h0.6M47.1 226.7h0.6M52.6 244.8h0.6M49.8 225.0h0.6M53.6 216.0h0.6M49.4 224.6h0.6M55.5 222.2h0.6M54.4 220.7h0.6M49.5 242.0h0.6M50.1 227.6h0.6M48.9 227.1h0.6M49.5 228.8h0.6M48.3 233.3h0.6M52.9 238.7h0.6M45.7 243.2h0.6M46.8 227.4h0.6M51.0 224.8h0.6M47.7 236.7h0.6M49.9 229.6h0.6M52.3 236.1h0.6M47.0 233.1h0.6M47.3 229.7h0.6M50.3 220.2h0.6M42.1 223.8h0.6M49.1 219.7h0.6M49.7 225.0h0.6M50.6 238.2h0.6M51.6 236.2h0.6M48.4 226.7h0.6M46.7 240.9h0.6M44.7 224.7h0.6M47.2 240.3h0.6M54.3 235.0h0.6M53.7 220.8h0.6M44.1 222.1h0.6M49.0 220.2h0.6M47.6 239.3h0.6M50.1 233.0h0.6M48.5 214.2h0.6M53.2 233.8h0.6M51.7 234.4h0.6M48.0 226.5h0.6M54.0 217.7h0.6M50.5 235.1h0.6M52.9 226.0h0.6M53.2 234.3h0.6M51.3 244.7h0.6M47.6 240.2h0.6M50.5 225.6h0.6M48.2 226.7h0.6M48.3 223.5h0.6M49.6 236.8h0.6M50.0 233.8h0.6M52.1 220.2h0.6M55.1 236.1h0.6M49.8 231.0h0.6M47.5 233.5h0.6M51.7 226.9h0.6M53.0 236.7h0.6M54.7 233.5h0.6M52.4 228.2h0.6M50.9 223.0h0.6M52.3 245.8h0.6M50.1 233.8h0.6M48.2 240.2h0.6M45.4 218.7h0.6M47.8 232.0h0.6M47.7 240.1h0.6M54.0 215.5h0.6M52.1 229.8h0.6M53.6 220.7h0.6M50.4 227.4h0.6M46.8 216.0h0.6M56.1 230.1h0.6M52.1 244.4h0.6M48.5 241.2h0.6M45.9 236.4h0.6M50.8 225.4h0.6M52.9 240.5h0.6M53.0 222.7h0.6M45.3 244.7h0.6M45.8 237.3h0.6M51.7 225.6h0.6M51.9 223.6h0.6M46.8 214.4h0.6M51.8 233.0h0.6M54.2 227.4h0.6M45.6 235.3h0.6M50.9 225.1h0.6M52.7 230.4h0.6M48.8 222.1h0.6M44.1 230.8h0.6M47.1 225.6h0.6M53.6 224.5h0.6M47.5 237.3h0.6M46.1 235.0h0.6M45.1 232.2h0.6M48.1 220.6h0.6M50.5 216.6h0.6M45.8 244.8h0.6M48.7 221.0h0.6M50.7 233.6h0.6M46.7 235.0h0.6M56.4 224.4h0.6M53.7 243.6h0.6M52.2 233.5h0.6M48.8 217.5h0.6M52.1 241.9h0.6M51.8 222.4h0.6M53.7 234.4h0.6M46.8 225.7h0.6M49.2 233.7h0.6M49.4 236.7h0.6M49.3 233.2h0.6M53.0 242.2h0.6M48.4 242.9h0.6M46.6 227.6h0.6M45.2 231.7h0.6M49.7 234.4h0.6M56.3 226.8h0.6M54.1 237.1h0.6M46.2 225.1h0.6M54.9 244.3h0.6M52.5 243.3h0.6M53.3 216.3h0.6M48.3 238.8h0.6M44.6 223.1h0.6M52.1 233.6h0.6M54.2 238.1h0.6M46.6 237.9h0.6M50.3 241.4h0.6M47.5 217.3h0.6M49.3 224.5h0.6M48.8 229.7h0.6M49.4 236.4h0.6M50.1 227.4h0.6M48.0 244.8h0.6M49.8 229.1h0.6M51.5 234.2h0.6M51.0 237.9h0.6M50.1 236.0h0.6M49.3 243.6h0.6M53.2 239.9h0.6M47.5 222.0h0.6M50.4 236.5h0.6M48.2 223.7h0.6M57.4 226.4h0.6M51.3 232.7h0.6M48.1 234.7h0.6M47.2 216.0h0.6M54.6 224.2h0.6M49.8 236.5h0.6M48.9 233.9h0.6M51.2 228.0h0.6M52.7 224.0h0.6M48.6 240.3h0.6M51.1 243.8h0.6M47.7 242.7h0.6M51.3 244.0h0.6M51.7 234.5h0.6M50.6 233.2h0.6M43.4 253.1h0.6M42.1 252.9h0.6M48.2 254.9h0.6M42.9 248.6h0.6M44.4 252.0h0.6M47.9 254.0h0.6M52.2 247.1h0.6M51.9 245.7h0.6M46.9 253.2h0.6M42.8 251.7h0.6M50.0 246.8h0.6M51.2 246.8h0.6M57.3 249.4h0.6M51.4 244.3h0.6M42.6 251.7h0.6M49.1 245.2h0.6M53.9 248.0h0.6M43.0 247.6h0.6M47.0 253.5h0.6M44.7 252.4h0.6M41.2 250.4h0.6M56.3 248.1h0.6M50.3 246.3h0.6M56.6 251.5h0.6M52.1 247.7h0.6M52.4 247.6h0.6M42.1 248.8h0.6M56.8 248.9h0.6M47.8 246.5h0.6M40.7 248.5h0.6M54.4 247.5h0.6M49.4 246.3h0.6M38.9 250.9h0.6M54.3 251.1h0.6M46.7 246.7h0.6M52.5 247.7h0.6M56.1 252.4h0.6M56.6 248.7h0.6M57.0 251.5h0.6M49.5 253.0h0.6M53.3 246.3h0.6M51.8 253.4h0.6M42.4 252.6h0.6M43.9 248.0h0.6M56.9 248.8h0.6M47.9 253.9h0.6M54.2 251.4h0.6M49.2 254.0h0.6M49.3 253.1h0.6M47.1 253.7h0.6M45.1 246.7h0.6M54.7 251.2h0.6M47.2 253.5h0.6M54.3 247.8h0.6M55.5 249.1h0.6M52.1 253.6h0.6M49.0 246.5h0.6M42.2 253.7h0.6M47.9 253.6h0.6M55.1 249.5h0.6M47.6 246.6h0.6M51.7 246.9h0.6M55.0 251.1h0.6M54.0 252.0h0.6M48.2 245.8h0.6M53.1 252.2h0.6M40.6 247.9h0.6M48.8 246.9h0.6M49.1 253.1h0.6M43.9 247.4h0.6M41.8 248.8h0.6M47.3 246.9h0.6M50.7 246.9h0.6M43.8 247.3h0.6M56.4 248.4h0.6M54.5 252.4h0.6M47.5 255.2h0.6M51.7 246.6h0.6M55.8 252.2h0.6M44.7 252.2h0.6M52.1 246.4h0.6M47.5 253.3h0.6M41.1 250.7h0.6M44.9 247.8h0.6M43.0 252.1h0.6M55.1 251.9h0.6M47.2 254.0h0.6M54.7 247.4h0.6M50.1 246.5h0.6M54.9 248.8h0.6M43.4 248.0h0.6M46.8 253.4h0.6M43.6 247.7h0.6M55.2 247.9h0.6M53.8 246.8h0.6M41.8 250.3h0.6M42.7 251.7h0.6M45.2 246.8h0.6M45.2 246.9h0.6M51.3 245.9h0.6M51.3 253.0h0.6M42.8 248.9h0.6M46.7 253.1h0.6M51.2 246.7h0.6M53.6 247.9h0.6M50.5 245.7h0.6M54.4 248.2h0.6M54.0 247.9h0.6M49.9 253.7h0.6M47.1 254.9h0.6M44.9 252.2h0.6M56.6 249.7h0.6M55.6 248.9h0.6M48.5 246.3h0.6M48.5 246.2h0.6M56.1 249.1h0.6M45.8 253.5h0.6M47.6 254.0h0.6M55.3 249.0h0.6M50.4 253.8h0.6M49.4 253.1h0.6M44.7 252.1h0.6M55.1 248.2h0.6M53.8 252.0h0.6M49.2 246.9h0.6M46.8 246.8h0.6M57.2 248.5h0.6M58.0 251.4h0.6M52.8 253.0h0.6M53.9 252.1h0.6M46.0 246.0h0.6M42.5 247.8h0.6M43.5 246.6h0.6M48.7 246.7h0.6M54.1 251.1h0.6M42.7 252.6h0.6M55.4 249.8h0.6M42.1 247.6h0.6M57.1 251.4h0.6M46.0 253.2h0.6M55.2 252.4h0.6M52.2 246.7h0.6M56.3 249.4h0.6M55.0 251.4h0.6M53.8 247.0h0.6M47.8 246.7h0.6M54.1 251.4h0.6M56.6 250.8h0.6M45.5 246.9h0.6M46.0 253.5h0.6M40.9 245.9h0.6M55.5 249.0h0.6M52.8 247.8h0.6M55.3 251.3h0.6M43.4 252.0h0.6M49.7 246.8h0.6M45.3 246.3h0.6M45.5 246.6h0.6M53.1 253.0h0.6M44.2 253.1h0.6M53.4 246.2h0.6M46.5 246.8h0.6M42.7 248.8h0.6M57.8 248.2h0.6M49.9 254.0h0.6M47.9 245.5h0.6M43.7 252.5h0.6M49.5 246.3h0.6M42.8 251.5h0.6M41.6 250.9h0.6M53.1 252.7h0.6M42.9 248.3h0.6M50.4 253.3h0.6M52.9 247.9h0.6M41.0 250.6h0.6M62.7 234.1h0.6M56.8 233.8h0.6M79.6 180.1h0.6M42.1 244.2h0.6M38.5 206.0h0.6M85.9 234.3h0.6M87.8 228.8h0.6M70.0 228.7h0.6M83.6 242.1h0.6M69.7 191.2h0.6M48.3 218.0h0.6M60.4 220.8h0.6M68.3 244.5h0.6M58.5 227.1h0.6M37.0 191.7h0.6M48.0 180.1h0.6M36.5 196.5h0.6M43.4 198.8h0.6M38.3 221.1h0.6M85.0 243.1h0.6M55.1 196.9h0.6M89.0 236.7h0.6M49.5 188.2h0.6M51.1 190.3h0.6M54.0 195.3h0.6M80.0 230.4h0.6M73.5 236.6h0.6M87.7 189.9h0.6M40.0 226.6h0.6M50.2 239.2h0.6M51.1 214.3h0.6M89.7 200.6h0.6M64.9 196.1h0.6M89.6 241.9h0.6" stroke="#111" stroke-width="0.6"/><line x1="147.9" y1="169" x2="147.9" y2="255.5" stroke="#222" stroke-width="1"/><line x1="145.1" y1="255" x2="147.9" y2="255" stroke="#222" stroke-width="0.9"/><text x="142" y="257.1" font-size="5.8" text-anchor="end" transform="rotate(0.05 142 257.1)" letter-spacing="0.3">0</text><line x1="145.1" y1="238.34" x2="147.9" y2="238.34" stroke="#222" stroke-width="0.9"/><text x="142" y="240.44" font-size="5.8" text-anchor="end" transform="rotate(0.05 142 240.44)" letter-spacing="0.3">20</text><line x1="145.1" y1="221.68" x2="147.9" y2="221.68" stroke="#222" stroke-width="0.9"/><text x="142" y="223.78" font-size="5.8" text-anchor="end" transform="rotate(0.05 142 223.78)" letter-spacing="0.3">40</text><line x1="145.1" y1="205.02" x2="147.9" y2="205.02" stroke="#222" stroke-width="0.9"/><text x="142" y="207.12" font-size="5.8" text-anchor="end" transform="rotate(0.05 142 207.12)" letter-spacing="0.3">60</text><line x1="145.1" y1="188.36" x2="147.9" y2="188.36" stroke="#222" stroke-width="0.9"/><text x="142" y="190.46" font-size="5.8" text-anchor="end" transform="rotate(0.05 142 190.46)" letter-spacing="0.3">80</text><line x1="145.1" y1="171.7" x2="147.9" y2="171.7" stroke="#222" stroke-width="0.9"/><text x="142" y="173.8" font-size="5.8" text-anchor="end" transform="rotate(0.05 142 173.8)" letter-spacing="0.3">100</text><line x1="147.4" y1="255" x2="203" y2="255" stroke="#222" stroke-width="1"/><line x1="162.6" y1="255" x2="162.6" y2="257.6" stroke="#222" stroke-width="0.9"/><line x1="189.4" y1="255" x2="189.4" y2="257.6" stroke="#222" stroke-width="0.9"/><text x="162.6" y="266.2" font-size="6" text-anchor="middle" transform="rotate(0.05 162.6 266.2)">–</text><text x="189.4" y="266.6" font-size="6" text-anchor="middle" transform="rotate(0.05 189.4 266.6)">+</text><text x="176.4" y="277.6" font-size="7.2" text-anchor="middle" font-weight="bold" textLength="26.5" lengthAdjust="spacingAndGlyphs" transform="rotate(0.05 176.4 277.6)">S100A8/A9</text><text x="127.1" y="211.5" font-size="6.4" text-anchor="middle" font-weight="bold" textLength="25" lengthAdjust="spacingAndGlyphs" transform="rotate(-90 127.1 211.5)">% positive</text><path d="M189.7 181.2h0M186.5 190.2h0M193.7 190.2h0" stroke="#c8102e" stroke-width="4.6" stroke-linecap="round"/><line x1="181.6" y1="186.7" x2="198.9" y2="186.7" stroke="#111" stroke-width="1"/><line x1="190" y1="184.1" x2="190" y2="189.3" stroke="#111" stroke-width="0.9"/><line x1="187" y1="184.1" x2="193" y2="184.1" stroke="#111" stroke-width="0.9"/><line x1="187" y1="189.3" x2="193" y2="189.3" stroke="#111" stroke-width="0.9"/><text x="189.8" y="178.5" font-size="6" text-anchor="middle" font-weight="bold" fill="#111" textLength="11.2" lengthAdjust="spacingAndGlyphs" transform="rotate(0.05 189.8 178.5)">****</text><path d="M156 254.6h0M162 254.6h0M168.3 254.6h0" stroke="#143a60" stroke-width="4.6" stroke-linecap="round"/><text x="213.3" y="160.4" font-size="11" font-weight="bold" fill="#111" textLength="6.6" lengthAdjust="spacingAndGlyphs" transform="rotate(0.05 213.3 160.4)" stroke="#111" stroke-width="0.5">F</text><text x="311.3" y="161.2" font-size="8.3" text-anchor="middle" textLength="48.5" lengthAdjust="spacingAndGlyphs" transform="rotate(0.05 311.3 161.2)">IFITM3 mRNA</text><line x1="229.6" y1="164.3" x2="396" y2="164.3" stroke="#222" stroke-width="1"/><rect x="236" y="170.8" width="86" height="84.4" fill="none" stroke="#666" stroke-width="0.8"/><line x1="265.5" y1="170.8" x2="265.5" y2="255.2" stroke="#444" stroke-width="0.8"/><line x1="236" y1="239.6" x2="322" y2="239.6" stroke="#444" stroke-width="0.8"/><text x="242.6" y="178.8" font-size="5.6" text-anchor="middle" transform="rotate(0.05 242.6 178.8)">16.0</text><text x="311" y="178.2" font-size="5.6" text-anchor="middle" transform="rotate(0.05 311 178.2)">8.35</text><text x="241.8" y="252.2" font-size="5.6" text-anchor="middle" transform="rotate(0.05 241.8 252.2)">76.0</text><text x="311" y="252.2" font-size="5.6" text-anchor="middle" transform="rotate(0.05 311 252.2)">1.70</text><text x="234.8" y="179.4" font-size="6.5" text-anchor="end" transform="rotate(0.05 234.8 179.4)">10<tspan dy="-2.7" font-size="4.4">6</tspan></text><line x1="234.5" y1="177" x2="236" y2="177" stroke="#333" stroke-width="0.8"/><text x="234.8" y="199.7" font-size="6.5" text-anchor="end" transform="rotate(0.05 234.8 199.7)">10<tspan dy="-2.7" font-size="4.4">5</tspan></text><line x1="234.5" y1="197.3" x2="236" y2="197.3" stroke="#333" stroke-width="0.8"/><text x="234.8" y="219.4" font-size="6.5" text-anchor="end" transform="rotate(0.05 234.8 219.4)">10<tspan dy="-2.7" font-size="4.4">4</tspan></text><line x1="234.5" y1="217" x2="236" y2="217" stroke="#333" stroke-width="0.8"/><text x="234.8" y="239" font-size="6.5" text-anchor="end" transform="rotate(0.05 234.8 239)">10<tspan dy="-2.7" font-size="4.4">3</tspan></text><line x1="234.5" y1="236.6" x2="236" y2="236.6" stroke="#333" stroke-width="0.8"/><text x="231.6" y="252.4" font-size="6.5" text-anchor="end" transform="rotate(0.05 231.6 252.4)">0</text><line x1="234.5" y1="250" x2="236" y2="250" stroke="#333" stroke-width="0.8"/><text x="250.4" y="265.8" font-size="6.5" text-anchor="middle" transform="rotate(0.05 250.4 265.8)">0</text><text x="265.4" y="265.8" font-size="6.5" text-anchor="middle" transform="rotate(0.05 265.4 265.8)">10<tspan dy="-2.7" font-size="4.4">3</tspan></text><text x="288.5" y="265.8" font-size="6.5" text-anchor="middle" transform="rotate(0.05 288.5 265.8)">10<tspan dy="-2.7" font-size="4.4">4</tspan></text><text x="313.9" y="265.8" font-size="6.5" text-anchor="middle" transform="rotate(0.05 313.9 265.8)">10<tspan dy="-2.7" font-size="4.4">5</tspan></text><line x1="218.5" y1="246.8" x2="218.5" y2="270.8" stroke="#222" stroke-width="0.9"/><line x1="218.5" y1="270.8" x2="242.7" y2="270.8" stroke="#222" stroke-width="0.9"/><path d="M218.5 243.8l-1.8 4h3.6zM245.7 270.8l-4 -1.8v3.6z" fill="#222"/><text x="265.3" y="273.6" font-size="7.6" text-anchor="middle" font-weight="bold" textLength="34.1" lengthAdjust="spacingAndGlyphs" transform="rotate(0.05 265.3 273.6)">IFITM3 mRNA</text><text x="221.5" y="215.4" font-size="7.2" text-anchor="middle" font-weight="bold" textLength="45.8" lengthAdjust="spacingAndGlyphs" transform="rotate(-90 221.5 215.4)">S100A8/A9 protein</text><path d="M279 190h1v1h-1zM282 190h1v1h-1zM285 190h1v1h-1zM280 191h1v1h-1zM282 191h1v1h-1zM281 192h2v1h-2zM278 193h1v1h-1zM280 193h1v1h-1zM282 193h1v1h-1zM279 194h1v1h-1zM286 195h1v1h-1zM275 196h1v1h-1zM279 196h1v1h-1zM254 209h1v1h-1zM257 211h1v1h-1zM255 212h1v1h-1zM254 214h1v1h-1zM252 215h2v1h-2zM255 215h1v1h-1zM258 215h1v1h-1zM255 216h2v1h-2zM253 218h2v1h-2zM257 218h1v1h-1zM256 219h1v1h-1zM252 220h1v1h-1zM254 220h2v1h-2zM254 221h1v1h-1zM256 221h1v1h-1zM259 221h1v1h-1zM254 222h2v1h-2zM251 223h2v1h-2zM254 223h2v1h-2zM254 224h1v1h-1zM256 224h3v1h-3zM252 225h3v1h-3zM257 225h1v1h-1zM252 226h2v1h-2zM257 226h1v1h-1zM253 227h1v1h-1zM255 227h1v1h-1zM257 227h1v1h-1zM252 228h1v1h-1zM254 228h5v1h-5zM254 229h3v1h-3zM255 230h2v1h-2zM253 231h1v1h-1zM258 231h1v1h-1zM254 232h1v1h-1zM256 232h3v1h-3zM253 233h1v1h-1zM255 233h2v1h-2zM252 234h1v1h-1zM254 234h5v1h-5zM253 235h1v1h-1zM255 235h3v1h-3zM251 236h1v1h-1zM254 236h4v1h-4zM252 237h5v1h-5zM251 238h1v1h-1zM253 238h1v1h-1zM255 238h2v1h-2zM253 239h2v1h-2zM256 239h2v1h-2zM263 242h1v1h-1zM248 243h2v1h-2zM252 243h2v1h-2zM255 243h1v1h-1zM257 243h3v1h-3zM262 243h5v1h-5zM268 243h1v1h-1zM248 244h16v1h-16zM265 244h4v1h-4zM248 245h21v1h-21zM248 246h15v1h-15zM265 246h2v1h-2zM248 247h11v1h-11zM261 247h3v1h-3zM248 248h6v1h-6zM248 249h1v1h-1z" fill="#111"/><path d="M258.0 235.9h0.6M250.6 225.5h0.6M259.1 214.6h0.6M255.1 225.1h0.6M252.2 232.4h0.6M259.4 221.0h0.6M257.4 222.4h0.6M257.0 238.5h0.6M250.3 225.7h0.6M252.9 219.4h0.6M250.7 219.0h0.6M248.6 224.3h0.6M254.2 216.8h0.6M252.3 219.3h0.6M253.7 229.1h0.6M251.0 210.4h0.6M251.6 213.3h0.6M259.9 238.3h0.6M258.1 216.4h0.6M257.5 223.6h0.6M254.2 231.2h0.6M252.2 209.0h0.6M257.2 219.7h0.6M256.7 213.0h0.6M257.7 212.6h0.6M259.1 235.9h0.6M257.7 216.2h0.6M251.9 225.0h0.6M253.5 211.9h0.6M261.5 237.9h0.6M252.6 230.8h0.6M252.4 216.5h0.6M254.8 226.4h0.6M252.3 213.2h0.6M254.3 216.6h0.6M253.8 210.4h0.6M253.6 210.2h0.6M256.8 227.8h0.6M255.2 210.2h0.6M253.1 224.9h0.6M257.7 237.6h0.6M258.8 213.6h0.6M252.1 224.7h0.6M251.8 214.8h0.6M260.1 217.2h0.6M253.0 229.9h0.6M260.1 231.3h0.6M256.3 213.1h0.6M249.2 233.8h0.6M253.0 219.4h0.6M253.5 217.0h0.6M260.4 212.3h0.6M244.1 239.7h0.6M254.3 216.1h0.6M254.4 235.4h0.6M250.4 213.1h0.6M258.6 223.2h0.6M253.3 219.1h0.6M257.6 237.6h0.6M251.9 214.7h0.6M261.1 236.4h0.6M258.5 209.9h0.6M260.1 237.5h0.6M252.3 213.4h0.6M258.3 216.9h0.6M260.6 210.9h0.6M258.1 235.4h0.6M257.7 231.6h0.6M258.7 218.9h0.6M259.5 231.4h0.6M259.5 224.2h0.6M255.0 239.7h0.6M252.8 221.5h0.6M260.5 218.9h0.6M250.4 237.3h0.6M261.0 217.1h0.6M259.3 211.0h0.6M250.5 219.8h0.6M260.0 237.0h0.6M257.3 219.6h0.6M253.5 236.0h0.6M253.4 217.8h0.6M263.0 212.9h0.6M247.6 227.8h0.6M244.6 230.7h0.6M250.0 212.5h0.6M251.9 221.3h0.6M249.5 225.5h0.6M254.6 233.2h0.6M259.3 232.0h0.6M253.6 222.2h0.6M259.4 219.5h0.6M255.4 218.8h0.6M252.9 221.0h0.6M254.4 213.3h0.6M255.1 226.5h0.6M261.3 210.7h0.6M259.0 237.2h0.6M258.3 211.0h0.6M256.5 212.9h0.6M253.3 236.1h0.6M257.0 207.8h0.6M259.6 229.2h0.6M250.5 235.1h0.6M249.3 210.1h0.6M253.9 208.5h0.6M259.1 237.6h0.6M258.4 225.2h0.6M257.0 215.3h0.6M258.0 233.2h0.6M252.7 231.9h0.6M254.2 219.3h0.6M248.7 227.3h0.6M251.4 232.1h0.6M254.2 231.5h0.6M254.3 213.8h0.6M261.4 226.5h0.6M251.2 214.2h0.6M250.5 229.3h0.6M256.3 209.2h0.6M248.0 238.5h0.6M254.3 226.2h0.6M264.0 230.3h0.6M252.9 222.2h0.6M248.8 214.4h0.6M258.5 221.5h0.6M251.4 233.9h0.6M249.1 217.5h0.6M254.6 230.8h0.6M250.4 235.0h0.6M259.8 220.0h0.6M253.8 232.1h0.6M255.3 226.7h0.6M251.2 234.5h0.6M250.1 238.8h0.6M258.4 219.0h0.6M263.8 225.5h0.6M255.2 219.8h0.6M258.7 236.8h0.6M260.5 212.4h0.6M255.9 213.3h0.6M249.6 238.4h0.6M257.1 210.2h0.6M254.9 230.9h0.6M251.8 226.9h0.6M260.0 228.2h0.6M257.1 230.4h0.6M259.8 234.9h0.6M252.0 210.5h0.6M252.7 239.4h0.6M251.6 217.4h0.6M255.5 211.3h0.6M255.5 209.1h0.6M259.0 212.8h0.6M253.9 222.2h0.6M259.6 226.5h0.6M250.7 218.2h0.6M260.5 232.7h0.6M256.8 215.8h0.6M256.3 225.7h0.6M258.9 217.4h0.6M252.0 229.7h0.6M257.7 208.0h0.6M263.7 222.1h0.6M253.6 219.4h0.6M258.5 221.5h0.6M247.0 226.9h0.6M256.4 212.9h0.6M251.4 224.1h0.6M252.3 216.9h0.6M249.7 220.7h0.6M252.2 232.9h0.6M258.7 229.2h0.6M250.1 225.4h0.6M254.5 235.7h0.6M261.1 216.4h0.6M260.9 212.5h0.6M255.4 222.0h0.6M259.6 239.4h0.6M255.3 231.7h0.6M253.4 223.4h0.6M254.9 230.3h0.6M253.4 211.4h0.6M254.1 213.5h0.6M260.2 238.3h0.6M260.8 230.3h0.6M258.8 208.9h0.6M250.3 212.2h0.6M257.9 223.3h0.6M247.3 224.6h0.6M252.9 227.9h0.6M259.7 212.9h0.6M256.4 214.9h0.6M252.9 217.1h0.6M252.7 230.4h0.6M259.0 235.5h0.6M253.3 223.9h0.6M249.4 232.6h0.6M251.8 218.3h0.6M250.3 227.6h0.6M254.1 212.5h0.6M249.9 226.5h0.6M254.3 219.2h0.6M259.4 217.9h0.6M261.3 216.2h0.6M261.9 222.6h0.6M259.1 235.6h0.6M256.4 218.7h0.6M250.1 223.9h0.6M255.3 213.1h0.6M250.1 229.6h0.6M250.1 210.4h0.6M253.9 210.4h0.6M261.1 212.3h0.6M258.8 237.5h0.6M253.8 228.1h0.6M252.0 238.9h0.6M260.4 236.8h0.6M249.5 223.6h0.6M252.8 216.8h0.6M259.2 223.7h0.6M251.3 232.6h0.6M261.4 238.2h0.6M251.8 219.4h0.6M257.2 237.6h0.6M256.8 218.7h0.6M249.4 217.2h0.6M251.4 230.0h0.6M257.5 210.5h0.6M258.2 229.6h0.6M250.9 236.6h0.6M248.5 209.5h0.6M257.2 210.1h0.6M250.4 237.5h0.6M263.9 239.0h0.6M260.9 218.2h0.6M259.4 218.3h0.6M252.7 222.0h0.6M255.8 221.2h0.6M252.8 227.2h0.6M248.5 216.9h0.6M251.5 220.9h0.6M251.9 209.0h0.6M256.8 209.6h0.6M258.8 239.8h0.6M247.2 231.1h0.6M260.6 215.7h0.6M254.0 211.2h0.6M250.8 222.2h0.6M250.5 229.8h0.6M259.2 239.6h0.6M250.2 236.8h0.6M255.7 225.5h0.6M256.9 212.0h0.6M250.8 238.4h0.6M254.9 217.0h0.6M263.3 218.8h0.6M261.4 220.6h0.6M256.3 223.5h0.6M260.9 223.7h0.6M258.9 234.0h0.6M258.2 238.6h0.6M255.1 218.1h0.6M255.5 209.4h0.6M257.6 213.5h0.6M255.2 214.6h0.6M251.4 229.5h0.6M251.8 224.2h0.6M252.6 213.1h0.6M250.0 224.8h0.6M260.5 214.4h0.6M257.5 212.7h0.6M261.5 238.2h0.6M257.9 215.0h0.6M250.1 233.3h0.6M250.9 224.5h0.6M258.1 217.7h0.6M256.5 215.7h0.6M248.9 231.8h0.6M251.1 230.8h0.6M255.9 221.8h0.6M252.3 216.3h0.6M255.6 232.4h0.6M248.0 223.4h0.6M251.6 230.8h0.6M252.0 231.3h0.6M256.5 220.9h0.6M251.6 231.8h0.6M260.4 224.3h0.6M249.0 237.8h0.6M260.0 239.1h0.6M253.9 220.0h0.6M252.9 212.5h0.6M256.7 227.8h0.6M258.5 217.1h0.6M255.6 226.7h0.6M258.0 235.8h0.6M247.8 217.5h0.6M258.4 213.5h0.6M257.4 216.6h0.6M255.6 226.0h0.6M259.5 214.0h0.6M259.3 226.1h0.6M262.2 215.5h0.6M261.3 236.2h0.6M258.0 223.2h0.6M253.6 208.0h0.6M256.1 214.6h0.6M248.8 239.5h0.6M250.7 223.2h0.6M261.4 236.8h0.6M251.4 222.7h0.6M252.2 219.0h0.6M255.3 217.4h0.6M251.5 212.1h0.6M262.1 214.8h0.6M254.4 231.7h0.6M259.3 229.4h0.6M247.6 222.5h0.6M250.3 237.6h0.6M256.1 210.0h0.6M260.6 219.7h0.6M250.3 235.0h0.6M260.3 238.2h0.6M257.1 214.9h0.6M260.5 223.4h0.6M249.5 209.6h0.6M251.6 209.6h0.6M250.4 239.1h0.6M258.1 212.0h0.6M252.1 227.4h0.6M260.6 226.8h0.6M254.5 235.4h0.6M252.1 233.0h0.6M253.4 224.7h0.6M260.4 222.6h0.6M251.9 233.3h0.6M252.8 233.6h0.6M249.2 235.8h0.6M255.1 221.8h0.6M260.2 213.8h0.6M259.2 228.5h0.6M261.1 209.6h0.6M259.3 223.6h0.6M252.1 235.9h0.6M257.1 231.1h0.6M251.6 228.1h0.6M261.4 235.1h0.6M263.4 234.4h0.6M247.9 231.6h0.6M249.5 211.5h0.6M250.0 226.9h0.6M261.3 216.1h0.6M258.0 211.7h0.6M255.8 208.0h0.6M253.3 220.6h0.6M258.6 233.4h0.6M256.5 208.7h0.6M259.5 226.1h0.6M259.8 231.9h0.6M257.3 221.2h0.6M252.5 230.9h0.6M258.9 239.8h0.6M262.7 214.7h0.6M260.1 236.0h0.6M256.1 210.7h0.6M258.9 220.3h0.6M255.4 210.0h0.6M251.8 234.0h0.6M255.8 225.7h0.6M257.3 220.9h0.6M255.9 219.0h0.6M253.5 220.6h0.6M262.5 238.5h0.6M251.2 239.2h0.6M254.1 238.0h0.6M254.1 227.1h0.6M253.1 229.7h0.6M252.2 214.9h0.6M250.9 219.3h0.6M251.3 227.3h0.6M254.7 210.2h0.6M249.7 231.0h0.6M259.8 216.6h0.6M258.3 225.0h0.6M258.3 217.4h0.6M247.9 235.3h0.6M257.1 212.5h0.6M253.1 212.1h0.6M257.6 229.3h0.6M253.5 208.3h0.6M251.6 226.8h0.6M256.4 227.1h0.6M251.5 221.5h0.6M250.0 223.8h0.6M255.1 226.7h0.6M248.8 233.7h0.6M259.4 222.9h0.6M258.7 219.8h0.6M258.4 219.8h0.6M249.6 239.8h0.6M251.5 220.7h0.6M257.5 215.6h0.6M261.4 223.9h0.6M261.3 213.4h0.6M254.9 226.7h0.6M256.5 215.5h0.6M254.4 212.5h0.6M254.0 216.4h0.6M252.4 230.9h0.6M266.0 214.3h0.6M253.0 212.3h0.6M253.4 209.6h0.6M253.9 222.3h0.6M259.1 213.2h0.6M253.8 221.9h0.6M254.9 233.7h0.6M259.0 210.2h0.6M261.6 238.4h0.6M263.5 223.4h0.6M255.0 232.5h0.6M256.5 227.2h0.6M254.6 215.8h0.6M251.6 221.3h0.6M252.9 238.3h0.6M251.8 231.4h0.6M250.0 239.0h0.6M252.9 218.3h0.6M253.4 217.2h0.6M253.0 219.4h0.6M260.9 219.0h0.6M253.1 234.8h0.6M258.4 235.6h0.6M253.6 228.0h0.6M264.7 213.9h0.6M254.4 215.0h0.6M250.7 211.7h0.6M260.1 224.6h0.6M258.5 234.0h0.6M248.0 223.6h0.6M262.5 218.4h0.6M254.0 235.4h0.6M259.4 232.3h0.6M253.4 212.9h0.6M257.2 221.9h0.6M256.8 226.3h0.6M259.4 223.3h0.6M251.8 233.3h0.6M256.1 220.8h0.6M258.3 217.9h0.6M258.9 236.6h0.6M257.7 216.8h0.6M259.2 229.5h0.6M254.6 227.1h0.6M245.7 230.5h0.6M259.3 223.9h0.6M253.0 229.3h0.6M255.6 232.2h0.6M251.0 229.1h0.6M255.9 225.8h0.6M255.5 221.2h0.6M260.0 215.6h0.6M259.0 230.9h0.6M256.9 218.0h0.6M259.4 218.7h0.6M257.7 233.8h0.6M251.6 231.8h0.6M249.6 231.8h0.6M247.9 209.0h0.6M260.2 224.1h0.6M260.9 215.3h0.6M253.1 214.0h0.6M251.5 208.5h0.6M253.5 230.4h0.6M262.4 228.6h0.6M259.2 239.2h0.6M261.7 219.3h0.6M251.3 237.3h0.6M253.0 228.8h0.6M250.2 222.0h0.6M261.3 226.1h0.6M248.8 237.0h0.6M260.9 209.6h0.6M258.3 229.3h0.6M253.7 230.8h0.6M253.7 236.4h0.6M247.8 217.5h0.6M255.6 219.0h0.6M256.5 208.5h0.6M260.2 216.9h0.6M261.5 213.0h0.6M262.0 239.5h0.6M260.6 221.9h0.6M256.5 225.9h0.6M260.5 215.0h0.6M249.1 231.2h0.6M251.9 237.6h0.6M263.8 222.7h0.6M259.2 214.0h0.6M248.0 230.7h0.6M251.8 230.8h0.6M249.5 237.4h0.6M254.0 213.2h0.6M249.7 227.5h0.6M258.1 222.4h0.6M258.0 236.7h0.6M254.2 215.3h0.6M256.1 226.3h0.6M253.7 212.6h0.6M260.9 214.9h0.6M255.6 239.1h0.6M256.2 231.9h0.6M252.3 222.4h0.6M259.9 231.0h0.6M250.3 237.8h0.6M258.6 222.6h0.6M264.5 221.8h0.6M260.1 233.4h0.6M262.7 232.8h0.6M254.4 217.1h0.6M252.3 209.7h0.6M259.0 233.5h0.6M257.8 237.4h0.6M256.7 213.5h0.6M255.7 209.1h0.6M254.5 235.0h0.6M250.2 211.5h0.6M258.8 225.9h0.6M257.5 230.7h0.6M256.9 226.4h0.6M252.8 239.6h0.6M255.7 240.0h0.6M258.2 223.8h0.6M253.9 213.3h0.6M250.4 228.8h0.6M251.8 232.5h0.6M253.6 216.6h0.6M248.2 212.4h0.6M250.2 231.5h0.6M250.9 231.4h0.6M250.4 225.9h0.6M251.9 221.2h0.6M257.4 219.8h0.6M254.6 231.2h0.6M257.0 223.6h0.6M252.0 228.0h0.6M258.4 225.9h0.6M252.6 208.0h0.6M257.2 231.0h0.6M261.3 230.3h0.6M252.2 232.1h0.6M260.4 234.5h0.6M260.6 209.6h0.6M254.1 230.4h0.6M252.2 238.2h0.6M257.8 220.3h0.6M262.1 217.9h0.6M260.1 239.4h0.6M256.0 215.6h0.6M259.2 232.3h0.6M254.9 217.6h0.6M246.9 208.7h0.6M251.0 226.0h0.6M250.5 227.0h0.6M250.6 232.6h0.6M256.6 218.5h0.6M255.6 231.8h0.6M257.9 208.5h0.6M259.0 230.1h0.6M252.0 222.8h0.6M253.6 236.3h0.6M254.2 215.4h0.6M254.0 234.2h0.6M258.8 226.9h0.6M252.8 239.5h0.6M248.8 239.5h0.6M259.0 212.2h0.6M253.9 219.1h0.6M258.0 239.4h0.6M254.5 226.8h0.6M252.5 208.5h0.6M262.6 218.3h0.6M250.3 226.1h0.6M252.4 210.1h0.6M250.6 213.5h0.6M252.6 221.6h0.6M255.8 231.1h0.6M257.9 238.7h0.6M257.3 210.1h0.6M250.9 210.7h0.6M261.0 224.6h0.6M260.2 234.4h0.6M261.3 214.3h0.6M260.2 214.2h0.6M250.8 219.9h0.6M257.0 233.5h0.6M253.2 223.5h0.6M260.9 235.1h0.6M256.8 223.6h0.6M253.9 233.0h0.6M256.7 220.5h0.6M260.6 235.8h0.6M257.6 238.5h0.6M244.7 226.5h0.6M243.7 231.1h0.6M252.9 219.0h0.6M257.3 220.6h0.6M260.2 223.0h0.6M252.6 209.0h0.6M254.1 219.2h0.6M252.7 232.9h0.6M255.9 218.0h0.6M251.0 208.6h0.6M260.0 219.4h0.6M252.4 233.6h0.6M259.6 217.3h0.6M257.4 222.6h0.6M259.2 238.4h0.6M260.1 227.7h0.6M249.7 227.5h0.6M248.9 233.0h0.6M253.9 234.9h0.6M255.5 224.5h0.6M250.3 236.3h0.6M256.9 220.4h0.6M260.1 237.7h0.6M260.3 219.5h0.6M260.2 232.7h0.6M255.0 238.9h0.6M258.5 219.3h0.6M253.6 219.4h0.6M253.8 224.6h0.6M253.7 210.7h0.6M252.7 229.3h0.6M256.4 220.2h0.6M252.1 227.0h0.6M253.4 236.0h0.6M251.3 224.1h0.6M251.7 231.0h0.6M256.5 217.3h0.6M260.2 219.7h0.6M258.4 223.5h0.6M255.3 226.9h0.6M257.3 219.8h0.6M259.6 230.2h0.6M257.3 231.6h0.6M248.8 227.3h0.6M255.2 209.4h0.6M257.8 213.1h0.6M255.1 218.7h0.6M254.7 211.5h0.6M250.3 216.0h0.6M255.2 211.3h0.6M251.5 227.8h0.6M247.3 229.4h0.6M244.7 234.8h0.6M260.4 218.7h0.6M257.4 215.6h0.6M256.0 222.6h0.6M258.5 229.6h0.6M251.3 209.8h0.6M258.8 212.7h0.6M258.1 222.8h0.6M249.0 231.0h0.6M258.2 227.2h0.6M256.7 213.8h0.6M256.3 211.1h0.6M251.0 224.1h0.6M256.4 217.4h0.6M250.5 232.8h0.6M253.4 229.4h0.6M260.4 221.4h0.6M251.4 232.6h0.6M254.8 210.4h0.6M254.8 211.9h0.6M252.9 232.9h0.6M256.6 212.4h0.6M256.5 215.7h0.6M252.1 222.2h0.6M249.3 231.7h0.6M253.0 213.4h0.6M256.0 217.9h0.6M258.5 209.9h0.6M259.2 239.0h0.6M248.0 224.2h0.6M259.0 236.3h0.6M257.1 220.2h0.6M254.0 211.3h0.6M252.7 235.4h0.6M254.0 214.7h0.6M252.5 221.2h0.6M249.7 234.2h0.6M256.7 207.7h0.6M255.0 216.7h0.6M253.8 224.9h0.6M260.3 236.3h0.6M257.7 220.3h0.6M251.3 226.1h0.6M254.5 227.9h0.6M259.7 211.4h0.6M256.2 222.4h0.6M250.8 215.0h0.6M253.3 234.5h0.6M254.8 215.6h0.6M256.5 211.5h0.6M248.0 235.8h0.6M257.2 214.8h0.6M262.4 235.3h0.6M257.7 208.5h0.6M251.8 234.7h0.6M250.3 239.9h0.6M251.6 220.8h0.6M254.8 226.7h0.6M257.7 212.2h0.6M256.8 226.2h0.6M262.2 228.0h0.6M258.3 214.7h0.6M252.0 213.7h0.6M248.4 215.0h0.6M256.1 209.8h0.6M257.7 230.9h0.6M260.6 225.9h0.6M256.1 226.9h0.6M259.4 235.1h0.6M253.9 221.1h0.6M260.7 239.8h0.6M251.1 216.0h0.6M247.2 236.4h0.6M256.7 217.4h0.6M258.5 208.2h0.6M259.0 222.3h0.6M261.1 239.0h0.6M250.5 226.5h0.6M251.2 230.3h0.6M254.5 231.9h0.6M258.5 226.8h0.6M251.7 218.2h0.6M250.2 234.6h0.6M252.3 236.3h0.6M253.4 211.9h0.6M256.6 231.4h0.6M255.2 217.1h0.6M251.7 229.7h0.6M263.5 237.3h0.6M252.8 230.9h0.6M251.4 210.1h0.6M251.2 229.4h0.6M252.7 232.3h0.6M265.8 219.6h0.6M250.9 236.9h0.6M253.4 208.8h0.6M247.9 236.4h0.6M253.5 232.3h0.6M262.8 231.3h0.6M260.6 239.4h0.6M256.9 226.7h0.6M259.5 234.7h0.6M260.4 229.3h0.6M255.4 219.8h0.6M257.9 219.4h0.6M253.0 221.6h0.6M251.6 219.4h0.6M251.5 218.9h0.6M250.0 214.1h0.6M257.0 209.6h0.6M257.6 214.5h0.6M254.7 238.8h0.6M251.3 212.4h0.6M251.2 220.3h0.6M250.6 222.7h0.6M257.3 217.2h0.6M261.4 239.2h0.6M251.3 229.3h0.6M251.1 239.2h0.6M254.8 214.0h0.6M260.4 213.8h0.6M256.5 213.7h0.6M247.9 222.1h0.6M259.1 226.8h0.6M251.7 219.1h0.6M253.8 214.9h0.6M253.9 228.9h0.6M252.7 231.3h0.6M260.3 228.7h0.6M262.3 229.5h0.6M254.7 238.5h0.6M247.7 226.4h0.6M259.7 228.7h0.6M252.2 232.3h0.6M261.3 228.0h0.6M252.1 216.7h0.6M250.1 216.2h0.6M261.0 239.3h0.6M251.6 227.2h0.6M258.9 233.8h0.6M248.9 227.6h0.6M252.5 213.2h0.6M259.2 233.2h0.6M252.2 213.5h0.6M257.0 233.6h0.6M254.1 219.7h0.6M250.3 230.0h0.6M256.7 231.7h0.6M248.9 217.6h0.6M252.4 239.7h0.6M249.9 214.5h0.6M258.6 225.3h0.6M258.1 208.7h0.6M255.3 210.6h0.6M251.8 220.6h0.6M256.5 222.2h0.6M257.3 221.7h0.6M250.1 226.9h0.6M257.3 220.3h0.6M253.6 222.4h0.6M258.3 213.8h0.6M259.1 226.2h0.6M249.3 237.8h0.6M255.7 214.2h0.6M256.3 212.9h0.6M251.5 224.8h0.6M247.8 230.9h0.6M257.8 233.8h0.6M248.7 213.3h0.6M255.8 210.0h0.6M257.6 212.5h0.6M253.3 219.3h0.6M260.3 235.9h0.6M259.9 226.0h0.6M250.8 229.7h0.6M257.2 213.7h0.6M250.6 226.7h0.6M246.2 228.1h0.6M261.1 237.2h0.6M255.3 221.7h0.6M261.1 233.2h0.6M261.8 232.6h0.6M255.4 225.1h0.6M251.5 222.4h0.6M256.1 211.9h0.6M260.5 212.0h0.6M262.5 227.3h0.6M253.1 217.6h0.6M253.0 219.8h0.6M257.7 217.8h0.6M261.9 213.2h0.6M260.2 228.5h0.6M248.3 234.5h0.6M255.6 224.9h0.6M254.4 233.6h0.6M258.8 225.4h0.6M260.0 223.3h0.6M260.3 218.0h0.6M248.7 209.2h0.6M254.7 217.8h0.6M257.4 217.7h0.6M259.5 234.4h0.6M258.1 235.2h0.6M249.9 218.8h0.6M251.7 229.8h0.6M248.2 228.4h0.6M258.9 213.7h0.6M251.4 228.5h0.6M250.0 219.4h0.6M251.7 232.7h0.6M260.2 230.9h0.6M252.6 222.8h0.6M262.4 237.8h0.6M250.0 218.1h0.6M259.1 230.7h0.6M255.9 208.5h0.6M258.2 213.4h0.6M248.0 226.5h0.6M250.5 235.3h0.6M251.5 235.0h0.6M250.7 216.4h0.6M249.1 221.3h0.6M246.7 216.5h0.6M261.4 216.7h0.6M257.4 230.7h0.6M247.0 230.9h0.6M260.4 221.1h0.6M251.4 221.6h0.6M252.9 229.1h0.6M248.4 220.6h0.6M250.7 238.2h0.6M254.0 227.5h0.6M256.1 220.6h0.6M252.6 231.7h0.6M264.6 237.2h0.6M250.0 232.7h0.6M254.6 216.2h0.6M255.2 231.3h0.6M255.9 219.9h0.6M255.0 227.4h0.6M252.3 239.0h0.6M261.9 233.1h0.6M262.3 239.0h0.6M258.9 236.4h0.6M258.9 236.2h0.6M258.1 238.5h0.6M258.3 233.2h0.6M253.4 209.5h0.6M260.8 227.6h0.6M259.1 230.7h0.6M248.0 218.6h0.6M258.0 221.8h0.6M253.2 223.8h0.6M254.5 233.2h0.6M258.1 238.3h0.6M254.3 215.3h0.6M251.9 239.9h0.6M253.4 228.2h0.6M259.3 231.8h0.6M262.3 215.1h0.6M258.4 238.8h0.6M262.9 230.6h0.6M248.6 228.1h0.6M264.6 222.5h0.6M251.5 227.1h0.6M254.0 210.2h0.6M253.1 210.0h0.6M256.3 218.6h0.6M255.0 231.6h0.6M244.1 223.3h0.6M251.0 224.7h0.6M247.8 222.0h0.6M258.1 237.2h0.6M258.7 220.0h0.6M260.3 214.5h0.6M253.8 230.1h0.6M256.4 212.6h0.6M251.0 233.8h0.6M249.6 222.2h0.6M253.6 228.8h0.6M253.7 230.3h0.6M249.0 216.2h0.6M262.0 232.4h0.6M250.5 233.7h0.6M252.0 212.0h0.6M253.7 216.0h0.6M257.9 230.1h0.6M258.8 227.7h0.6M252.6 216.9h0.6M255.1 224.5h0.6M251.0 211.2h0.6M252.0 210.9h0.6M252.5 236.2h0.6M259.7 239.3h0.6M253.6 217.9h0.6M255.7 213.2h0.6M254.7 231.4h0.6M248.9 212.7h0.6M258.1 238.6h0.6M259.7 235.8h0.6M258.3 218.1h0.6M260.1 235.7h0.6M260.3 219.1h0.6M259.4 209.8h0.6M257.8 212.9h0.6M253.9 221.7h0.6M252.5 221.8h0.6M249.4 230.1h0.6M260.5 237.9h0.6M256.4 217.2h0.6M257.0 222.4h0.6M255.8 225.6h0.6M255.8 209.6h0.6M258.8 213.1h0.6M256.8 226.7h0.6M243.3 238.1h0.6M260.3 211.3h0.6M259.6 227.0h0.6M254.6 230.3h0.6M252.3 211.4h0.6M262.3 227.0h0.6M256.6 210.9h0.6M259.7 234.2h0.6M250.4 209.2h0.6M261.1 217.3h0.6M252.1 229.4h0.6M255.9 208.9h0.6M249.5 214.1h0.6M260.4 213.6h0.6M258.7 216.1h0.6M256.3 222.3h0.6M263.2 236.6h0.6M252.0 212.1h0.6M254.6 210.5h0.6M258.7 222.7h0.6M250.0 236.3h0.6M252.6 235.8h0.6M254.3 230.5h0.6M256.4 225.1h0.6M252.3 221.4h0.6M257.7 216.2h0.6M256.3 225.4h0.6M260.2 239.7h0.6M264.1 211.7h0.6M250.1 238.9h0.6M259.8 236.5h0.6M259.3 218.3h0.6M258.6 231.0h0.6M260.8 234.0h0.6M251.8 232.5h0.6M259.8 223.6h0.6M251.2 225.9h0.6M256.0 224.2h0.6M256.6 225.8h0.6M259.2 230.5h0.6M261.0 239.4h0.6M252.6 230.8h0.6M249.6 218.3h0.6M261.0 238.4h0.6M253.2 233.0h0.6M259.2 227.4h0.6M254.9 216.5h0.6M262.6 218.4h0.6M258.6 214.6h0.6M256.1 212.7h0.6M258.0 239.6h0.6M254.7 233.3h0.6M249.2 212.1h0.6M252.7 233.9h0.6M256.4 210.6h0.6M250.5 215.8h0.6M260.4 239.3h0.6M252.7 233.9h0.6M247.0 232.3h0.6M256.2 220.6h0.6M251.0 222.9h0.6M258.1 208.3h0.6M259.3 224.6h0.6M250.1 232.9h0.6M262.4 233.6h0.6M258.6 233.8h0.6M261.0 236.2h0.6M260.2 233.3h0.6M247.6 218.1h0.6M255.2 224.3h0.6M249.4 213.7h0.6M258.2 230.6h0.6M251.5 210.9h0.6M252.8 211.9h0.6M261.8 223.3h0.6M256.3 222.4h0.6M251.3 219.6h0.6M261.2 239.7h0.6M261.6 214.5h0.6M255.8 231.4h0.6M263.3 214.2h0.6M251.5 208.7h0.6M259.9 228.4h0.6M248.5 218.1h0.6M254.2 238.7h0.6M256.7 231.7h0.6M250.7 231.1h0.6M263.2 209.8h0.6M257.9 231.6h0.6M255.6 218.2h0.6M253.3 229.5h0.6M250.1 228.3h0.6M252.9 216.0h0.6M258.6 226.8h0.6M250.7 231.2h0.6M248.2 224.9h0.6M254.3 219.5h0.6M264.8 229.2h0.6M252.8 227.9h0.6M252.0 235.5h0.6M252.7 219.7h0.6M257.0 224.0h0.6M248.3 213.2h0.6M257.7 238.3h0.6M254.6 217.3h0.6M253.7 209.5h0.6M256.8 209.1h0.6M256.6 211.6h0.6M257.2 231.2h0.6M252.1 236.9h0.6M256.1 208.5h0.6M258.8 220.4h0.6M257.2 221.1h0.6M257.3 215.5h0.6M258.1 217.9h0.6M252.0 238.4h0.6M251.6 216.7h0.6M255.5 211.4h0.6M260.1 212.8h0.6M247.1 209.2h0.6M259.3 238.8h0.6M252.1 222.1h0.6M246.2 226.4h0.6M253.3 232.3h0.6M256.8 210.9h0.6M258.3 221.2h0.6M256.8 231.4h0.6M257.1 229.3h0.6M252.7 210.5h0.6M262.1 239.2h0.6M253.1 217.1h0.6M252.3 238.5h0.6M262.3 217.9h0.6M252.2 212.6h0.6M254.6 227.1h0.6M252.0 212.1h0.6M254.0 219.5h0.6M261.0 216.8h0.6M252.4 239.1h0.6M256.4 225.6h0.6M254.0 223.8h0.6M261.0 211.2h0.6M258.2 237.9h0.6M254.1 215.1h0.6M259.0 227.4h0.6M256.8 231.2h0.6M253.2 214.5h0.6M259.6 232.3h0.6M257.3 209.9h0.6M259.7 237.7h0.6M253.8 217.9h0.6M253.8 211.4h0.6M255.7 219.4h0.6M251.7 237.3h0.6M257.5 229.4h0.6M257.4 229.8h0.6M251.6 218.2h0.6M250.1 227.6h0.6M250.3 238.7h0.6M253.5 232.9h0.6M251.8 239.6h0.6M249.0 225.1h0.6M257.4 221.2h0.6M256.3 231.9h0.6M250.5 236.7h0.6M261.1 229.1h0.6M260.8 223.6h0.6M253.5 230.3h0.6M250.5 228.9h0.6M252.6 235.6h0.6M253.6 228.7h0.6M249.0 236.3h0.6M254.5 217.1h0.6M257.4 231.0h0.6M251.6 225.1h0.6M259.0 221.0h0.6M258.4 219.4h0.6M253.9 216.6h0.6M260.0 232.8h0.6M253.2 219.3h0.6M260.0 223.4h0.6M252.7 231.5h0.6M259.3 231.1h0.6M256.5 211.7h0.6M259.2 229.5h0.6M252.8 219.6h0.6M255.8 226.2h0.6M250.1 216.5h0.6M255.6 225.8h0.6M253.5 222.9h0.6M257.0 219.5h0.6M254.5 211.4h0.6M252.2 227.9h0.6M260.4 238.8h0.6M248.0 214.6h0.6M259.8 234.5h0.6M253.6 214.2h0.6M260.9 221.5h0.6M251.8 217.2h0.6M252.8 214.8h0.6M253.9 220.8h0.6M260.2 225.6h0.6M253.8 234.8h0.6M258.8 210.3h0.6M256.8 222.1h0.6M259.1 218.8h0.6M255.3 217.8h0.6M249.7 229.6h0.6M257.7 230.9h0.6M260.0 222.7h0.6M259.0 238.6h0.6M254.2 231.3h0.6M259.1 223.5h0.6M253.6 224.6h0.6M254.9 212.0h0.6M255.5 210.1h0.6M257.4 219.6h0.6M256.8 213.9h0.6M263.4 224.7h0.6M252.8 239.8h0.6M256.5 212.9h0.6M251.4 230.2h0.6M259.1 217.5h0.6M256.8 217.2h0.6M261.1 220.8h0.6M257.4 221.3h0.6M254.2 226.7h0.6M252.3 233.3h0.6M258.1 222.8h0.6M254.5 212.6h0.6M258.5 237.1h0.6M253.9 233.0h0.6M250.4 222.2h0.6M254.1 238.9h0.6M253.0 230.8h0.6M252.0 228.3h0.6M259.7 222.9h0.6M256.4 210.9h0.6M253.7 229.6h0.6M261.0 230.3h0.6M253.2 223.5h0.6M252.2 230.7h0.6M255.3 217.9h0.6M255.1 211.1h0.6M259.3 235.9h0.6M262.8 224.6h0.6M249.5 217.9h0.6M251.8 216.9h0.6M249.4 210.9h0.6M253.3 231.0h0.6M243.4 229.7h0.6M260.0 214.2h0.6M261.9 220.7h0.6M257.7 230.2h0.6M247.7 232.8h0.6M252.0 204.8h0.6M249.6 204.3h0.6M256.6 209.6h0.6M250.7 196.6h0.6M250.3 204.6h0.6M254.9 202.7h0.6M250.5 205.7h0.6M256.6 201.9h0.6M250.4 197.1h0.6M251.6 205.3h0.6M251.1 209.0h0.6M258.9 209.0h0.6M258.7 201.7h0.6M256.7 196.4h0.6M255.1 199.6h0.6M252.0 203.6h0.6M254.0 206.0h0.6M258.7 209.8h0.6M253.7 199.3h0.6M260.2 202.5h0.6M257.5 205.8h0.6M259.2 201.3h0.6M249.3 203.3h0.6M262.9 203.2h0.6M248.4 196.8h0.6M252.5 199.3h0.6M260.6 199.4h0.6M252.4 206.8h0.6M256.0 208.6h0.6M253.6 208.5h0.6M259.0 196.8h0.6M255.3 201.1h0.6M257.2 198.7h0.6M253.7 208.2h0.6M254.0 198.5h0.6M257.8 208.3h0.6M260.9 204.4h0.6M251.1 206.4h0.6M251.7 197.0h0.6M258.4 203.5h0.6M251.0 197.5h0.6M248.3 204.3h0.6M254.5 201.1h0.6M249.0 206.9h0.6M260.4 196.2h0.6M249.4 203.8h0.6M262.7 196.6h0.6M255.2 202.5h0.6M252.9 205.2h0.6M245.7 205.5h0.6M257.8 203.0h0.6M255.6 198.4h0.6M254.9 196.3h0.6M257.6 203.4h0.6M252.7 207.4h0.6M249.6 203.1h0.6M251.1 196.6h0.6M261.7 200.0h0.6M259.0 205.6h0.6M247.3 197.5h0.6M258.4 202.2h0.6M249.4 201.6h0.6M253.5 204.7h0.6M256.8 198.7h0.6M249.7 200.9h0.6M257.5 198.2h0.6M256.6 206.3h0.6M252.9 205.4h0.6M244.4 209.9h0.6M258.3 199.1h0.6M259.9 196.5h0.6M261.9 202.8h0.6M253.5 198.9h0.6M254.2 197.7h0.6M264.6 207.3h0.6M255.9 198.9h0.6M256.3 198.8h0.6M258.0 197.2h0.6M252.9 209.4h0.6M252.5 205.9h0.6M260.3 241.8h0.6M264.9 244.8h0.6M259.6 242.0h0.6M267.7 246.4h0.6M267.1 246.1h0.6M260.5 242.2h0.6M256.3 249.8h0.6M267.8 242.4h0.6M267.4 241.8h0.6M262.5 242.5h0.6M259.4 242.3h0.6M266.6 241.4h0.6M269.1 241.0h0.6M263.8 246.5h0.6M269.2 243.0h0.6M251.8 249.5h0.6M268.3 242.8h0.6M261.0 243.4h0.6M250.7 243.7h0.6M264.2 241.4h0.6M269.2 248.5h0.6M256.2 243.7h0.6M260.3 248.0h0.6M259.6 247.5h0.6M263.0 248.5h0.6M256.1 242.5h0.6M248.2 250.2h0.6M248.8 250.6h0.6M265.6 247.8h0.6M251.5 250.3h0.6M255.7 248.3h0.6M264.2 241.4h0.6M255.1 242.2h0.6M257.0 248.2h0.6M257.6 248.2h0.6M261.0 242.1h0.6M264.4 241.2h0.6M253.8 249.6h0.6M262.3 248.1h0.6M256.3 243.2h0.6M255.4 248.6h0.6M260.5 249.2h0.6M260.8 247.5h0.6M259.1 248.2h0.6M266.0 247.1h0.6M265.3 247.1h0.6M268.1 241.8h0.6M268.1 248.7h0.6M255.3 249.4h0.6M260.7 248.1h0.6M249.0 251.4h0.6M262.7 242.5h0.6M268.1 246.5h0.6M266.9 247.9h0.6M269.1 241.7h0.6M256.6 248.0h0.6M260.0 248.5h0.6M253.4 250.4h0.6M262.0 241.2h0.6M261.2 243.1h0.6M259.3 247.2h0.6M261.0 248.7h0.6M256.7 248.1h0.6M265.7 250.1h0.6M267.6 242.4h0.6M264.9 242.1h0.6M268.9 246.2h0.6M265.7 242.7h0.6M251.6 243.5h0.6M254.7 243.6h0.6M262.2 242.9h0.6M261.3 242.5h0.6M267.8 243.8h0.6M255.7 249.4h0.6M250.0 249.6h0.6M259.0 248.0h0.6M267.6 246.2h0.6M262.8 248.6h0.6M260.6 243.0h0.6M256.8 249.3h0.6M264.8 246.3h0.6M263.6 242.0h0.6M259.9 248.2h0.6M269.1 246.6h0.6M249.2 249.1h0.6M257.7 242.5h0.6M257.7 248.2h0.6M266.6 248.3h0.6M252.3 249.1h0.6M267.5 243.9h0.6M262.6 250.3h0.6M257.7 242.6h0.6M264.7 247.3h0.6M255.5 242.2h0.6M264.1 241.5h0.6M268.3 246.0h0.6M254.9 243.5h0.6M257.3 248.3h0.6M260.3 247.5h0.6M259.8 242.9h0.6M250.8 243.3h0.6M257.2 248.4h0.6M269.1 247.2h0.6M260.3 248.0h0.6M249.6 249.3h0.6M260.2 242.7h0.6M267.0 242.8h0.6M255.6 248.2h0.6M259.0 247.0h0.6M256.1 242.6h0.6M266.1 248.9h0.6M264.3 244.7h0.6M259.7 242.8h0.6M261.0 242.4h0.6M250.3 243.9h0.6M261.6 243.3h0.6M251.5 249.4h0.6M268.7 242.5h0.6M268.3 248.9h0.6M259.4 248.2h0.6M261.0 247.6h0.6M256.3 248.1h0.6M248.2 250.6h0.6M249.0 251.3h0.6M265.7 241.8h0.6M265.8 247.3h0.6M256.9 243.3h0.6M264.1 244.9h0.6M250.4 243.5h0.6M258.0 248.0h0.6M268.1 241.9h0.6M248.6 241.4h0.6M268.5 246.7h0.6M254.9 243.6h0.6M252.1 249.4h0.6M260.7 241.9h0.6M254.3 248.1h0.6M268.6 242.6h0.6M252.3 249.3h0.6M267.9 246.9h0.6M264.1 246.5h0.6M268.6 247.8h0.6M267.3 241.6h0.6M265.3 241.5h0.6M259.4 247.6h0.6M268.3 242.9h0.6M264.0 244.7h0.6M263.4 248.7h0.6M248.4 250.4h0.6M251.6 241.2h0.6M255.5 248.8h0.6M260.2 241.1h0.6M267.3 249.6h0.6M262.5 241.1h0.6M248.5 241.7h0.6M267.4 246.6h0.6M264.6 244.2h0.6M256.6 248.4h0.6M255.7 248.5h0.6M249.2 249.1h0.6M262.6 248.3h0.6M264.8 244.4h0.6M256.1 243.9h0.6M251.6 243.2h0.6M251.6 243.8h0.6M262.7 241.2h0.6M254.7 241.3h0.6M262.5 249.3h0.6M254.3 248.5h0.6M269.1 244.0h0.6M268.9 248.6h0.6M259.1 248.3h0.6M261.9 243.6h0.6M266.9 242.6h0.6M268.3 248.2h0.6M250.6 250.0h0.6M256.1 248.2h0.6M260.3 243.7h0.6M261.7 243.7h0.6M263.9 240.2h0.6M254.8 248.9h0.6M263.1 246.4h0.6M263.6 246.1h0.6M256.8 242.9h0.6M264.4 247.0h0.6M256.3 240.6h0.6M255.6 249.0h0.6M264.8 242.8h0.6M254.2 249.1h0.6M263.3 248.4h0.6M261.0 247.4h0.6M266.0 241.2h0.6M262.5 248.1h0.6M268.9 248.1h0.6M265.4 243.0h0.6M259.0 247.0h0.6M265.6 242.7h0.6M259.1 248.7h0.6M253.0 242.0h0.6M261.6 243.6h0.6M269.2 245.7h0.6M249.3 249.1h0.6M256.2 243.7h0.6M265.2 241.8h0.6M267.0 241.7h0.6M259.3 241.8h0.6M254.6 248.2h0.6M265.4 247.5h0.6M263.8 238.8h0.6M259.3 249.7h0.6M249.7 249.1h0.6M254.7 243.3h0.6M248.3 242.7h0.6M249.7 249.6h0.6M264.4 242.3h0.6M255.4 248.6h0.6M259.1 242.5h0.6M267.8 248.4h0.6M264.7 247.0h0.6M257.8 249.2h0.6M250.8 242.8h0.6M260.2 243.7h0.6M254.1 248.1h0.6M261.7 242.2h0.6M264.4 242.3h0.6M269.1 245.3h0.6M261.1 243.3h0.6M250.6 243.1h0.6M254.5 249.3h0.6M258.0 242.8h0.6M264.5 244.4h0.6M260.7 242.9h0.6M254.3 243.1h0.6M251.0 243.5h0.6M268.0 240.9h0.6M251.6 243.8h0.6M252.2 249.5h0.6M252.4 249.1h0.6M267.0 240.7h0.6M255.3 249.6h0.6M267.9 243.9h0.6M257.8 249.1h0.6M262.9 248.4h0.6M267.9 247.0h0.6M261.6 243.9h0.6M263.4 248.0h0.6M251.9 243.6h0.6M253.5 242.7h0.6M264.8 247.4h0.6M264.6 249.2h0.6M265.5 242.3h0.6M268.7 240.0h0.6M256.2 241.7h0.6M259.8 247.3h0.6M255.3 242.9h0.6M260.7 241.5h0.6M262.3 242.7h0.6M251.1 243.3h0.6M254.5 250.2h0.6M266.1 249.0h0.6M264.1 242.5h0.6M260.5 242.4h0.6M267.3 246.6h0.6M261.8 242.3h0.6M256.1 243.9h0.6M264.7 242.8h0.6M265.1 241.7h0.6M264.1 242.7h0.6M267.5 248.1h0.6M259.7 242.9h0.6M268.5 240.9h0.6M254.6 248.4h0.6M250.3 243.4h0.6M267.2 242.3h0.6M264.9 239.0h0.6M254.6 249.0h0.6M264.2 247.6h0.6M263.2 246.7h0.6M259.4 248.3h0.6M267.7 243.5h0.6M261.1 242.3h0.6M262.4 248.8h0.6M267.9 242.3h0.6M264.5 248.2h0.6M248.6 250.1h0.6M249.7 249.3h0.6M259.6 247.5h0.6M254.1 242.6h0.6M267.0 243.8h0.6M266.2 242.0h0.6M262.3 242.9h0.6M271.1 193.9h0.6M285.0 192.9h0.6M275.5 193.1h0.6M278.0 192.9h0.6M296.6 193.0h0.6M288.5 194.3h0.6M290.5 200.6h0.6M301.0 195.4h0.6M286.7 191.8h0.6M283.1 193.7h0.6M286.2 196.4h0.6M283.6 196.5h0.6M271.9 194.5h0.6M277.0 193.8h0.6M278.7 192.9h0.6M281.9 196.9h0.6M280.5 195.1h0.6M288.7 189.9h0.6M276.4 189.7h0.6M289.6 187.6h0.6M283.3 194.7h0.6M287.2 191.9h0.6M272.7 193.2h0.6M284.7 197.1h0.6M280.1 195.3h0.6M285.6 183.9h0.6M270.1 193.4h0.6M291.3 191.0h0.6M285.4 192.0h0.6M278.5 191.8h0.6M283.5 192.7h0.6M277.0 190.4h0.6M274.2 186.4h0.6M286.4 193.8h0.6M278.3 197.9h0.6M277.1 193.6h0.6M285.3 189.2h0.6M291.1 193.4h0.6M276.9 188.0h0.6M287.4 193.8h0.6M267.1 192.8h0.6M271.5 188.2h0.6M292.2 188.7h0.6M281.2 194.7h0.6M278.9 197.9h0.6M266.9 187.0h0.6M290.2 191.3h0.6M274.8 194.8h0.6M269.0 200.3h0.6M281.9 202.0h0.6M285.6 188.9h0.6M279.2 195.7h0.6M284.4 199.5h0.6M280.4 189.0h0.6M269.0 193.7h0.6M279.8 197.9h0.6M275.5 192.4h0.6M289.5 187.2h0.6M284.4 196.0h0.6M279.0 192.1h0.6M285.7 196.0h0.6M279.8 193.9h0.6M285.0 190.3h0.6M289.9 189.3h0.6M274.8 195.8h0.6M293.4 192.0h0.6M277.9 188.3h0.6M284.2 193.2h0.6M281.6 190.6h0.6M286.5 194.9h0.6M295.7 193.2h0.6M276.1 197.2h0.6M299.5 192.1h0.6M289.1 191.4h0.6M289.9 194.8h0.6M287.2 199.5h0.6M266.2 187.3h0.6M278.1 192.2h0.6M281.0 199.5h0.6M284.3 193.6h0.6M278.6 189.2h0.6M272.7 195.7h0.6M274.9 194.2h0.6M289.4 194.5h0.6M275.4 197.4h0.6M280.5 188.1h0.6M278.2 195.3h0.6M270.6 193.3h0.6M287.1 195.1h0.6M278.0 194.1h0.6M290.1 192.3h0.6M288.9 193.5h0.6M285.9 193.5h0.6M280.3 198.6h0.6M276.0 188.7h0.6M275.3 197.8h0.6M272.7 195.2h0.6M287.3 192.0h0.6M279.3 193.3h0.6M272.3 193.7h0.6M275.1 193.2h0.6M288.8 192.9h0.6M285.2 198.2h0.6M280.3 196.5h0.6M278.9 197.8h0.6M274.4 197.7h0.6M277.6 197.1h0.6M286.2 193.4h0.6M277.1 197.5h0.6M280.5 190.3h0.6M277.1 187.3h0.6M276.4 197.0h0.6M284.4 196.1h0.6M291.5 199.0h0.6M285.6 192.6h0.6M272.7 191.3h0.6M273.1 188.0h0.6M273.2 190.3h0.6M292.4 193.9h0.6M269.9 190.7h0.6M284.7 194.0h0.6M273.2 197.2h0.6M290.0 195.9h0.6M280.8 196.5h0.6M268.0 190.1h0.6M275.6 193.7h0.6M273.0 191.3h0.6M279.0 195.8h0.6M286.0 195.0h0.6M275.7 194.6h0.6M277.8 201.7h0.6M280.4 196.3h0.6M283.9 189.6h0.6M277.9 192.4h0.6M302.9 188.8h0.6M272.8 198.7h0.6M276.9 194.8h0.6M264.0 195.7h0.6M283.7 196.6h0.6M281.6 195.8h0.6M296.9 189.5h0.6M286.2 194.0h0.6M283.6 193.2h0.6M286.9 186.3h0.6M283.1 194.3h0.6M283.2 197.0h0.6M284.0 191.9h0.6M283.4 189.5h0.6M283.8 201.3h0.6M294.0 193.0h0.6M292.4 194.3h0.6M275.5 195.4h0.6M273.5 192.6h0.6M279.7 198.4h0.6M278.4 189.0h0.6M273.3 197.7h0.6M287.5 193.9h0.6M277.2 191.4h0.6M269.7 195.9h0.6M274.8 190.2h0.6M280.4 195.7h0.6M278.4 192.3h0.6M277.3 191.9h0.6M280.4 190.6h0.6M265.8 186.9h0.6M277.7 196.3h0.6M295.0 193.4h0.6M285.8 196.3h0.6M283.9 192.8h0.6M283.3 188.5h0.6M278.5 198.2h0.6M291.6 191.8h0.6M284.2 196.6h0.6M282.7 187.8h0.6M288.6 192.2h0.6M281.3 189.6h0.6M275.8 195.8h0.6M271.5 189.3h0.6M286.7 196.1h0.6M276.3 191.8h0.6M281.7 195.3h0.6M277.8 194.7h0.6M288.6 190.1h0.6M272.7 195.3h0.6M286.2 194.5h0.6M288.4 194.5h0.6M286.4 192.0h0.6M287.0 192.6h0.6M283.0 198.5h0.6M276.0 195.1h0.6M279.0 196.1h0.6M286.7 191.9h0.6M289.6 192.8h0.6M286.2 191.4h0.6M285.7 191.9h0.6M287.6 191.1h0.6M291.9 192.3h0.6M288.1 190.4h0.6M287.4 193.4h0.6M277.4 189.5h0.6M274.8 189.3h0.6M298.6 202.0h0.6M283.6 187.5h0.6M274.1 193.7h0.6M285.4 194.4h0.6M277.1 194.6h0.6M282.9 196.9h0.6M289.7 192.4h0.6M279.5 191.5h0.6M273.9 190.2h0.6M276.2 193.4h0.6M268.3 200.1h0.6M273.9 195.2h0.6M285.0 199.4h0.6M283.6 190.6h0.6M291.4 192.7h0.6M286.3 191.0h0.6M274.4 196.2h0.6M282.1 194.6h0.6M278.6 198.9h0.6M289.2 196.2h0.6M284.5 189.8h0.6M275.6 197.9h0.6M281.6 194.6h0.6M284.1 190.7h0.6M287.9 194.5h0.6M276.2 188.4h0.6M281.6 189.4h0.6M269.9 193.3h0.6M285.9 194.0h0.6M286.1 196.1h0.6M270.2 190.9h0.6M281.9 195.8h0.6M281.1 196.4h0.6M275.5 194.9h0.6M283.7 198.4h0.6M277.3 192.3h0.6M275.8 190.7h0.6M279.0 198.7h0.6M286.3 198.2h0.6M285.6 189.7h0.6M281.4 196.0h0.6M291.5 195.0h0.6M290.0 197.3h0.6M282.5 188.3h0.6M270.5 191.4h0.6M289.3 192.3h0.6M290.8 189.9h0.6M276.7 187.8h0.6M281.6 194.8h0.6M291.4 202.0h0.6M271.4 194.8h0.6M274.3 192.6h0.6M287.8 190.7h0.6M293.9 192.0h0.6M270.9 195.7h0.6M291.6 196.6h0.6M276.6 193.3h0.6M285.3 192.8h0.6M280.3 192.0h0.6M274.9 186.9h0.6M283.7 196.3h0.6M285.2 191.7h0.6M278.3 195.8h0.6M284.6 188.8h0.6M279.0 196.6h0.6M283.7 194.3h0.6M277.2 193.6h0.6M270.3 192.0h0.6M268.0 190.7h0.6M282.2 200.9h0.6M287.9 193.9h0.6M281.9 191.4h0.6M289.9 194.8h0.6M275.5 195.2h0.6M280.9 194.6h0.6M287.7 191.9h0.6M265.7 190.5h0.6M280.0 198.0h0.6M283.8 197.3h0.6M279.7 192.4h0.6M283.4 195.5h0.6M275.8 190.1h0.6M286.4 194.7h0.6M294.0 192.0h0.6M280.6 194.1h0.6M278.3 194.8h0.6M291.0 200.4h0.6M274.3 194.6h0.6M291.6 193.5h0.6M281.9 190.4h0.6M276.7 192.5h0.6M279.1 186.9h0.6M278.0 190.5h0.6M284.8 185.8h0.6M287.2 193.7h0.6M279.2 192.4h0.6M275.3 190.8h0.6M278.6 194.1h0.6M280.8 195.3h0.6M285.9 194.1h0.6M277.1 196.2h0.6M285.9 197.7h0.6M285.3 195.2h0.6M274.9 185.8h0.6M285.8 195.1h0.6M275.5 197.0h0.6M275.3 192.8h0.6M283.3 189.1h0.6M282.8 198.1h0.6M273.6 187.2h0.6M270.2 191.3h0.6M286.1 193.4h0.6M286.3 194.0h0.6M295.5 186.9h0.6M287.8 196.7h0.6M287.6 194.5h0.6M281.6 193.5h0.6M272.0 196.7h0.6M282.4 194.2h0.6M275.7 194.6h0.6M298.2 196.9h0.6M287.6 194.1h0.6M291.0 193.0h0.6M284.5 187.4h0.6M283.6 195.9h0.6M269.3 195.5h0.6M286.8 194.6h0.6M285.6 197.5h0.6M277.1 191.7h0.6M277.2 197.8h0.6M270.6 191.6h0.6M277.2 189.6h0.6M285.5 193.3h0.6M269.8 198.3h0.6M279.7 187.5h0.6M283.4 197.3h0.6M293.8 192.9h0.6M272.0 188.7h0.6M284.1 194.2h0.6M279.8 197.8h0.6M274.8 192.8h0.6M288.3 195.4h0.6M281.7 193.2h0.6M283.6 188.4h0.6M270.5 194.0h0.6M283.8 187.0h0.6M284.6 189.2h0.6M269.7 197.9h0.6M286.4 200.9h0.6M285.9 193.4h0.6M299.2 191.9h0.6M284.3 195.9h0.6M289.2 192.6h0.6M282.4 194.7h0.6M270.2 194.2h0.6M279.0 195.5h0.6M274.9 191.7h0.6M284.5 196.2h0.6M272.9 197.3h0.6M281.5 191.6h0.6M287.3 195.5h0.6M280.1 194.3h0.6M276.1 193.6h0.6M273.1 194.5h0.6M281.7 194.0h0.6M280.4 194.8h0.6M284.0 194.7h0.6M284.4 195.1h0.6M285.0 197.4h0.6M285.8 193.6h0.6M283.8 190.3h0.6M284.1 198.0h0.6M289.1 196.0h0.6M291.3 191.1h0.6M288.2 186.3h0.6M284.5 191.3h0.6M292.5 197.3h0.6M277.0 193.1h0.6M289.8 192.9h0.6M274.8 191.5h0.6M282.4 195.5h0.6M275.0 192.2h0.6M285.6 197.0h0.6M281.9 195.8h0.6M274.9 196.8h0.6M293.0 189.2h0.6M281.9 191.7h0.6M275.6 194.6h0.6M277.0 190.5h0.6M277.2 196.9h0.6M277.6 192.7h0.6M283.0 196.5h0.6M276.8 184.7h0.6M298.2 199.2h0.6M279.6 185.1h0.6M279.4 191.4h0.6M282.6 197.9h0.6M285.0 197.3h0.6M278.2 184.2h0.6M293.6 193.9h0.6M282.8 196.5h0.6M289.8 193.7h0.6M276.8 195.4h0.6M283.2 189.4h0.6M285.6 192.0h0.6M282.3 187.1h0.6M283.3 196.5h0.6M282.4 188.4h0.6M273.2 196.5h0.6M282.6 194.7h0.6M288.4 192.9h0.6M277.3 189.4h0.6M278.6 190.2h0.6M283.2 192.0h0.6M269.0 197.9h0.6M285.2 189.3h0.6M291.3 197.4h0.6M293.4 194.0h0.6M269.2 192.3h0.6M274.2 192.8h0.6M281.8 188.9h0.6M279.7 192.1h0.6M286.7 188.6h0.6M297.4 189.3h0.6M281.1 194.3h0.6M288.9 193.6h0.6M295.7 197.6h0.6M286.4 198.5h0.6M274.0 195.3h0.6M278.0 195.7h0.6M278.8 192.7h0.6M291.8 192.4h0.6M284.5 192.6h0.6M281.3 191.5h0.6M275.2 193.8h0.6M276.4 189.8h0.6M267.3 197.7h0.6M291.4 197.9h0.6M289.3 192.4h0.6M285.2 192.3h0.6M275.8 186.1h0.6M275.7 202.2h0.6M279.1 191.2h0.6M286.8 192.3h0.6M290.3 189.0h0.6M270.5 197.1h0.6M287.3 190.5h0.6M284.4 197.6h0.6M283.4 198.3h0.6M278.9 195.3h0.6M284.8 191.0h0.6M272.9 191.3h0.6M295.6 201.5h0.6M286.6 187.2h0.6M285.9 193.2h0.6M279.3 201.6h0.6M292.2 185.6h0.6M265.1 192.6h0.6M281.2 199.8h0.6M281.1 191.3h0.6M276.4 194.8h0.6M276.9 189.1h0.6M276.3 188.3h0.6M277.5 198.5h0.6M287.1 194.9h0.6M276.5 194.9h0.6M272.3 190.1h0.6M272.0 192.5h0.6M278.7 190.2h0.6M271.5 201.5h0.6M287.5 195.0h0.6M278.2 191.6h0.6M276.5 197.2h0.6M280.4 192.7h0.6M282.1 197.5h0.6M275.2 192.6h0.6M283.5 192.2h0.6M293.4 193.0h0.6M286.6 193.7h0.6M282.4 198.0h0.6M284.7 192.3h0.6M283.1 192.6h0.6M286.0 192.1h0.6M278.7 189.6h0.6M295.9 188.0h0.6M275.6 191.1h0.6M282.4 195.3h0.6M276.4 190.4h0.6M282.3 184.9h0.6M282.9 196.9h0.6M292.2 197.4h0.6M288.5 189.4h0.6M277.7 192.6h0.6M286.1 189.6h0.6M296.9 190.4h0.6M276.2 195.9h0.6M277.8 194.3h0.6M291.4 193.8h0.6M272.5 195.6h0.6M276.8 193.7h0.6M286.7 189.4h0.6M285.5 195.1h0.6M281.2 198.7h0.6M286.5 196.5h0.6M285.0 194.9h0.6M268.9 193.6h0.6M271.7 200.0h0.6M280.4 196.7h0.6M274.4 190.6h0.6M286.5 201.0h0.6M273.3 193.4h0.6M284.7 188.9h0.6M280.3 198.3h0.6M272.5 191.5h0.6M271.6 196.3h0.6M275.4 189.0h0.6M277.9 191.1h0.6M293.5 184.3h0.6M293.5 192.2h0.6M279.1 195.4h0.6M287.1 192.4h0.6M275.5 191.6h0.6M275.5 191.7h0.6M273.8 191.1h0.6M280.1 189.4h0.6M277.0 192.7h0.6M278.4 189.7h0.6M272.9 195.2h0.6M291.9 187.9h0.6M287.9 197.2h0.6M288.2 191.0h0.6M272.4 196.9h0.6M287.6 196.7h0.6M283.9 195.2h0.6M286.2 200.3h0.6M276.9 197.1h0.6M275.9 194.7h0.6M283.3 198.7h0.6M286.7 196.3h0.6M275.2 203.7h0.6M277.5 193.7h0.6M283.4 194.4h0.6M273.8 185.3h0.6M285.0 192.1h0.6M286.0 199.5h0.6M272.5 189.8h0.6M278.4 187.7h0.6M271.7 190.6h0.6M286.0 194.0h0.6M276.4 194.7h0.6M280.4 190.0h0.6M282.4 195.1h0.6M289.4 192.5h0.6M278.5 197.4h0.6M292.0 189.8h0.6M276.6 197.1h0.6M292.1 191.3h0.6M288.6 193.0h0.6M288.4 196.3h0.6M284.6 196.7h0.6M295.4 196.2h0.6M285.0 186.5h0.6M292.6 186.8h0.6M268.6 187.9h0.6M281.4 194.7h0.6M289.0 194.5h0.6M269.1 194.6h0.6M285.0 190.9h0.6M289.7 190.7h0.6M284.7 190.0h0.6M282.1 198.2h0.6M287.6 193.6h0.6M288.1 190.0h0.6M293.9 195.9h0.6M278.0 189.5h0.6M273.8 193.5h0.6M289.0 193.9h0.6M282.2 198.5h0.6M291.3 193.0h0.6M276.6 192.1h0.6M274.3 191.3h0.6M290.5 193.5h0.6M275.0 193.3h0.6M281.5 191.7h0.6M280.0 192.0h0.6M270.5 194.7h0.6M280.7 192.1h0.6M275.9 195.3h0.6M271.9 189.4h0.6M275.5 194.0h0.6M284.8 201.8h0.6M294.8 198.2h0.6M277.6 191.2h0.6M288.6 195.0h0.6M268.3 195.3h0.6M289.4 189.5h0.6M285.4 197.4h0.6M285.0 193.1h0.6M278.1 191.0h0.6M289.1 194.8h0.6M283.7 190.8h0.6M286.5 193.2h0.6M276.0 190.7h0.6M269.5 190.6h0.6M279.2 195.7h0.6M284.2 204.3h0.6M275.0 193.1h0.6M275.5 197.7h0.6M286.2 194.1h0.6M284.6 201.8h0.6M281.9 194.6h0.6M285.7 188.6h0.6M278.5 191.1h0.6M283.5 195.5h0.6M279.9 191.4h0.6M283.1 193.6h0.6M282.2 197.1h0.6M282.6 197.1h0.6M282.9 196.1h0.6M282.0 196.1h0.6M290.4 192.7h0.6M282.2 197.2h0.6M277.6 195.3h0.6M290.7 202.4h0.6M284.2 205.1h0.6M295.7 187.5h0.6M279.7 193.5h0.6M277.6 196.6h0.6M273.8 197.4h0.6M285.1 196.4h0.6M278.0 193.4h0.6M291.2 191.7h0.6M290.0 194.4h0.6M290.3 197.2h0.6M283.1 191.4h0.6M297.6 194.0h0.6M277.5 194.3h0.6M273.0 189.0h0.6M277.8 194.5h0.6M270.3 194.0h0.6M289.6 193.1h0.6M298.0 193.0h0.6M292.0 194.3h0.6M278.3 191.1h0.6M279.3 195.0h0.6M266.4 188.4h0.6M295.5 191.9h0.6M286.8 189.9h0.6M277.6 188.1h0.6M276.3 194.7h0.6M270.5 194.0h0.6M299.6 194.3h0.6M286.1 196.7h0.6M286.8 190.1h0.6M276.7 196.8h0.6M283.3 190.3h0.6M277.7 198.0h0.6M287.7 192.2h0.6M282.7 188.7h0.6M275.5 197.8h0.6M283.5 195.6h0.6M281.9 198.4h0.6M280.0 192.8h0.6M285.5 189.7h0.6M279.1 190.0h0.6M281.0 196.7h0.6M285.2 192.5h0.6M292.4 192.0h0.6M271.3 195.4h0.6M282.7 202.2h0.6M283.7 193.1h0.6M289.6 191.6h0.6M289.7 194.5h0.6M272.2 187.2h0.6M288.2 194.8h0.6M286.5 193.3h0.6M279.0 192.1h0.6M264.3 193.0h0.6M290.6 195.3h0.6M289.4 198.3h0.6M285.9 191.6h0.6M274.9 185.5h0.6M288.0 193.0h0.6M287.6 200.7h0.6M284.1 195.6h0.6M279.8 193.6h0.6M293.9 197.4h0.6M281.7 193.8h0.6M278.3 189.7h0.6M288.0 194.1h0.6M277.0 190.4h0.6M271.0 197.7h0.6M265.6 199.8h0.6M276.5 202.0h0.6M256.4 207.1h0.6M271.2 205.5h0.6M265.6 202.9h0.6M267.6 196.6h0.6M278.1 189.2h0.6M275.8 208.3h0.6M270.8 200.8h0.6M270.5 196.7h0.6M263.2 205.6h0.6M267.7 210.3h0.6M266.6 201.3h0.6M260.2 205.8h0.6M272.0 202.4h0.6M261.3 207.4h0.6M259.8 208.5h0.6M275.9 205.5h0.6M275.1 204.8h0.6M271.2 206.6h0.6M257.5 215.1h0.6M263.0 204.6h0.6M281.6 203.6h0.6M271.2 205.5h0.6M262.7 201.4h0.6M284.8 196.9h0.6M259.0 208.5h0.6M272.0 202.2h0.6M272.6 199.8h0.6M280.9 195.6h0.6M258.1 207.5h0.6M266.9 211.9h0.6M256.2 205.4h0.6M264.4 217.2h0.6M262.2 206.7h0.6M259.3 214.5h0.6M267.5 202.8h0.6M258.3 208.8h0.6M275.3 202.2h0.6M269.0 208.9h0.6M291.2 193.0h0.6M257.9 208.1h0.6M260.9 205.9h0.6M272.6 198.6h0.6M265.5 202.1h0.6M263.6 202.5h0.6M261.8 204.2h0.6M264.7 203.5h0.6M278.7 211.4h0.6M273.5 205.0h0.6M265.6 200.9h0.6M273.9 202.9h0.6M274.9 198.5h0.6M285.1 197.4h0.6M284.5 197.6h0.6M263.8 197.8h0.6M281.7 200.8h0.6M260.5 204.6h0.6M265.8 207.9h0.6M272.4 197.5h0.6M263.2 199.8h0.6M277.5 200.1h0.6M266.2 204.6h0.6M274.4 191.9h0.6M271.2 209.9h0.6M263.3 205.3h0.6M276.4 209.8h0.6M257.4 202.0h0.6M253.9 202.7h0.6M260.7 216.3h0.6M276.7 200.8h0.6M269.6 198.0h0.6M254.5 207.9h0.6M268.8 208.1h0.6M284.8 193.0h0.6M260.8 209.9h0.6M276.2 198.0h0.6M281.3 204.6h0.6M252.8 206.9h0.6M273.0 201.3h0.6M275.7 190.1h0.6M278.1 200.9h0.6M259.3 200.1h0.6M281.9 198.4h0.6M265.7 207.9h0.6M260.4 199.9h0.6M280.2 192.4h0.6M263.0 208.2h0.6M257.8 208.5h0.6M278.9 199.0h0.6M280.4 205.7h0.6M266.7 199.7h0.6M260.5 203.3h0.6M278.3 192.7h0.6M284.9 191.7h0.6M257.1 216.0h0.6M270.6 209.3h0.6M272.3 208.5h0.6M268.7 202.5h0.6M278.0 205.9h0.6M288.6 198.0h0.6M269.5 211.2h0.6M282.9 195.7h0.6M260.8 205.6h0.6M267.9 206.6h0.6M275.4 200.0h0.6M280.0 203.8h0.6M282.1 194.3h0.6M263.6 204.9h0.6M261.0 209.2h0.6M262.0 204.6h0.6M283.6 190.5h0.6M278.9 198.4h0.6M256.7 208.8h0.6M268.9 207.2h0.6M272.9 200.3h0.6M263.8 199.3h0.6M271.5 204.9h0.6M274.9 201.2h0.6M280.1 198.2h0.6M269.3 201.8h0.6M279.1 200.5h0.6M283.6 188.9h0.6M270.9 194.3h0.6M260.0 211.5h0.6M270.6 199.2h0.6M271.3 206.6h0.6M285.7 199.3h0.6M264.0 222.4h0.6M274.3 200.3h0.6M283.0 197.8h0.6M270.2 208.3h0.6M280.3 192.1h0.6M259.2 205.7h0.6M289.5 195.7h0.6M263.4 212.7h0.6M275.9 200.2h0.6M264.0 215.1h0.6M268.3 203.4h0.6M268.5 203.1h0.6M284.3 191.1h0.6M271.0 202.3h0.6M278.8 197.8h0.6M283.6 198.6h0.6M281.9 202.6h0.6M274.6 193.3h0.6M260.9 204.3h0.6M270.4 200.7h0.6M268.5 211.0h0.6M256.0 202.7h0.6M267.3 211.3h0.6M256.2 218.8h0.6M253.6 205.7h0.6M262.9 204.8h0.6M274.2 200.9h0.6M278.1 200.4h0.6M283.3 189.1h0.6M285.4 197.4h0.6M283.0 199.8h0.6M270.0 209.9h0.6M264.9 204.4h0.6M254.8 206.5h0.6M274.8 207.7h0.6M275.2 199.9h0.6M275.5 190.6h0.6M263.7 203.7h0.6M256.9 211.5h0.6M260.8 209.9h0.6M271.6 197.4h0.6M279.6 196.0h0.6M268.4 195.6h0.6M269.1 207.3h0.6M275.3 192.2h0.6M275.9 207.0h0.6M277.6 195.6h0.6M254.6 206.0h0.6M287.4 198.8h0.6M272.4 214.6h0.6M273.5 198.9h0.6M262.4 209.6h0.6M267.9 202.2h0.6M267.4 199.0h0.6M281.8 199.7h0.6M286.0 203.7h0.6M268.9 201.1h0.6M260.8 212.6h0.6M282.0 208.4h0.6M269.4 209.2h0.6M274.2 200.7h0.6M252.1 206.3h0.6M273.6 193.3h0.6M267.5 194.7h0.6M268.5 199.9h0.6M283.4 201.3h0.6M284.1 193.2h0.6M278.1 204.9h0.6M266.3 211.6h0.6M258.6 217.9h0.6M257.0 207.9h0.6M259.4 202.6h0.6M270.3 200.2h0.6M282.3 195.4h0.6M277.3 200.7h0.6M270.0 197.8h0.6M260.8 216.6h0.6M274.7 196.8h0.6M264.2 203.6h0.6M263.4 195.5h0.6M279.6 197.3h0.6M254.3 212.5h0.6M261.5 213.9h0.6M260.2 208.5h0.6M265.2 202.5h0.6M279.9 192.2h0.6M271.4 204.4h0.6M280.2 197.1h0.6M257.6 209.5h0.6M282.2 197.6h0.6M287.8 192.0h0.6M267.5 205.4h0.6M280.2 196.3h0.6M267.5 212.9h0.6M284.6 203.7h0.6M272.7 196.4h0.6M273.5 201.0h0.6M269.6 206.2h0.6M270.7 204.8h0.6M264.9 211.9h0.6M258.5 206.6h0.6M281.7 207.7h0.6M271.0 205.8h0.6M278.4 199.0h0.6M267.0 212.5h0.6M287.0 191.4h0.6M268.4 202.9h0.6M278.7 199.3h0.6M272.7 198.7h0.6M260.6 211.9h0.6M265.0 208.9h0.6M262.8 200.5h0.6M270.2 197.7h0.6M269.2 198.4h0.6M266.8 209.9h0.6M283.2 195.2h0.6M275.3 211.5h0.6M269.4 205.3h0.6M278.8 200.3h0.6M286.4 191.7h0.6M261.9 210.6h0.6M280.9 204.5h0.6M274.4 199.6h0.6M280.5 195.9h0.6M264.9 214.8h0.6M271.4 199.4h0.6M275.0 198.4h0.6M279.7 199.9h0.6M284.0 202.1h0.6M270.7 208.8h0.6M257.5 210.3h0.6M288.7 191.0h0.6M270.3 208.9h0.6M265.2 202.2h0.6M281.1 203.0h0.6M284.0 200.1h0.6M254.4 219.9h0.6M276.5 198.8h0.6M279.7 187.5h0.6M255.9 213.4h0.6M283.8 198.1h0.6M275.1 201.8h0.6M271.6 197.7h0.6M265.7 207.9h0.6M271.0 203.5h0.6M292.2 197.5h0.6M283.2 191.9h0.6M262.7 207.9h0.6M270.7 202.0h0.6M270.7 195.0h0.6M263.9 200.3h0.6M270.2 201.9h0.6M281.2 196.5h0.6M261.9 214.1h0.6M252.0 201.5h0.6M264.5 207.1h0.6M281.8 200.1h0.6M249.6 198.3h0.6M253.5 199.4h0.6M259.1 188.4h0.6M258.1 191.1h0.6M266.4 205.9h0.6M268.0 196.1h0.6M255.7 187.9h0.6M257.1 189.4h0.6M263.4 186.4h0.6M260.8 207.9h0.6M262.7 197.5h0.6M264.7 204.2h0.6M264.5 207.6h0.6M252.3 207.4h0.6M249.1 200.6h0.6M260.2 184.7h0.6M263.5 192.5h0.6M250.5 186.6h0.6M254.8 192.4h0.6M257.2 196.5h0.6M264.7 190.2h0.6M267.2 189.9h0.6M250.7 199.7h0.6M263.1 199.9h0.6M248.8 187.3h0.6M248.8 203.3h0.6M249.2 201.8h0.6M254.3 203.8h0.6M260.1 205.2h0.6M261.9 190.0h0.6M250.6 188.3h0.6M248.6 199.5h0.6M259.6 200.7h0.6M266.6 192.5h0.6M257.9 207.1h0.6M263.1 189.0h0.6M255.5 201.1h0.6M262.7 186.5h0.6M250.8 197.6h0.6M262.0 205.4h0.6M255.6 201.3h0.6M263.3 190.0h0.6M255.6 201.0h0.6M256.0 205.7h0.6M265.6 183.1h0.6M267.2 190.8h0.6M262.8 202.3h0.6M256.3 198.2h0.6M259.6 194.8h0.6M252.7 190.2h0.6M262.2 186.0h0.6M266.2 192.1h0.6M261.0 206.4h0.6M254.4 183.6h0.6M248.1 196.4h0.6M261.8 197.0h0.6M263.6 203.8h0.6M262.3 199.0h0.6M267.8 195.7h0.6M264.2 197.5h0.6M257.5 185.0h0.6M267.1 183.2h0.6M261.2 200.5h0.6M249.9 187.5h0.6M265.6 201.0h0.6M250.1 199.1h0.6M255.0 192.6h0.6M249.2 195.6h0.6M266.7 190.3h0.6M259.1 192.6h0.6M252.4 204.7h0.6M263.2 185.7h0.6M249.4 193.6h0.6M268.0 196.8h0.6M265.6 202.3h0.6M249.2 204.4h0.6M250.6 191.9h0.6M257.1 186.4h0.6M250.0 199.3h0.6M266.6 204.6h0.6M251.3 196.0h0.6M254.6 196.8h0.6M266.8 192.1h0.6M256.4 199.8h0.6M255.8 183.2h0.6M261.3 198.1h0.6M263.4 183.7h0.6M262.6 202.1h0.6M248.5 204.4h0.6M268.0 194.3h0.6M267.5 187.3h0.6M252.8 198.1h0.6M267.4 184.3h0.6M257.7 189.7h0.6M251.3 190.1h0.6M262.9 203.1h0.6M257.1 200.1h0.6M262.3 203.2h0.6M258.2 186.9h0.6M260.5 199.2h0.6M256.6 193.0h0.6M265.9 183.7h0.6M253.8 188.9h0.6M253.1 195.3h0.6M267.6 184.5h0.6M266.9 205.7h0.6M256.4 190.6h0.6M267.6 186.8h0.6M253.9 191.6h0.6M251.1 207.4h0.6M269.0 232.5h0.6M268.5 221.1h0.6M286.2 222.5h0.6M292.3 211.1h0.6M270.1 207.1h0.6M295.0 200.9h0.6M271.4 236.9h0.6M286.3 207.2h0.6M279.9 230.2h0.6M269.0 201.3h0.6M290.9 210.6h0.6M274.4 230.3h0.6M294.1 219.4h0.6M276.0 231.3h0.6M290.1 223.3h0.6M276.2 222.3h0.6M271.0 232.9h0.6M279.3 209.5h0.6M282.4 205.5h0.6M270.0 214.2h0.6M284.7 222.8h0.6M270.5 232.6h0.6M293.3 217.8h0.6M284.9 201.5h0.6M270.7 206.8h0.6M279.7 211.6h0.6M268.4 231.9h0.6M293.7 236.1h0.6M280.9 228.1h0.6M281.6 202.4h0.6M293.8 210.8h0.6M284.2 232.4h0.6M287.7 203.2h0.6M267.7 223.0h0.6M266.4 223.5h0.6M272.7 226.9h0.6M294.6 223.5h0.6M273.2 212.5h0.6M268.3 216.5h0.6M275.9 221.3h0.6M293.8 205.9h0.6M277.3 207.4h0.6M267.2 216.6h0.6M288.2 220.0h0.6M278.0 233.7h0.6M285.4 225.6h0.6M279.2 232.3h0.6M288.4 200.9h0.6M287.4 211.9h0.6M272.0 224.0h0.6M289.4 235.8h0.6M275.1 238.0h0.6M276.5 234.5h0.6M272.5 214.8h0.6M274.5 228.5h0.6M290.3 230.1h0.6M279.3 234.0h0.6M270.4 228.6h0.6M268.8 219.4h0.6M275.1 231.1h0.6M289.1 247.1h0.6M276.3 244.5h0.6M280.7 248.7h0.6M275.0 244.4h0.6M290.7 242.0h0.6M285.4 248.6h0.6M280.0 245.8h0.6M284.3 247.4h0.6M272.7 245.5h0.6M270.3 245.6h0.6M277.3 247.2h0.6M278.9 243.6h0.6M283.0 246.2h0.6M274.0 247.9h0.6M271.4 244.6h0.6M285.2 245.1h0.6M282.0 247.2h0.6M278.7 243.9h0.6M280.7 246.3h0.6M288.0 247.4h0.6M288.2 245.6h0.6M272.0 246.2h0.6M280.2 249.6h0.6M272.1 246.5h0.6M278.6 244.4h0.6M291.9 243.9h0.6M269.9 247.2h0.6M289.9 245.9h0.6M290.8 244.6h0.6M272.3 246.4h0.6M279.1 242.9h0.6M277.8 244.9h0.6M269.4 246.6h0.6M289.4 245.8h0.6M274.9 246.1h0.6M272.9 244.6h0.6M280.4 243.8h0.6M272.7 248.3h0.6M274.2 244.3h0.6" stroke="#111" stroke-width="0.6"/><line x1="351.7" y1="169" x2="351.7" y2="255.9" stroke="#222" stroke-width="1"/><line x1="348.9" y1="255.4" x2="351.7" y2="255.4" stroke="#222" stroke-width="0.9"/><text x="345.8" y="257.5" font-size="5.8" text-anchor="end" transform="rotate(0.05 345.8 257.5)" letter-spacing="0.3">0</text><line x1="348.9" y1="238.62" x2="351.7" y2="238.62" stroke="#222" stroke-width="0.9"/><text x="345.8" y="240.72" font-size="5.8" text-anchor="end" transform="rotate(0.05 345.8 240.72)" letter-spacing="0.3">10</text><line x1="348.9" y1="221.84" x2="351.7" y2="221.84" stroke="#222" stroke-width="0.9"/><text x="345.8" y="223.94" font-size="5.8" text-anchor="end" transform="rotate(0.05 345.8 223.94)" letter-spacing="0.3">20</text><line x1="348.9" y1="205.06" x2="351.7" y2="205.06" stroke="#222" stroke-width="0.9"/><text x="345.8" y="207.16" font-size="5.8" text-anchor="end" transform="rotate(0.05 345.8 207.16)" letter-spacing="0.3">30</text><line x1="348.9" y1="188.28" x2="351.7" y2="188.28" stroke="#222" stroke-width="0.9"/><text x="345.8" y="190.38" font-size="5.8" text-anchor="end" transform="rotate(0.05 345.8 190.38)" letter-spacing="0.3">40</text><line x1="348.9" y1="171.5" x2="351.7" y2="171.5" stroke="#222" stroke-width="0.9"/><text x="345.8" y="173.6" font-size="5.8" text-anchor="end" transform="rotate(0.05 345.8 173.6)" letter-spacing="0.3">50</text><line x1="351.2" y1="255.4" x2="408" y2="255.4" stroke="#222" stroke-width="1"/><line x1="366" y1="255.4" x2="366" y2="258" stroke="#222" stroke-width="0.9"/><line x1="393" y1="255.4" x2="393" y2="258" stroke="#222" stroke-width="0.9"/><text x="366" y="266.6" font-size="6" text-anchor="middle" transform="rotate(0.05 366 266.6)">–</text><text x="393" y="267" font-size="6" text-anchor="middle" transform="rotate(0.05 393 267)">+</text><text x="379.9" y="277.4" font-size="7.2" text-anchor="middle" font-weight="bold" textLength="26.5" lengthAdjust="spacingAndGlyphs" transform="rotate(0.05 379.9 277.4)">S100A8/A9</text><text x="334.2" y="212.5" font-size="6.4" text-anchor="middle" font-weight="bold" textLength="25" lengthAdjust="spacingAndGlyphs" transform="rotate(-90 334.2 212.5)">% positive</text><path d="M390.3 191.4h0M400.1 196.6h0M396.7 202.1h0M390.3 204.7h0M387.6 228.9h0M393.7 232.1h0M400 231.3h0" stroke="#c8102e" stroke-width="4.6" stroke-linecap="round"/><path d="M393.7 213.7h0" stroke="#7a1020" stroke-width="4.6" stroke-linecap="round"/><line x1="384.7" y1="212" x2="402.3" y2="212" stroke="#111" stroke-width="1"/><line x1="393.5" y1="206.9" x2="393.5" y2="218.5" stroke="#111" stroke-width="0.9"/><line x1="390" y1="206.9" x2="397" y2="206.9" stroke="#111" stroke-width="0.9"/><line x1="390" y1="218.5" x2="397" y2="218.5" stroke="#111" stroke-width="0.9"/><text x="393.7" y="186" font-size="6" text-anchor="middle" font-weight="bold" fill="#111" textLength="12" lengthAdjust="spacingAndGlyphs" transform="rotate(0.05 393.7 186)">****</text><path d="M359 253.8h0M361.5 252.2h0M364 254h0M366.5 253h0M369 251.5h0M371.5 253.8h0M373.6 252.6h0M363 255h0M368 255h0" stroke="#143a60" stroke-width="4.2" stroke-linecap="round"/><text x="416.5" y="160.4" font-size="11" font-weight="bold" fill="#111" textLength="7.8" lengthAdjust="spacingAndGlyphs" transform="rotate(0.05 416.5 160.4)" stroke="#111" stroke-width="0.5">G</text><text x="468.8" y="164.6" font-size="8.3" text-anchor="middle" textLength="43.2" lengthAdjust="spacingAndGlyphs" transform="rotate(0.05 468.8 164.6)">IFI27 mRNA</text><line x1="440.8" y1="169" x2="440.8" y2="255.8" stroke="#222" stroke-width="1"/><line x1="438" y1="255.3" x2="440.8" y2="255.3" stroke="#222" stroke-width="0.9"/><text x="434.9" y="257.4" font-size="5.8" text-anchor="end" transform="rotate(0.05 434.9 257.4)" letter-spacing="0.3">0</text><line x1="438" y1="238.5" x2="440.8" y2="238.5" stroke="#222" stroke-width="0.9"/><text x="434.9" y="240.6" font-size="5.8" text-anchor="end" transform="rotate(0.05 434.9 240.6)" letter-spacing="0.3">1</text><line x1="438" y1="221.7" x2="440.8" y2="221.7" stroke="#222" stroke-width="0.9"/><text x="434.9" y="223.8" font-size="5.8" text-anchor="end" transform="rotate(0.05 434.9 223.8)" letter-spacing="0.3">2</text><line x1="438" y1="204.9" x2="440.8" y2="204.9" stroke="#222" stroke-width="0.9"/><text x="434.9" y="207" font-size="5.8" text-anchor="end" transform="rotate(0.05 434.9 207)" letter-spacing="0.3">3</text><line x1="438" y1="188.1" x2="440.8" y2="188.1" stroke="#222" stroke-width="0.9"/><text x="434.9" y="190.2" font-size="5.8" text-anchor="end" transform="rotate(0.05 434.9 190.2)" letter-spacing="0.3">4</text><line x1="438" y1="171.3" x2="440.8" y2="171.3" stroke="#222" stroke-width="0.9"/><text x="434.9" y="173.4" font-size="5.8" text-anchor="end" transform="rotate(0.05 434.9 173.4)" letter-spacing="0.3">5</text><line x1="440.3" y1="255.3" x2="496.5" y2="255.3" stroke="#222" stroke-width="1"/><line x1="454.6" y1="255.3" x2="454.6" y2="257.9" stroke="#222" stroke-width="0.9"/><line x1="482.1" y1="255.3" x2="482.1" y2="257.9" stroke="#222" stroke-width="0.9"/><text x="454.6" y="266.4" font-size="6" text-anchor="middle" transform="rotate(0.05 454.6 266.4)">–</text><text x="482.1" y="266.8" font-size="6" text-anchor="middle" transform="rotate(0.05 482.1 266.8)">+</text><text x="469" y="277.5" font-size="7.2" text-anchor="middle" font-weight="bold" textLength="26.8" lengthAdjust="spacingAndGlyphs" transform="rotate(0.05 469 277.5)">S100A8/A9</text><text x="422.1" y="212.7" font-size="6.4" text-anchor="middle" font-weight="bold" textLength="27.7" lengthAdjust="spacingAndGlyphs" transform="rotate(-90 422.1 212.7)">% positive</text><path d="M484.7 183.4h0M478.7 188.3h0M488.2 192.1h0M475.7 196h0M475.7 220.9h0M482.1 225.9h0M488.2 225.9h0" stroke="#c8102e" stroke-width="4.6" stroke-linecap="round"/><path d="M482.3 197.8h0" stroke="#7a1020" stroke-width="4.6" stroke-linecap="round"/><line x1="473.1" y1="203.5" x2="491.3" y2="203.5" stroke="#111" stroke-width="1"/><line x1="483" y1="196.9" x2="483" y2="209.9" stroke="#111" stroke-width="0.9"/><line x1="480" y1="196.9" x2="486" y2="196.9" stroke="#111" stroke-width="0.9"/><line x1="480" y1="209.9" x2="486" y2="209.9" stroke="#111" stroke-width="0.9"/><text x="482.2" y="179.6" font-size="6" text-anchor="middle" font-weight="bold" fill="#111" textLength="11.3" lengthAdjust="spacingAndGlyphs" transform="rotate(0.05 482.2 179.6)">****</text><path d="M454.6 246.3h0M448.5 253.5h0M451 254h0M453.5 253.8h0M456 254.2h0M458.5 254h0M461 254.3h0M450 252.5h0M455 252.8h0" stroke="#143a60" stroke-width="4.2" stroke-linecap="round"/><text x="3.7" y="298.5" font-size="11" font-weight="bold" fill="#111" textLength="7.6" lengthAdjust="spacingAndGlyphs" transform="rotate(0.05 3.7 298.5)" stroke="#111" stroke-width="0.5">H</text><text x="16.4" y="309.7" font-size="8.3" textLength="152.9" lengthAdjust="spacingAndGlyphs" transform="rotate(0.05 16.4 309.7)">FACS: DNA+ CD41+ CD61+ S100A8/A9–</text><text x="174.5" y="309.8" font-size="8.3" textLength="152.5" lengthAdjust="spacingAndGlyphs" transform="rotate(0.05 174.5 309.8)">FACS: DNA+ CD41+ CD61+ S100A8/A9+</text><rect x="19.9" y="314.4" width="152.4" height="111.9" fill="#080808"/><rect x="19.9" y="314.4" width="152.4" height="6.6" fill="#000"/><rect x="19.9" y="321" width="37.9" height="105.3" fill="#a0a0a0"/><line x1="19.9" y1="321.2" x2="172.3" y2="321.2" stroke="#555" stroke-width="0.4"/><text x="39.2" y="319.8" font-size="6.2" text-anchor="middle" fill="#f4f4f4" textLength="26.3" lengthAdjust="spacingAndGlyphs" transform="rotate(0.05 39.2 319.8)">brightfield</text><text x="80.2" y="319.8" font-size="6.2" text-anchor="middle" fill="#d4cc40" textLength="30.7" lengthAdjust="spacingAndGlyphs" transform="rotate(0.05 80.2 319.8)">S100A8/A9</text><text x="116.2" y="319.8" font-size="6.2" text-anchor="middle" fill="#38b040" textLength="17.6" lengthAdjust="spacingAndGlyphs" transform="rotate(0.05 116.2 319.8)">CD61</text><text x="154.6" y="319.8" font-size="6.2" text-anchor="middle" fill="#d8388e" textLength="18" lengthAdjust="spacingAndGlyphs" transform="rotate(0.05 154.6 319.8)">CD41</text><rect x="176.8" y="314.3" width="144.5" height="112.1" fill="#080808"/><rect x="176.8" y="314.3" width="144.5" height="6.6" fill="#000"/><rect x="176.8" y="320.9" width="36.4" height="105.5" fill="#a0a0a0"/><line x1="176.8" y1="321.1" x2="321.3" y2="321.1" stroke="#555" stroke-width="0.4"/><text x="193.3" y="319.7" font-size="6.2" text-anchor="middle" fill="#f4f4f4" textLength="25.4" lengthAdjust="spacingAndGlyphs" transform="rotate(0.05 193.3 319.7)">brightfield</text><text x="234.4" y="319.7" font-size="6.2" text-anchor="middle" fill="#d4cc40" textLength="30.8" lengthAdjust="spacingAndGlyphs" transform="rotate(0.05 234.4 319.7)">S100A8/A9</text><text x="268.2" y="319.7" font-size="6.2" text-anchor="middle" fill="#38b040" textLength="17.6" lengthAdjust="spacingAndGlyphs" transform="rotate(0.05 268.2 319.7)">CD61</text><text x="306.2" y="319.7" font-size="6.2" text-anchor="middle" fill="#d8388e" textLength="18" lengthAdjust="spacingAndGlyphs" transform="rotate(0.05 306.2 319.7)">CD41</text><defs><filter id="gb" x="-30%" y="-30%" width="160%" height="160%"><feGaussianBlur stdDeviation="0.7"/></filter><filter id="gb2" x="-30%" y="-30%" width="160%" height="160%"><feGaussianBlur stdDeviation="0.45"/></filter></defs><g filter="url(#gb2)"><ellipse cx="39.4" cy="338.8" rx="10" ry="10.1" fill="none" stroke="#b8b8b8" stroke-width="1"/><ellipse cx="39.4" cy="338.8" rx="9.2" ry="9.3" fill="#d8d8d8" stroke="#5a5a5a" stroke-width="0.9"/><circle cx="43.36" cy="336.8" r="0.68" fill="#9a9a9a"/><circle cx="43.76" cy="343.5" r="0.99" fill="#f4f4f4"/><circle cx="36.48" cy="336.35" r="1.27" fill="#9a9a9a"/><circle cx="39.79" cy="338.15" r="0.64" fill="#9a9a9a"/><circle cx="38.77" cy="336.55" r="0.73" fill="#f4f4f4"/><circle cx="36.04" cy="339.17" r="1.28" fill="#9a9a9a"/><circle cx="41.61" cy="342.64" r="0.93" fill="#f4f4f4"/><circle cx="41.87" cy="342.32" r="1.24" fill="#f4f4f4"/><circle cx="40.14" cy="345.77" r="0.67" fill="#f4f4f4"/><circle cx="41.56" cy="340.85" r="0.96" fill="#f4f4f4"/><circle cx="40.43" cy="342.12" r="1.19" fill="#f4f4f4"/><circle cx="36.51" cy="336.32" r="0.66" fill="#f4f4f4"/><circle cx="40.12" cy="332.05" r="0.84" fill="#9a9a9a"/><circle cx="43.39" cy="335.11" r="1.06" fill="#f4f4f4"/><circle cx="34.71" cy="341.69" r="0.93" fill="#f4f4f4"/><circle cx="35.45" cy="336.35" r="0.61" fill="#9a9a9a"/><circle cx="38.99" cy="340.04" r="1.17" fill="#9a9a9a"/><circle cx="45.57" cy="334.78" r="0.97" fill="#f4f4f4"/><circle cx="39.72" cy="340.62" r="1.19" fill="#9a9a9a"/><circle cx="39.22" cy="341.49" r="1.02" fill="#f4f4f4"/><circle cx="38.97" cy="342.43" r="0.7" fill="#9a9a9a"/><circle cx="39.29" cy="338.63" r="1.18" fill="#9a9a9a"/></g><g filter="url(#gb2)"><ellipse cx="38.9" cy="375" rx="9.4" ry="11.1" fill="none" stroke="#b8b8b8" stroke-width="1"/><ellipse cx="38.9" cy="375" rx="8.6" ry="10.3" fill="#d8d8d8" stroke="#5a5a5a" stroke-width="0.9"/><circle cx="32.53" cy="376.3" r="1.21" fill="#f4f4f4"/><circle cx="36" cy="379.6" r="0.81" fill="#9a9a9a"/><circle cx="42.3" cy="374.87" r="0.87" fill="#9a9a9a"/><circle cx="39.09" cy="373.37" r="0.6" fill="#f4f4f4"/><circle cx="36.59" cy="378.91" r="0.64" fill="#9a9a9a"/><circle cx="38.89" cy="375.4" r="1.13" fill="#f4f4f4"/><circle cx="38.23" cy="367.56" r="0.68" fill="#f4f4f4"/><circle cx="40.23" cy="367.54" r="0.65" fill="#f4f4f4"/><circle cx="36.24" cy="376.22" r="0.95" fill="#9a9a9a"/><circle cx="38.75" cy="375.4" r="0.78" fill="#f4f4f4"/><circle cx="40.43" cy="374.74" r="0.85" fill="#f4f4f4"/><circle cx="39.37" cy="379.81" r="0.71" fill="#f4f4f4"/><circle cx="38.49" cy="377.42" r="1.02" fill="#9a9a9a"/><circle cx="37.62" cy="374.92" r="0.94" fill="#9a9a9a"/><circle cx="37.04" cy="375.08" r="0.74" fill="#9a9a9a"/><circle cx="41.07" cy="379.92" r="1.26" fill="#f4f4f4"/><circle cx="37.94" cy="376.23" r="0.69" fill="#9a9a9a"/><circle cx="39.45" cy="370.72" r="0.87" fill="#f4f4f4"/><circle cx="40.16" cy="373.93" r="1.2" fill="#f4f4f4"/><circle cx="40.18" cy="368.72" r="0.7" fill="#f4f4f4"/><circle cx="37.51" cy="375.62" r="0.67" fill="#f4f4f4"/><circle cx="36.58" cy="370.66" r="0.76" fill="#9a9a9a"/></g><g filter="url(#gb2)"><ellipse cx="40" cy="407.2" rx="10" ry="10" fill="none" stroke="#b8b8b8" stroke-width="1"/><ellipse cx="40" cy="407.2" rx="9.2" ry="9.2" fill="#d8d8d8" stroke="#5a5a5a" stroke-width="0.9"/><circle cx="44.98" cy="407.98" r="0.96" fill="#9a9a9a"/><circle cx="35.51" cy="405.01" r="1.27" fill="#f4f4f4"/><circle cx="45.21" cy="404.77" r="0.97" fill="#9a9a9a"/><circle cx="39.08" cy="407.34" r="0.73" fill="#f4f4f4"/><circle cx="44.25" cy="404.29" r="1.17" fill="#f4f4f4"/><circle cx="35.94" cy="411.38" r="0.93" fill="#f4f4f4"/><circle cx="43.17" cy="401.21" r="0.82" fill="#9a9a9a"/><circle cx="39.75" cy="407.75" r="1.21" fill="#f4f4f4"/><circle cx="45.1" cy="404.36" r="1.04" fill="#9a9a9a"/><circle cx="40.22" cy="405.87" r="0.77" fill="#9a9a9a"/><circle cx="44.79" cy="403.9" r="0.68" fill="#9a9a9a"/><circle cx="39.84" cy="407.88" r="1.13" fill="#9a9a9a"/><circle cx="38.97" cy="408.1" r="0.9" fill="#f4f4f4"/><circle cx="42.94" cy="412.97" r="1.16" fill="#9a9a9a"/><circle cx="43.45" cy="411.53" r="0.8" fill="#9a9a9a"/><circle cx="41.42" cy="407.48" r="1.07" fill="#9a9a9a"/><circle cx="40.61" cy="401.83" r="0.86" fill="#9a9a9a"/><circle cx="36.52" cy="402.25" r="0.7" fill="#9a9a9a"/><circle cx="38.23" cy="409.72" r="0.96" fill="#f4f4f4"/><circle cx="33.87" cy="408.64" r="0.99" fill="#9a9a9a"/><circle cx="45.57" cy="409.63" r="1.02" fill="#f4f4f4"/><circle cx="44.13" cy="401.52" r="0.7" fill="#9a9a9a"/></g><g filter="url(#gb2)"><circle cx="196.6" cy="338.4" r="9.8" fill="#c4c4c4" stroke="#d8d8d8" stroke-width="1"/><circle cx="196.6" cy="338.4" r="8.2" fill="#b0b0b0" stroke="#383838" stroke-width="1.4"/><circle cx="196.6" cy="338.4" r="5.8" fill="none" stroke="#6a6a6a" stroke-width="0.8" stroke-dasharray="2 1.5"/><circle cx="191.88" cy="340.24" r="0.66" fill="#555"/><circle cx="193.26" cy="340.2" r="0.72" fill="#555"/><circle cx="196.95" cy="339.06" r="0.94" fill="#555"/><circle cx="192.91" cy="337.87" r="0.98" fill="#555"/><circle cx="194.03" cy="335.52" r="0.85" fill="#555"/><circle cx="193.22" cy="335.5" r="0.9" fill="#e8e8e8"/><circle cx="196.18" cy="335.85" r="0.72" fill="#e8e8e8"/><circle cx="195.06" cy="337.86" r="0.72" fill="#555"/><circle cx="192.42" cy="339.23" r="0.9" fill="#555"/><circle cx="198.36" cy="338.83" r="0.9" fill="#555"/><circle cx="197.16" cy="334.64" r="0.89" fill="#555"/><circle cx="196.26" cy="339.07" r="0.95" fill="#555"/></g><g filter="url(#gb2)"><ellipse cx="196.1" cy="372" rx="10.4" ry="10.6" fill="none" stroke="#b8b8b8" stroke-width="1"/><ellipse cx="196.1" cy="372" rx="9.6" ry="9.8" fill="#d8d8d8" stroke="#5a5a5a" stroke-width="0.9"/><circle cx="199.15" cy="371.26" r="0.77" fill="#f4f4f4"/><circle cx="197.11" cy="371.01" r="1.23" fill="#f4f4f4"/><circle cx="191.46" cy="373.69" r="1.05" fill="#9a9a9a"/><circle cx="196.08" cy="371.99" r="0.74" fill="#f4f4f4"/><circle cx="195.96" cy="372.38" r="1.28" fill="#9a9a9a"/><circle cx="193.32" cy="369.66" r="1" fill="#f4f4f4"/><circle cx="200.62" cy="366.06" r="0.65" fill="#9a9a9a"/><circle cx="196.46" cy="371.32" r="0.68" fill="#9a9a9a"/><circle cx="196.26" cy="371.64" r="1.11" fill="#f4f4f4"/><circle cx="192.91" cy="373.26" r="1.3" fill="#f4f4f4"/><circle cx="193.4" cy="374.47" r="1.13" fill="#f4f4f4"/><circle cx="194.82" cy="372.69" r="0.68" fill="#f4f4f4"/><circle cx="192.92" cy="370.44" r="0.84" fill="#9a9a9a"/><circle cx="190.54" cy="374.71" r="1.1" fill="#f4f4f4"/><circle cx="197.71" cy="373.15" r="0.98" fill="#9a9a9a"/><circle cx="197.67" cy="369" r="1.05" fill="#9a9a9a"/><circle cx="192.62" cy="378.15" r="0.76" fill="#f4f4f4"/><circle cx="194.97" cy="373.66" r="0.88" fill="#9a9a9a"/><circle cx="197.84" cy="374.43" r="1.14" fill="#9a9a9a"/><circle cx="200.34" cy="371.06" r="1.25" fill="#9a9a9a"/><circle cx="195.7" cy="372.62" r="1.29" fill="#9a9a9a"/><circle cx="189.45" cy="370.49" r="1.26" fill="#9a9a9a"/></g><g filter="url(#gb2)"><ellipse cx="196.1" cy="406" rx="10.1" ry="10.3" fill="none" stroke="#b8b8b8" stroke-width="1"/><ellipse cx="196.1" cy="406" rx="9.3" ry="9.5" fill="#d8d8d8" stroke="#5a5a5a" stroke-width="0.9"/><circle cx="200" cy="403.07" r="0.87" fill="#9a9a9a"/><circle cx="198.36" cy="410.32" r="1" fill="#f4f4f4"/><circle cx="197.16" cy="401.58" r="0.72" fill="#f4f4f4"/><circle cx="196.04" cy="406.04" r="0.67" fill="#9a9a9a"/><circle cx="194.63" cy="400.41" r="0.73" fill="#f4f4f4"/><circle cx="196.51" cy="405.34" r="1.15" fill="#9a9a9a"/><circle cx="197.73" cy="410.51" r="0.98" fill="#f4f4f4"/><circle cx="195.39" cy="407.1" r="0.8" fill="#f4f4f4"/><circle cx="191.81" cy="400.72" r="1.28" fill="#f4f4f4"/><circle cx="192.87" cy="411.95" r="0.83" fill="#9a9a9a"/><circle cx="197.26" cy="403.1" r="0.6" fill="#f4f4f4"/><circle cx="197.74" cy="404.58" r="1.13" fill="#f4f4f4"/><circle cx="192.3" cy="399.5" r="0.75" fill="#f4f4f4"/><circle cx="198.76" cy="401.61" r="0.87" fill="#f4f4f4"/><circle cx="200.02" cy="401.19" r="0.97" fill="#f4f4f4"/><circle cx="196.09" cy="405.99" r="0.66" fill="#9a9a9a"/><circle cx="194.37" cy="407.33" r="1.22" fill="#9a9a9a"/><circle cx="193.55" cy="408.67" r="0.76" fill="#f4f4f4"/><circle cx="193.65" cy="405.79" r="1.21" fill="#9a9a9a"/><circle cx="194.23" cy="405.22" r="1.24" fill="#f4f4f4"/><circle cx="197.72" cy="404.85" r="0.84" fill="#9a9a9a"/><circle cx="191.93" cy="402.16" r="0.64" fill="#9a9a9a"/></g><g filter="url(#gb)"><path d="M102.5 339c0-6 5-10 12-10s12.5 4 12.5 10.5c0 6-5 10.5-10 10.5-1 0-1.5-2-3-2s-2 2-3.5 2c-5 0-8-5-8-11z" fill="#3ccc48"/><ellipse cx="110" cy="336" rx="5" ry="4" fill="#6ae070" opacity="0.6"/><path d="M140.8 340c0-6 5.5-10 13.5-10 8 0 13.5 4.5 13.5 10.5s-6 10.5-13.5 10.5c-8 0-13.5-5-13.5-11z" fill="#f03494"/><path d="M116.5 398.6a10.6 10.6 0 1 1 -10.4 8.5l6 1.5 -2.5-5z" fill="#3ccc48"/><path d="M155.5 399.2a11.3 10.6 0 1 1 -11 8l5.5 1.6 -2.5-5z" fill="#f03494"/></g><path d="M121.2 365.3h0" stroke="#3ccc48" stroke-width="3.8" stroke-linecap="round"/><path d="M110.4 379.7h0M120 378.5h0" stroke="#3ccc48" stroke-width="2.8" stroke-linecap="round"/><path d="M108 368h0M106 373h0M114 375h0M118 383h0M123 370h0M112 384h0" stroke="#2a8a30" stroke-width="1.6" stroke-linecap="round"/><path d="M161 366.5h0" stroke="#f03494" stroke-width="2.6" stroke-linecap="round"/><path d="M152 372h0M155 380h0M150 383h0M158 377h0" stroke="#8a2058" stroke-width="1.2" stroke-linecap="round"/><g filter="url(#gb)"><circle cx="230" cy="339.4" r="8.6" fill="#3a3a0c" stroke="#868620" stroke-width="2"/><circle cx="231.2" cy="374" r="11.3" fill="#b4ae22"/><circle cx="231" cy="408.5" r="10.4" fill="#c8c224" stroke="#ecec2a" stroke-width="2.2"/><path d="M262.5 328.5a10 10 0 0 1 11 14" fill="none" stroke="#3ccc48" stroke-width="2.8"/><path d="M266 361.7a10.5 10.5 0 0 1 9.7 19" fill="none" stroke="#3ccc48" stroke-width="2.6"/><path d="M262.5 396.8a11 11 0 0 1 13.2 20" fill="none" stroke="#3ccc48" stroke-width="3"/><path d="M309.4 330.4c4 1 6 3 5.5 7s-1 7-2.5 9-3 3-4 3.5" fill="none" stroke="#f03494" stroke-width="3.2"/><path d="M305 398.5a10.5 10.5 0 0 1 10 16 10.5 10.5 0 0 1 -13 6" fill="none" stroke="#f03494" stroke-width="3"/><circle cx="304" cy="407" r="4" fill="#f03494" opacity="0.8"/><path d="M293 402a11 11 0 0 0 1 14" fill="none" stroke="#a02068" stroke-width="2"/></g><path d="M256.5 335.2h0M275 346h0" stroke="#3ccc48" stroke-width="2.2" stroke-linecap="round"/><path d="M267.8 347.2h0M273.3 331.6h0" stroke="#3ccc48" stroke-width="3.8" stroke-linecap="round"/><path d="M258.9 366.5h0" stroke="#3ccc48" stroke-width="4.8" stroke-linecap="round"/><path d="M262 372h0M268 379h0M272.5 384h0" stroke="#2a9a34" stroke-width="1.8" stroke-linecap="round"/><path d="M273.3 418h0" stroke="#3ccc48" stroke-width="2.2" stroke-linecap="round"/><path d="M265 412h0M260 405h0" stroke="#2a8a30" stroke-width="1.2" stroke-linecap="round"/><path d="M297.3 337.6h0M300 333.5h0M300 345h0M303 341h0" stroke="#f03494" stroke-width="3" stroke-linecap="round"/><path d="M298.5 367.7h0" stroke="#f03494" stroke-width="4" stroke-linecap="round"/><path d="M310 365h0M316 372h0M306 385h0M312 381h0" stroke="#c02878" stroke-width="1.6" stroke-linecap="round"/><text x="333.8" y="298.5" font-size="11" font-weight="bold" fill="#111" textLength="3.2" lengthAdjust="spacingAndGlyphs" transform="rotate(0.05 333.8 298.5)" stroke="#111" stroke-width="0.5">I</text><rect x="349.4" y="303.5" width="57.6" height="96.3" fill="none" stroke="#444" stroke-width="0.8"/><polygon points="350.5,368.7 353,368 355,364 357,357 358.5,350 359.5,343 360.5,337 361.5,333 363,330 365,327 367,323 369,320.5 371,317 372.5,315 373.5,312 374.5,313 375.5,309 376.5,311 377.5,308.5 378.5,314 379.5,316 381,322 382.5,330 384,336 386,343 388,349 390.5,355 393.5,360.5 397,364.5 401,367.3 407,368.7" fill="#d64040"/><line x1="349.4" y1="368.8" x2="407" y2="368.8" stroke="#d64040" stroke-width="0.8"/><polygon points="350.5,399.5 352,396 353,385 354,370 355,360 356.3,351 357.4,346.5 358.5,349 359.5,355 360.5,362 361.5,368 362.5,374 364,382 365.5,389 367,393.5 369,396.5 372,398.5 375,399.5" fill="#3a5a9c"/><rect x="390.2" y="306.6" width="7.3" height="6.9" fill="#d64040"/><rect x="390.2" y="317.5" width="7.3" height="6.9" fill="#3a5a9c"/><text x="402.3" y="312.2" font-size="5.5" text-anchor="middle" transform="rotate(0.05 402.3 312.2)">+</text><text x="402.3" y="323" font-size="5.5" text-anchor="middle" transform="rotate(0.05 402.3 323)">–</text><line x1="349.3" y1="399.8" x2="349.3" y2="401.8" stroke="#333" stroke-width="0.8"/><text x="349.3" y="411.3" font-size="6" text-anchor="middle" transform="rotate(0.05 349.3 411.3)">0</text><line x1="367.6" y1="399.8" x2="367.6" y2="401.8" stroke="#333" stroke-width="0.8"/><text x="367.6" y="411.3" font-size="6" text-anchor="middle" transform="rotate(0.05 367.6 411.3)">100K</text><line x1="385.4" y1="399.8" x2="385.4" y2="401.8" stroke="#333" stroke-width="0.8"/><text x="385.4" y="411.3" font-size="6" text-anchor="middle" transform="rotate(0.05 385.4 411.3)">200K</text><line x1="403" y1="399.8" x2="403" y2="401.8" stroke="#333" stroke-width="0.8"/><text x="403" y="411.3" font-size="6" text-anchor="middle" transform="rotate(0.05 403 411.3)">300K</text><text x="378.3" y="422" font-size="7.2" text-anchor="middle" font-weight="bold" textLength="17" lengthAdjust="spacingAndGlyphs" transform="rotate(0.05 378.3 422)">SSC-A</text><text x="344.2" y="351" font-size="6.6" text-anchor="middle" font-weight="bold" textLength="28" lengthAdjust="spacingAndGlyphs" transform="rotate(-90 344.2 351)">S100A8/A9</text><text x="470.4" y="295.6" font-size="8.3" text-anchor="middle" textLength="34.7" lengthAdjust="spacingAndGlyphs" transform="rotate(0.05 470.4 295.6)">granularity</text><line x1="442.3" y1="303" x2="442.3" y2="400.4" stroke="#222" stroke-width="1"/><line x1="439.5" y1="399.9" x2="442.3" y2="399.9" stroke="#222" stroke-width="0.9"/><text x="436.4" y="402" font-size="5.8" text-anchor="end" transform="rotate(0.05 436.4 402)" letter-spacing="0.3">0</text><line x1="439.5" y1="376.25" x2="442.3" y2="376.25" stroke="#222" stroke-width="0.9"/><text x="436.4" y="378.35" font-size="5.8" text-anchor="end" transform="rotate(0.05 436.4 378.35)" letter-spacing="0.3">5</text><line x1="439.5" y1="352.6" x2="442.3" y2="352.6" stroke="#222" stroke-width="0.9"/><text x="436.4" y="354.7" font-size="5.8" text-anchor="end" transform="rotate(0.05 436.4 354.7)" letter-spacing="0.3">10</text><line x1="439.5" y1="328.95" x2="442.3" y2="328.95" stroke="#222" stroke-width="0.9"/><text x="436.4" y="331.05" font-size="5.8" text-anchor="end" transform="rotate(0.05 436.4 331.05)" letter-spacing="0.3">15</text><line x1="439.5" y1="305.3" x2="442.3" y2="305.3" stroke="#222" stroke-width="0.9"/><text x="436.4" y="307.4" font-size="5.8" text-anchor="end" transform="rotate(0.05 436.4 307.4)" letter-spacing="0.3">20</text><line x1="441.8" y1="399.9" x2="498.3" y2="399.9" stroke="#222" stroke-width="1"/><line x1="456.7" y1="399.9" x2="456.7" y2="402.5" stroke="#222" stroke-width="0.9"/><line x1="484.1" y1="399.9" x2="484.1" y2="402.5" stroke="#222" stroke-width="0.9"/><text x="456.7" y="410.4" font-size="6" text-anchor="middle" transform="rotate(0.05 456.7 410.4)">–</text><text x="484.1" y="410.8" font-size="6" text-anchor="middle" transform="rotate(0.05 484.1 410.8)">+</text><text x="470.3" y="421.8" font-size="7.2" text-anchor="middle" font-weight="bold" textLength="26.5" lengthAdjust="spacingAndGlyphs" transform="rotate(0.05 470.3 421.8)">S100A8/A9</text><text x="423.7" y="350.8" font-size="6.2" text-anchor="middle" font-weight="bold" textLength="25.4" lengthAdjust="spacingAndGlyphs" transform="rotate(-90 423.7 350.8)">MFI (x10<tspan dy="-2.2" font-size="4">6</tspan><tspan dy="2.2">)</tspan></text><path d="M448.4 354.07h0M452.3 355.44h0M456.2 356.8h0M460.1 355.44h0M464 354.07h0M450.35 358.25h0M454.25 359.62h0M458.15 359.62h0M462.05 358.25h0M452.3 363.24h0M456.2 364.6h0M460.1 363.24h0M449.7 365.33h0M452.3 366.24h0M454.9 367.15h0M457.5 367.15h0M460.1 366.24h0M462.7 365.33h0M448.4 367.37h0M451 368.28h0M453.6 369.19h0M456.2 370.1h0M458.8 369.19h0M461.4 368.28h0M464 367.37h0M448.4 369.87h0M451 370.78h0M453.6 371.69h0M456.2 372.6h0M458.8 371.69h0M461.4 370.78h0M464 369.87h0M448.4 372.37h0M451 373.28h0M453.6 374.19h0M456.2 375.1h0M458.8 374.19h0M461.4 373.28h0M464 372.37h0M449.7 375.33h0M452.3 376.24h0M454.9 377.15h0M457.5 377.15h0M460.1 376.24h0M462.7 375.33h0M451 378.28h0M453.6 379.19h0M456.2 380.1h0M458.8 379.19h0M461.4 378.28h0M453.6 381.49h0M456.2 382.4h0M458.8 381.49h0M454 339.2h0M457.8 335.4h0" stroke="#0f4276" stroke-width="2.7" stroke-linecap="round"/><line x1="447" y1="373.8" x2="465" y2="373.8" stroke="#111" stroke-width="1.1"/><path d="M484 321.9h0M476.4 324.14h0M480.2 325.47h0M484 326.8h0M487.8 325.47h0M491.6 324.14h0M480.1 328.83h0M482.7 329.75h0M485.3 329.75h0M487.9 328.83h0M478.8 330.88h0M481.4 331.79h0M484 332.7h0M486.6 331.79h0M489.2 330.88h0M477.5 332.93h0M480.1 333.83h0M482.7 334.75h0M485.3 334.75h0M487.9 333.83h0M490.5 332.93h0M476.2 334.97h0M478.8 335.88h0M481.4 336.79h0M484 337.7h0M486.6 336.79h0M489.2 335.88h0M491.8 334.97h0M476.2 337.47h0M478.8 338.38h0M481.4 339.29h0M484 340.2h0M486.6 339.29h0M489.2 338.38h0M491.8 337.47h0M476.2 339.97h0M478.8 340.88h0M481.4 341.79h0M484 342.7h0M486.6 341.79h0M489.2 340.88h0M491.8 339.97h0M476.2 342.47h0M478.8 343.38h0M481.4 344.29h0M484 345.2h0M486.6 344.29h0M489.2 343.38h0M491.8 342.47h0M476.2 344.97h0M478.8 345.88h0M481.4 346.79h0M484 347.7h0M486.6 346.79h0M489.2 345.88h0M491.8 344.97h0M476.2 347.47h0M478.8 348.38h0M481.4 349.29h0M484 350.2h0M486.6 349.29h0M489.2 348.38h0M491.8 347.47h0M476.2 349.97h0M478.8 350.88h0M481.4 351.79h0M484 352.7h0M486.6 351.79h0M489.2 350.88h0M491.8 349.97h0M476.2 352.47h0M478.8 353.38h0M481.4 354.29h0M484 355.2h0M486.6 354.29h0M489.2 353.38h0M491.8 352.47h0M476.2 354.97h0M478.8 355.88h0M481.4 356.79h0M484 357.7h0M486.6 356.79h0M489.2 355.88h0M491.8 354.97h0M476.2 357.47h0M478.8 358.38h0M481.4 359.29h0M484 360.2h0M486.6 359.29h0M489.2 358.38h0M491.8 357.47h0M477.5 360.43h0M480.1 361.33h0M482.7 362.25h0M485.3 362.25h0M487.9 361.33h0M490.5 360.43h0M478.8 363.38h0M481.4 364.29h0M484 365.2h0M486.6 364.29h0M489.2 363.38h0M480.1 366.33h0M482.7 367.25h0M485.3 367.25h0M487.9 366.33h0M479.2 368.52h0M482.4 369.64h0M485.6 369.64h0M488.8 368.52h0M480.4 371.94h0M484 373.2h0M487.6 371.94h0M484 377.6h0" stroke="#c8102e" stroke-width="2.6" stroke-linecap="round"/><line x1="475" y1="347" x2="493.3" y2="347" stroke="#111" stroke-width="1.1"/><text x="483.8" y="317.2" font-size="6" text-anchor="middle" font-weight="bold" fill="#111" textLength="11.3" lengthAdjust="spacingAndGlyphs" transform="rotate(0.05 483.8 317.2)">****</text><path d="M309.1 118.6v1.6M312.3 118.6v1.6M315.5 118.6v1.6M318.7 118.6v1.6M321.9 118.6v1.6M325.1 118.6v1.6M328.3 118.6v1.6M331.5 118.6v1.6M334.7 118.6v1.6M337.9 118.6v1.6M341.1 118.6v1.6M344.3 118.6v1.6M347.5 118.6v1.6M350.7 118.6v1.6M353.9 118.6v1.6M357.1 118.6v1.6" stroke="#333" stroke-width="0.6"/><path d="M363.8 118.6v1.6M367.0 118.6v1.6M370.2 118.6v1.6M373.4 118.6v1.6M376.6 118.6v1.6M379.8 118.6v1.6M383.0 118.6v1.6M386.2 118.6v1.6M389.4 118.6v1.6M392.6 118.6v1.6M395.8 118.6v1.6M399.0 118.6v1.6M402.2 118.6v1.6M405.4 118.6v1.6M408.6 118.6v1.6M411.8 118.6v1.6" stroke="#333" stroke-width="0.6"/><path d="M30.4 258.3v1.6M33.8 258.3v1.6M37.2 258.3v1.6M40.6 258.3v1.6M44.0 258.3v1.6M47.4 258.3v1.6M50.8 258.3v1.6M54.2 258.3v1.6M57.6 258.3v1.6M61.0 258.3v1.6M64.4 258.3v1.6M67.8 258.3v1.6M71.2 258.3v1.6M74.6 258.3v1.6M78.0 258.3v1.6M81.4 258.3v1.6M84.8 258.3v1.6M88.2 258.3v1.6M91.6 258.3v1.6M95.0 258.3v1.6M98.4 258.3v1.6M101.8 258.3v1.6M105.2 258.3v1.6M108.6 258.3v1.6M112.0 258.3v1.6" stroke="#333" stroke-width="0.6"/><path d="M237.0 255.2v1.6M240.4 255.2v1.6M243.8 255.2v1.6M247.2 255.2v1.6M250.6 255.2v1.6M254.0 255.2v1.6M257.4 255.2v1.6M260.8 255.2v1.6M264.2 255.2v1.6M267.6 255.2v1.6M271.0 255.2v1.6M274.4 255.2v1.6M277.8 255.2v1.6M281.2 255.2v1.6M284.6 255.2v1.6M288.0 255.2v1.6M291.4 255.2v1.6M294.8 255.2v1.6M298.2 255.2v1.6M301.6 255.2v1.6M305.0 255.2v1.6M308.4 255.2v1.6M311.8 255.2v1.6M315.2 255.2v1.6M318.6 255.2v1.6" stroke="#333" stroke-width="0.6"/><rect x="306.8" y="103.6" width="1.6" height="5.4" fill="#222"/><rect x="361.5" y="103.8" width="1.6" height="5.4" fill="#222"/><rect x="28" y="248.3" width="1.6" height="5.4" fill="#222"/><rect x="234.6" y="247.3" width="1.6" height="5.4" fill="#222"/><rect x="0.6" y="0.6" width="518.8" height="431.8" fill="none" stroke="#5a5a5a" stroke-width="1.2"/></svg></body></html>
